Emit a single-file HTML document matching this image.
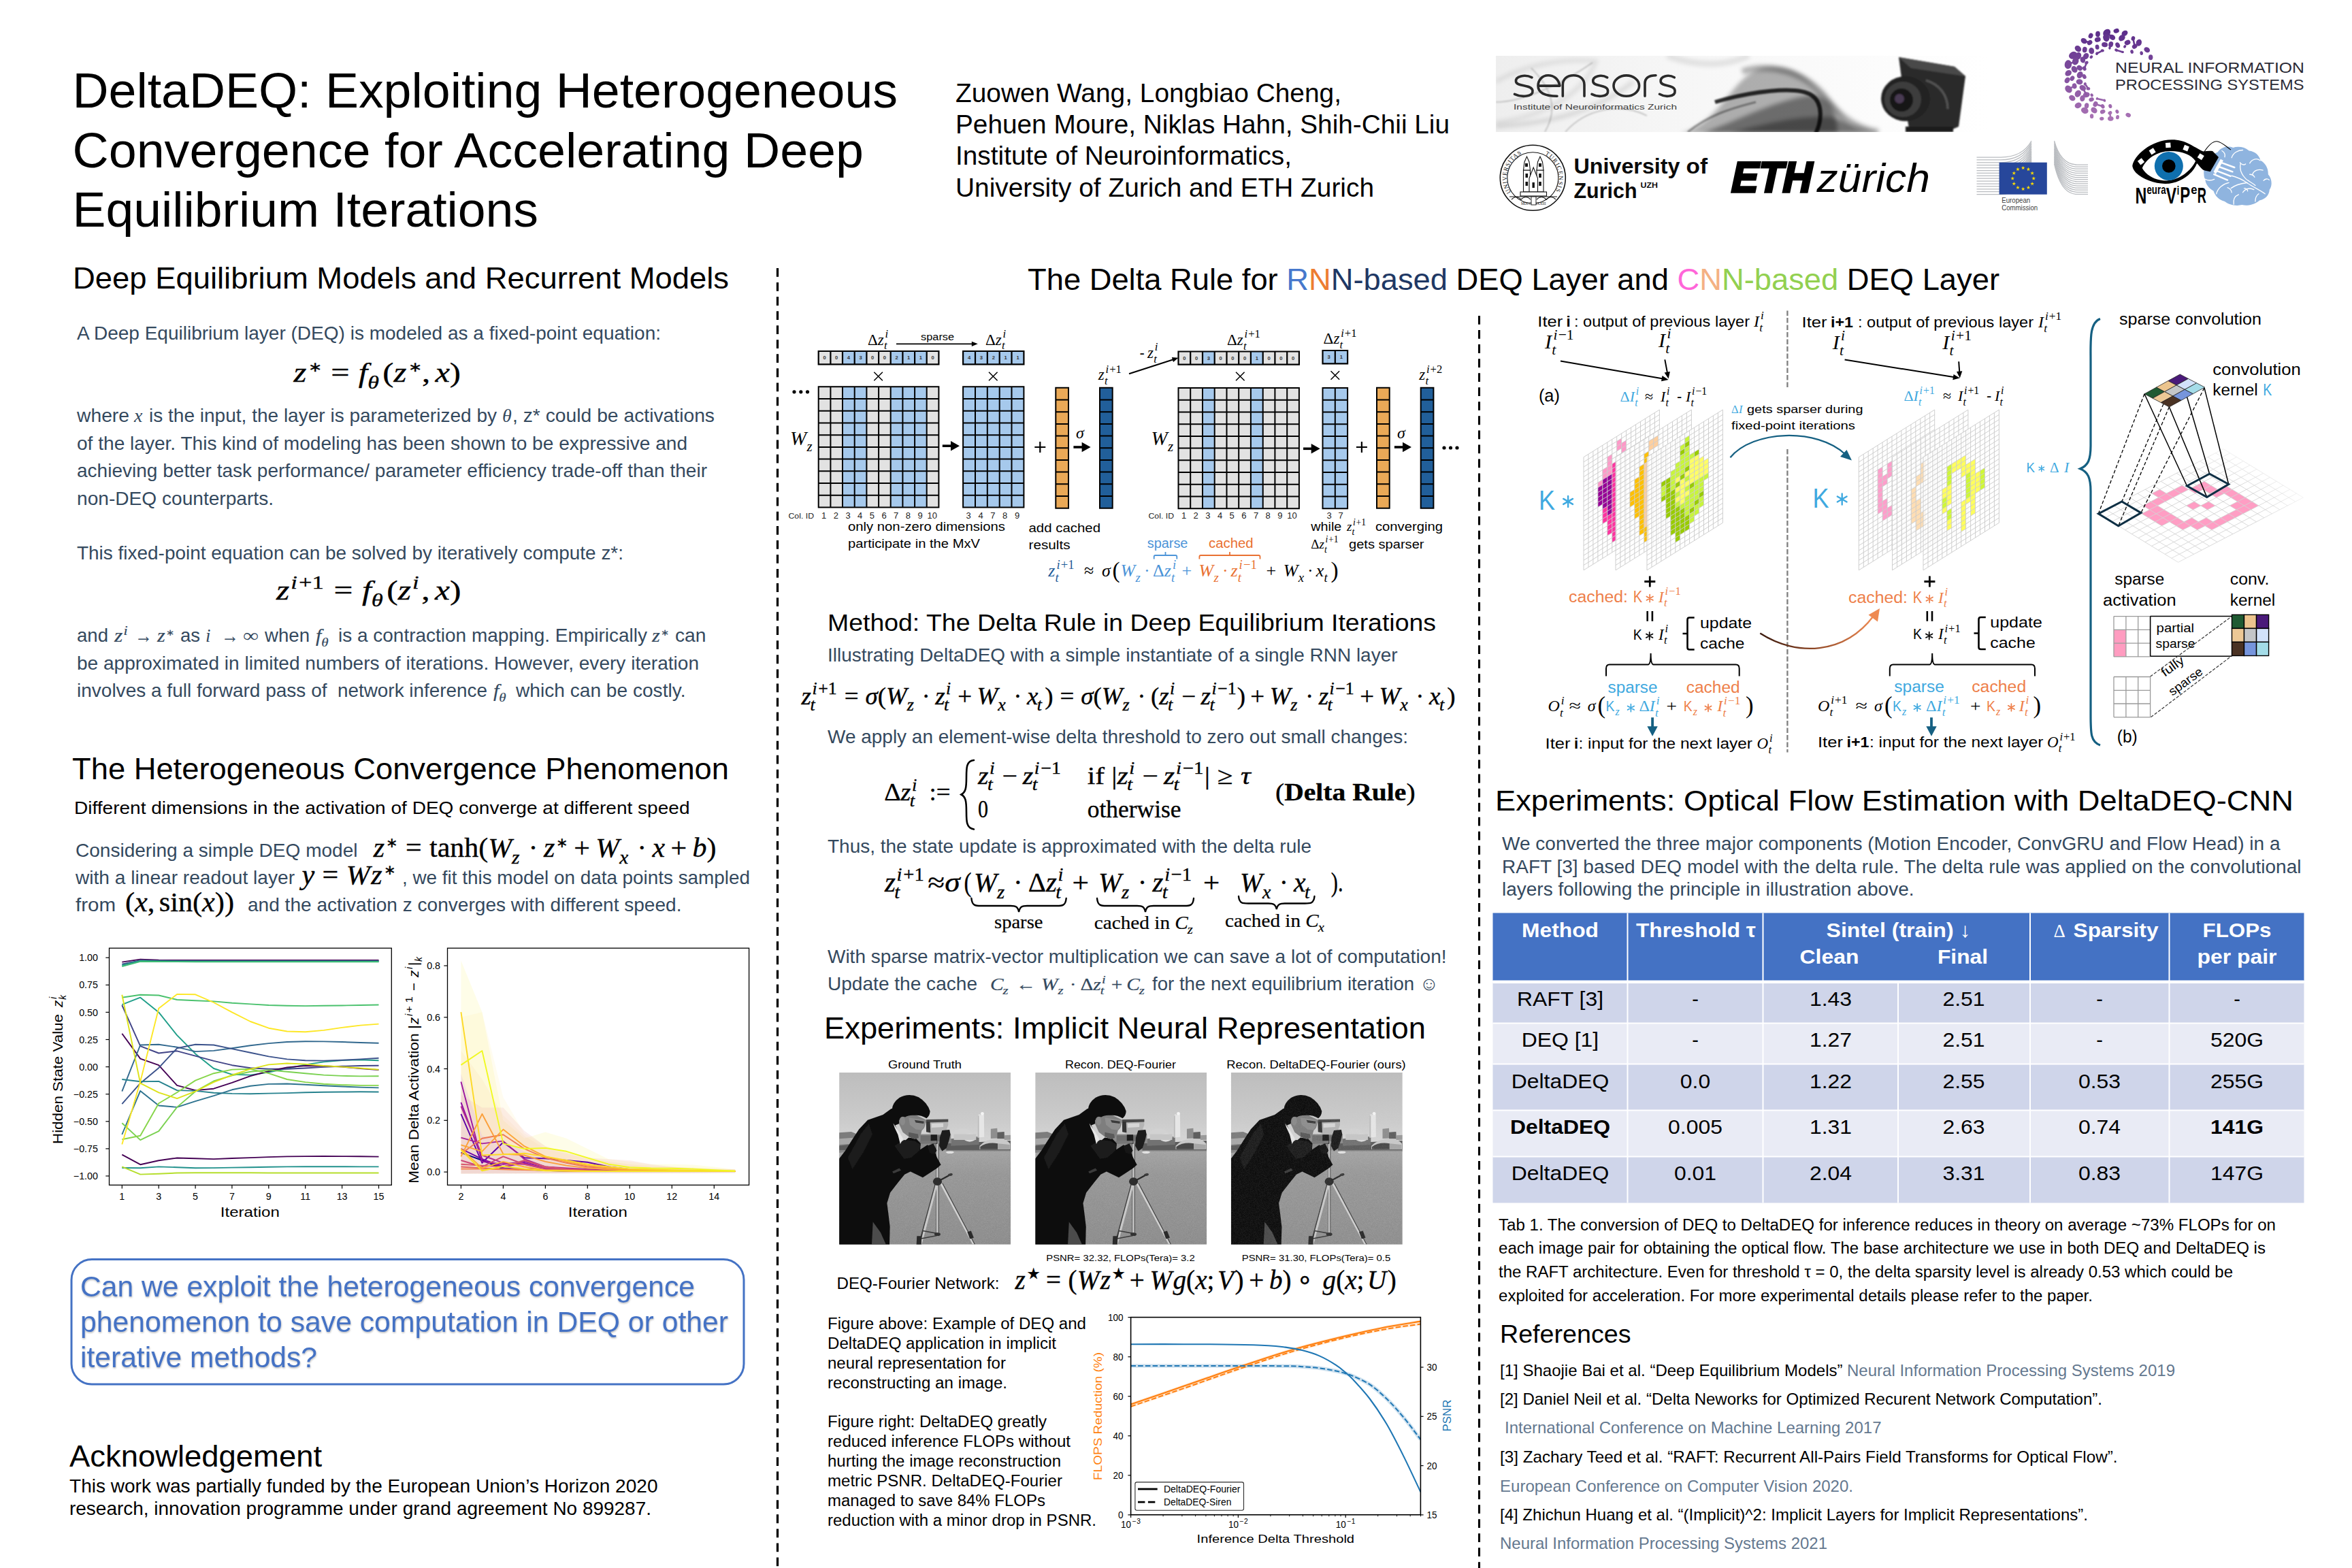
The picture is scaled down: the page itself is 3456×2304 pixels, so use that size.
<!DOCTYPE html>
<html><head><meta charset="utf-8"><title>DeltaDEQ poster</title>
<style>
html,body{margin:0;padding:0;background:#fff;}
body{width:3456px;height:2304px;overflow:hidden;font-family:"Liberation Sans",sans-serif;}
svg{display:block;font-family:"Liberation Sans",sans-serif;}
</style></head><body>
<svg width="3456" height="2304" viewBox="0 0 3456 2304">
<!-- p_text -->
<text x="106.5" y="157.5" font-size="72.0" textLength="1212.5" lengthAdjust="spacingAndGlyphs">DeltaDEQ: Exploiting Heterogeneous</text>
<text x="106.5" y="245.5" font-size="72.0" textLength="1162.5" lengthAdjust="spacingAndGlyphs">Convergence for Accelerating Deep</text>
<text x="106.5" y="332.5" font-size="72.0" textLength="684.5" lengthAdjust="spacingAndGlyphs">Equilibrium Iterations</text>
<text x="1404.0" y="150.0" font-size="39.0" textLength="567.0" lengthAdjust="spacingAndGlyphs">Zuowen Wang, Longbiao Cheng,</text>
<text x="1404.0" y="196.2" font-size="39.0" textLength="726.0" lengthAdjust="spacingAndGlyphs">Pehuen Moure, Niklas Hahn, Shih-Chii Liu</text>
<text x="1404.0" y="242.4" font-size="39.0" textLength="494.0" lengthAdjust="spacingAndGlyphs">Institute of Neuroinformatics,</text>
<text x="1404.0" y="288.6" font-size="39.0" textLength="615.0" lengthAdjust="spacingAndGlyphs">University of Zurich and ETH Zurich</text>
<line x1="1142.5" y1="394.0" x2="1142.5" y2="2304.0" stroke="#000" stroke-width="3.3" stroke-dasharray="12.8,8.25"/>
<line x1="2173.5" y1="464.0" x2="2173.5" y2="2304.0" stroke="#000" stroke-width="3.1" stroke-dasharray="12.8,8.25"/>
<text x="107.0" y="424.0" font-size="44.0" textLength="964.0" lengthAdjust="spacingAndGlyphs">Deep Equilibrium Models and Recurrent Models</text>
<text x="113.0" y="499.0" font-size="28.0" fill="#34495e" textLength="858.0" lengthAdjust="spacingAndGlyphs">A Deep Equilibrium layer (DEQ) is modeled as a fixed-point equation:</text>
<text x="113.0" y="620.0" font-size="28.0" fill="#34495e" textLength="77.0" lengthAdjust="spacingAndGlyphs">where</text>
<text x="197.0" y="620.0" font-size="28.0" font-family="Liberation Serif" font-style="italic" fill="#34495e">x</text>
<text x="219.0" y="620.0" font-size="28.0" fill="#34495e" textLength="511.0" lengthAdjust="spacingAndGlyphs">is the input, the layer is parameterized by</text>
<text x="738.0" y="620.0" font-size="28.0" font-family="Liberation Serif" font-style="italic" fill="#34495e">θ</text>
<text x="753.0" y="620.0" font-size="28.0" fill="#34495e" textLength="297.0" lengthAdjust="spacingAndGlyphs">, z* could be activations</text>
<text x="113.0" y="661.0" font-size="28.0" fill="#34495e" textLength="897.0" lengthAdjust="spacingAndGlyphs">of the layer. This kind of modeling has been shown to be expressive and</text>
<text x="113.0" y="701.0" font-size="28.0" fill="#34495e" textLength="926.0" lengthAdjust="spacingAndGlyphs">achieving better task performance/ parameter efficiency trade-off than their</text>
<text x="113.0" y="741.5" font-size="28.0" fill="#34495e" textLength="289.0" lengthAdjust="spacingAndGlyphs">non-DEQ counterparts.</text>
<text x="113.0" y="821.5" font-size="28.0" fill="#34495e" textLength="803.0" lengthAdjust="spacingAndGlyphs">This fixed-point equation can be solved by iteratively compute z*:</text>
<text x="113.0" y="983.5" font-size="28.0" fill="#34495e" textLength="914.0" lengthAdjust="spacingAndGlyphs">be approximated in limited numbers of iterations. However, every iteration</text>
<text x="106.0" y="1144.5" font-size="44.0" textLength="965.0" lengthAdjust="spacingAndGlyphs">The Heterogeneous Convergence Phenomenon</text>
<text x="109.0" y="1196.0" font-size="26.5" textLength="904.5" lengthAdjust="spacingAndGlyphs">Different dimensions in the activation of DEQ converge at different speed</text>
<text x="111.0" y="1259.0" font-size="28.0" fill="#34495e" textLength="414.5" lengthAdjust="spacingAndGlyphs">Considering a simple DEQ model</text>
<text x="111.0" y="1299.0" font-size="28.0" fill="#34495e" textLength="322.0" lengthAdjust="spacingAndGlyphs">with a linear readout layer</text>
<text x="591.0" y="1299.0" font-size="28.0" fill="#34495e" textLength="511.0" lengthAdjust="spacingAndGlyphs">, we fit this model on data points sampled</text>
<text x="111.0" y="1339.0" font-size="28.0" fill="#34495e" textLength="59.0" lengthAdjust="spacingAndGlyphs">from</text>
<text x="364.0" y="1339.0" font-size="28.0" fill="#34495e" textLength="637.5" lengthAdjust="spacingAndGlyphs">and the activation z converges with different speed.</text>
<rect x="105" y="1850.5" width="988" height="183.5" rx="30" ry="30" fill="#fff" stroke="#4472c4" stroke-width="3"/>
<g filter="url(#tsh)">
<text x="118.0" y="1905.0" font-size="43.0" fill="#4472c4" textLength="903.0" lengthAdjust="spacingAndGlyphs">Can we exploit the heterogeneous convergence</text>
<text x="118.0" y="1957.0" font-size="43.0" fill="#4472c4" textLength="952.0" lengthAdjust="spacingAndGlyphs">phenomenon to save computation in DEQ or other</text>
<text x="118.0" y="2008.5" font-size="43.0" fill="#4472c4" textLength="348.0" lengthAdjust="spacingAndGlyphs">iterative methods?</text>
</g>
<defs><filter id="tsh" x="-2%" y="-20%" width="104%" height="150%"><feDropShadow dx="0.5" dy="1.5" stdDeviation="1.2" flood-color="#000" flood-opacity="0.28"/></filter></defs>
<text x="102.0" y="2154.5" font-size="44.0" textLength="371.0" lengthAdjust="spacingAndGlyphs">Acknowledgement</text>
<text x="102.0" y="2193.0" font-size="27.5" textLength="864.5" lengthAdjust="spacingAndGlyphs">This work was partially funded by the European Union’s Horizon 2020</text>
<text x="102.0" y="2226.0" font-size="27.5" textLength="855.0" lengthAdjust="spacingAndGlyphs">research, innovation programme under grand agreement No 899287.</text>
<text x="1510.0" y="425.5" font-size="44.0" textLength="1428.0" lengthAdjust="spacingAndGlyphs" xml:space="preserve"><tspan fill="#000">The Delta Rule for </tspan><tspan fill="#4678cc">R</tspan><tspan fill="#ed7d31">N</tspan><tspan fill="#1f3864">N-based</tspan><tspan fill="#000"> DEQ Layer and </tspan><tspan fill="#ff66d9">C</tspan><tspan fill="#f4b183">N</tspan><tspan fill="#92d050">N-based</tspan><tspan fill="#000"> DEQ Layer</tspan></text>
<text x="1216.0" y="927.0" font-size="35.5" textLength="894.0" lengthAdjust="spacingAndGlyphs">Method: The Delta Rule in Deep Equilibrium Iterations</text>
<text x="1216.0" y="971.5" font-size="28.0" fill="#34495e" textLength="837.5" lengthAdjust="spacingAndGlyphs">Illustrating DeltaDEQ with a simple instantiate of a single RNN layer</text>
<text x="1216.0" y="1092.0" font-size="28.0" fill="#34495e" textLength="853.0" lengthAdjust="spacingAndGlyphs">We apply an element-wise delta threshold to zero out small changes:</text>
<text x="1216.0" y="1252.5" font-size="28.0" fill="#34495e" textLength="711.0" lengthAdjust="spacingAndGlyphs">Thus, the state update is approximated with the delta rule</text>
<text x="1216.0" y="1415.0" font-size="28.0" fill="#34495e" textLength="909.5" lengthAdjust="spacingAndGlyphs">With sparse matrix-vector multiplication we can save a lot of computation!</text>
<text x="1216.0" y="1454.5" font-size="28.0" fill="#34495e" textLength="220.0" lengthAdjust="spacingAndGlyphs">Update the cache</text>
<text x="1693.0" y="1454.5" font-size="28.0" fill="#34495e" textLength="421.0" lengthAdjust="spacingAndGlyphs">for the next equilibrium iteration ☺</text>
<text x="1211.0" y="1525.5" font-size="44.0" textLength="884.0" lengthAdjust="spacingAndGlyphs">Experiments: Implicit Neural Representation</text>
<text x="1229.5" y="1893.5" font-size="24.0" textLength="239.0" lengthAdjust="spacingAndGlyphs">DEQ-Fourier Network:</text>
<text x="1216.0" y="1953.0" font-size="23.5" textLength="380.0" lengthAdjust="spacingAndGlyphs">Figure above: Example of DEQ and</text>
<text x="1216.0" y="1982.0" font-size="23.5" textLength="336.0" lengthAdjust="spacingAndGlyphs">DeltaDEQ application in implicit</text>
<text x="1216.0" y="2010.5" font-size="23.5" textLength="262.0" lengthAdjust="spacingAndGlyphs">neural representation for</text>
<text x="1216.0" y="2039.5" font-size="23.5" textLength="264.0" lengthAdjust="spacingAndGlyphs">reconstructing an image.</text>
<text x="1216.0" y="2097.0" font-size="23.5" textLength="322.0" lengthAdjust="spacingAndGlyphs">Figure right: DeltaDEQ greatly</text>
<text x="1216.0" y="2125.5" font-size="23.5" textLength="357.0" lengthAdjust="spacingAndGlyphs">reduced inference FLOPs without</text>
<text x="1216.0" y="2154.5" font-size="23.5" textLength="343.0" lengthAdjust="spacingAndGlyphs">hurting the image reconstruction</text>
<text x="1216.0" y="2184.0" font-size="23.5" textLength="345.0" lengthAdjust="spacingAndGlyphs">metric PSNR. DeltaDEQ-Fourier</text>
<text x="1216.0" y="2213.0" font-size="23.5" textLength="320.0" lengthAdjust="spacingAndGlyphs">managed to save 84% FLOPs</text>
<text x="1216.0" y="2241.5" font-size="23.5" textLength="395.0" lengthAdjust="spacingAndGlyphs">reduction with a minor drop in PSNR.</text>
<text x="2197.0" y="1191.0" font-size="42.0" textLength="1173.0" lengthAdjust="spacingAndGlyphs">Experiments: Optical Flow Estimation with DeltaDEQ-CNN</text>
<text x="2207.0" y="1248.5" font-size="27.0" fill="#34495e" textLength="1143.5" lengthAdjust="spacingAndGlyphs">We converted the three major components (Motion Encoder, ConvGRU and Flow Head) in a</text>
<text x="2207.0" y="1282.5" font-size="27.0" fill="#34495e" textLength="1174.5" lengthAdjust="spacingAndGlyphs">RAFT [3] based DEQ model with the delta rule. The delta rule was applied on the convolutional</text>
<text x="2207.0" y="1315.5" font-size="27.0" fill="#34495e" textLength="605.5" lengthAdjust="spacingAndGlyphs">layers following the principle in illustration above.</text>
<text x="2202.0" y="1807.5" font-size="23.5" textLength="1142.0" lengthAdjust="spacingAndGlyphs">Tab 1. The conversion of DEQ to DeltaDEQ for inference reduces in theory on average ~73% FLOPs for on</text>
<text x="2202.0" y="1841.5" font-size="23.5" textLength="1127.0" lengthAdjust="spacingAndGlyphs">each image pair for obtaining the optical flow. The base architecture we use in both DEQ and DeltaDEQ is</text>
<text x="2202.0" y="1876.5" font-size="23.5" textLength="1079.0" lengthAdjust="spacingAndGlyphs">the RAFT architecture. Even for threshold τ = 0, the delta sparsity level is already 0.53 which could be</text>
<text x="2202.0" y="1912.0" font-size="23.5" textLength="873.0" lengthAdjust="spacingAndGlyphs">exploited for acceleration. For more experimental details please refer to the paper.</text>
<text x="2204.0" y="1973.0" font-size="37.0" textLength="192.5" lengthAdjust="spacingAndGlyphs">References</text>
<text x="2204.0" y="2021.5" font-size="24.0" textLength="503.5" lengthAdjust="spacingAndGlyphs">[1] Shaojie Bai et al. “Deep Equilibrium Models”</text>
<text x="2714.0" y="2021.5" font-size="24.0" fill="#64788f" textLength="482.0" lengthAdjust="spacingAndGlyphs">Neural Information Processing Systems 2019</text>
<text x="2204.0" y="2064.0" font-size="24.0" textLength="885.0" lengthAdjust="spacingAndGlyphs">[2] Daniel Neil et al. “Delta Neworks for Optimized Recurent Network Computation”.</text>
<text x="2211.0" y="2106.0" font-size="24.0" fill="#64788f" textLength="553.5" lengthAdjust="spacingAndGlyphs">International Conference on Machine Learning 2017</text>
<text x="2204.0" y="2149.0" font-size="24.0" textLength="907.5" lengthAdjust="spacingAndGlyphs">[3] Zachary Teed et al. “RAFT: Recurrent All-Pairs Field Transforms for Optical Flow”.</text>
<text x="2204.0" y="2191.5" font-size="24.0" fill="#64788f" textLength="519.0" lengthAdjust="spacingAndGlyphs">European Conference on Computer Vision 2020.</text>
<text x="2204.0" y="2233.5" font-size="24.0" textLength="864.0" lengthAdjust="spacingAndGlyphs">[4] Zhichun Huang et al. “(Implicit)^2: Implicit Layers for Implicit Representations”.</text>
<text x="2204.0" y="2276.0" font-size="24.0" fill="#64788f" textLength="481.0" lengthAdjust="spacingAndGlyphs">Neural Information Processing Systems 2021</text>
<!-- p_logos -->
<defs><linearGradient id="bn" x1="0" y1="0" x2="1" y2="0"><stop offset="0" stop-color="#eeeeee"/><stop offset="0.35" stop-color="#f6f6f6"/><stop offset="1" stop-color="#ffffff"/></linearGradient><clipPath id="bnc"><rect x="2198" y="82" width="722" height="112"/></clipPath><filter id="smk" x="-5%" y="-20%" width="110%" height="140%"><feGaussianBlur stdDeviation="3.2"/></filter><filter id="smk2" x="-5%" y="-20%" width="110%" height="140%"><feGaussianBlur stdDeviation="1.3"/></filter></defs>
<rect x="2198.0" y="82.0" width="722.0" height="112.0" fill="url(#bn)" />
<g clip-path="url(#bnc)">
<g filter="url(#smk)" stroke="none" fill="#000">
<path d="M2470 196 C2530 180 2545 110 2590 100 C2640 92 2660 120 2690 150 C2710 175 2720 190 2745 196Z" fill-opacity="0.30"/>
<path d="M2500 196 C2560 175 2600 150 2660 140 C2690 140 2700 170 2700 196Z" fill-opacity="0.38"/>
<path d="M2540 196 C2600 180 2640 170 2690 172 L2760 196Z" fill-opacity="0.35"/>
</g>
<g filter="url(#smk)" fill="none" stroke="#000">
<path d="M2198 120 C2240 95 2300 85 2345 90 C2330 130 2280 170 2198 180" stroke-width="5" stroke-opacity="0.10"/>
<path d="M2450 82 C2500 100 2540 95 2570 82" stroke-width="8" stroke-opacity="0.10"/>
<path d="M2198 186 C2290 180 2350 160 2400 120" stroke-width="6" stroke-opacity="0.12"/>
<path d="M2560 105 C2600 92 2650 105 2680 140 C2700 165 2720 188 2760 194" stroke-width="9" stroke-opacity="0.30"/>
</g>
<g filter="url(#smk2)" fill="none" stroke="#000">
<path d="M2520 150 C2570 135 2640 125 2662 140 C2680 152 2676 180 2668 196" stroke-width="6" stroke-opacity="0.8"/>
<path d="M2250 100 C2280 130 2290 160 2270 194 M2198 150 C2240 150 2300 120 2340 92 M2300 194 C2330 160 2380 150 2420 170" stroke-width="1.6" stroke-opacity="0.22"/>
<path d="M2480 194 C2510 170 2540 160 2580 150" stroke-width="3" stroke-opacity="0.35"/>
</g>
<g filter="url(#smk2)">
<polygon points="2790,84 2872,98 2888,112 2878,186 2860,194 2806,194 2800,160" fill="#2b2b2b"/>
<polygon points="2790,84 2872,98 2888,112 2808,100" fill="#4a4a4a"/>
<ellipse cx="2800" cy="145" rx="36" ry="33" fill="#232323"/>
<ellipse cx="2796" cy="146" rx="27" ry="26" fill="#3c3c3c"/>
<ellipse cx="2794" cy="147" rx="17" ry="17" fill="#141414"/>
<ellipse cx="2791" cy="145" rx="7" ry="7" fill="#4a3b52"/>
<path d="M2830 118 C2850 124 2862 140 2862 160" stroke="#555" stroke-width="3" fill="none"/>
<rect x="2800" y="186" width="70" height="8" fill="#1c1c1c"/>
</g>
</g>
<path d="M2251.0 113.8 C2240.8 108.8 2226.5 111.8 2227.5 119.8 C2228.6 127.8 2251.0 123.8 2252.0 133.3 C2253.0 142.3 2235.7 143.3 2225.5 138.3" fill="none" stroke="#2a2a2a" stroke-width="3.6" stroke-linecap="round" stroke-linejoin="round"/>
<path d="M2260.0 126.1 H2292.0 C2290.0 114.8 2282.0 110.8 2275.0 110.8 C2265.0 110.8 2260.0 118.8 2260.0 126.1 C2260.0 135.3 2267.0 141.3 2288.0 141.3" fill="none" stroke="#2a2a2a" stroke-width="3.6" stroke-linecap="round" stroke-linejoin="round"/>
<path d="M2296.3 141.3 V124.8 C2296.3 115.8 2303.1 110.8 2312.1 110.8 C2321.2 110.8 2328.0 115.8 2328.0 124.8 V141.3" fill="none" stroke="#2a2a2a" stroke-width="3.6" stroke-linecap="round" stroke-linejoin="round"/>
<path d="M2361.7 113.8 C2352.6 108.8 2339.9 111.8 2340.8 119.8 C2341.7 127.8 2361.7 123.8 2362.6 133.3 C2363.5 142.3 2348.1 143.3 2339.0 138.3" fill="none" stroke="#2a2a2a" stroke-width="3.6" stroke-linecap="round" stroke-linejoin="round"/>
<ellipse cx="2389.8" cy="126.1" rx="18.8" ry="15.2" fill="none" stroke="#2a2a2a" stroke-width="3.6"/>
<path d="M2417.0 141.3 V122.8 C2417.0 114.8 2423.0 110.8 2433.0 110.8" fill="none" stroke="#2a2a2a" stroke-width="3.6" stroke-linecap="round" stroke-linejoin="round"/>
<path d="M2460.3 113.8 C2451.6 108.8 2439.4 111.8 2440.2 119.8 C2441.1 127.8 2460.3 123.8 2461.1 133.3 C2462.0 142.3 2447.2 143.3 2438.5 138.3" fill="none" stroke="#2a2a2a" stroke-width="3.6" stroke-linecap="round" stroke-linejoin="round"/>
<text x="2224.0" y="161.2" font-size="10.8" fill="#3c3c3c" textLength="240.0" lengthAdjust="spacingAndGlyphs">Institute  of  Neuroinformatics  Zurich</text>
<circle cx="2252.3" cy="261.3" r="48.0" fill="#fff" stroke="#111" stroke-width="1.6"/>
<circle cx="2252.3" cy="261.3" r="37.5" fill="none" stroke="#111" stroke-width="1.1"/>
<defs><path id="sealp" d="M2220.8 283.4 A38.5 38.5 0 1 1 2283.8 283.4"/></defs>
<text font-size="9" font-family="Liberation Serif" fill="#111"><textPath href="#sealp" startOffset="1" textLength="66" lengthAdjust="spacing">UNIVERSITAS</textPath></text>
<text font-size="9" font-family="Liberation Serif" fill="#111"><textPath href="#sealp" startOffset="102" textLength="62" lengthAdjust="spacing">TURICENSIS</textPath></text>
<g fill="#fff" stroke="#111" stroke-width="1.1">
<rect x="2238.5" y="250" width="10" height="32"/><rect x="2258" y="250" width="10" height="32"/>
<path d="M2238.5 250 L2240 238 L2243.5 230 L2247 238 L2248.5 250Z"/><path d="M2258 250 L2259.5 238 L2263 230 L2266.5 238 L2268 250Z"/>
<path d="M2247 282 V262 L2253.2 246 L2259.5 262 V282Z"/>
<rect x="2234" y="282" width="38.5" height="6"/>
</g>
<g fill="#111"><rect x="2241.5" y="255" width="3.6" height="6"/><rect x="2261.2" y="255" width="3.6" height="6"/><rect x="2241.5" y="267" width="3.6" height="6"/><rect x="2261.2" y="267" width="3.6" height="6"/><rect x="2251.5" y="268" width="3.4" height="8"/><rect x="2241" y="240" width="4" height="5"/><rect x="2261" y="240" width="4" height="5"/></g>
<path d="M2218 289 H2288 M2221 293 Q2228 286 2235 293 Q2242 286 2249 293 M2258 293 Q2265 286 2272 293 Q2279 286 2286 293" fill="none" stroke="#111" stroke-width="1.1"/>
<text x="2253.2" y="301.0" font-size="5.2" font-family="Liberation Serif" fill="#111" text-anchor="middle">MDCCC  XXXIII</text>
<rect x="2250" y="289" width="7" height="12" fill="#fff" stroke="#111" stroke-width="0.9"/>
<text x="2312.5" y="255.0" font-size="31.5" font-weight="bold" fill="#0a0a0a" textLength="156.0" lengthAdjust="spacingAndGlyphs">University</text>
<text x="2477.5" y="255.0" font-size="31.5" font-weight="bold" fill="#0a0a0a" textLength="31.5" lengthAdjust="spacingAndGlyphs">of</text>
<text x="2312.5" y="291.2" font-size="31.5" font-weight="bold" fill="#0a0a0a" textLength="93.0" lengthAdjust="spacingAndGlyphs">Zurich</text>
<text x="2410.5" y="276.4" font-size="11.2" font-weight="bold" fill="#0a0a0a" textLength="25.5" lengthAdjust="spacingAndGlyphs">UZH</text>
<g transform="translate(2540,282) skewX(-12)"><text x="1.0" y="0.0" font-size="62.8" font-weight="bold" textLength="118.0" lengthAdjust="spacingAndGlyphs" stroke="#000" stroke-width="3.6" stroke-linejoin="miter">ETH</text></g>
<text x="2669.5" y="282.0" font-size="59.5" font-style="italic" textLength="166.5" lengthAdjust="spacingAndGlyphs">zürich</text>
<g stroke="#b9bcc0" stroke-width="1.25" fill="none">
<path d="M2904.5 231.0 H2940 Q2972 231.0 2985 207.0"/>
<path d="M2904.5 234.9 H2940 Q2972 234.9 2985 209.4"/>
<path d="M2904.5 238.8 H2940 Q2972 238.8 2985 211.8"/>
<path d="M2904.5 242.7 H2940 Q2972 242.7 2985 214.2"/>
<path d="M2904.5 246.6 H2940 Q2972 246.6 2985 216.6"/>
<path d="M2904.5 250.5 H2940 Q2972 250.5 2985 219.0"/>
<path d="M2904.5 254.4 H2940 Q2972 254.4 2985 221.4"/>
<path d="M2904.5 258.3 H2940 Q2972 258.3 2985 223.8"/>
<path d="M2904.5 262.2 H2940 Q2972 262.2 2985 226.2"/>
<path d="M2904.5 266.1 H2940 Q2972 266.1 2985 228.6"/>
<path d="M2904.5 270.0 H2940 Q2972 270.0 2985 231.0"/>
<path d="M2904.5 273.9 H2940 Q2972 273.9 2985 233.4"/>
<path d="M2904.5 277.8 H2940 Q2972 277.8 2985 235.8"/>
<path d="M2904.5 281.7 H2940 Q2972 281.7 2985 238.2"/>
<path d="M2904.5 285.6 H2940 Q2972 285.6 2985 240.6"/>
<path d="M3018.5 207.0 Q3028 242.0 3052 242.0 H3068"/>
<path d="M3018.5 209.4 Q3028 245.1 3052 245.1 H3068"/>
<path d="M3018.5 211.8 Q3028 248.2 3052 248.2 H3068"/>
<path d="M3018.5 214.2 Q3028 251.3 3052 251.3 H3068"/>
<path d="M3018.5 216.6 Q3028 254.4 3052 254.4 H3068"/>
<path d="M3018.5 219.0 Q3028 257.5 3052 257.5 H3068"/>
<path d="M3018.5 221.4 Q3028 260.6 3052 260.6 H3068"/>
<path d="M3018.5 223.8 Q3028 263.7 3052 263.7 H3068"/>
<path d="M3018.5 226.2 Q3028 266.8 3052 266.8 H3068"/>
<path d="M3018.5 228.6 Q3028 269.9 3052 269.9 H3068"/>
<path d="M3018.5 231.0 Q3028 273.0 3052 273.0 H3068"/>
<path d="M3018.5 233.4 Q3028 276.1 3052 276.1 H3068"/>
<path d="M3018.5 235.8 Q3028 279.2 3052 279.2 H3068"/>
<path d="M3018.5 238.2 Q3028 282.3 3052 282.3 H3068"/>
<path d="M3018.5 240.6 Q3028 285.4 3052 285.4 H3068"/>
</g>
<rect x="2937.6" y="238.7" width="70.2" height="47.0" fill="#27479b" />
<polygon points="2972.7,243.7 2973.4,245.7 2975.6,245.8 2973.8,247.1 2974.5,249.1 2972.7,247.9 2970.9,249.1 2971.6,247.1 2969.8,245.8 2972.0,245.7" fill="#ffdd00"/>
<polygon points="2980.4,245.8 2981.2,247.8 2983.3,247.8 2981.6,249.1 2982.2,251.2 2980.4,250.0 2978.7,251.2 2979.3,249.1 2977.6,247.8 2979.7,247.8" fill="#ffdd00"/>
<polygon points="2986.1,251.4 2986.8,253.5 2989.0,253.5 2987.3,254.8 2987.9,256.9 2986.1,255.6 2984.4,256.9 2985.0,254.8 2983.3,253.5 2985.4,253.5" fill="#ffdd00"/>
<polygon points="2988.2,259.2 2988.9,261.2 2991.1,261.3 2989.3,262.6 2990.0,264.6 2988.2,263.4 2986.4,264.6 2987.1,262.6 2985.3,261.3 2987.5,261.2" fill="#ffdd00"/>
<polygon points="2986.1,266.9 2986.8,269.0 2989.0,269.0 2987.3,270.3 2987.9,272.4 2986.1,271.1 2984.4,272.4 2985.0,270.3 2983.3,269.0 2985.4,269.0" fill="#ffdd00"/>
<polygon points="2980.4,272.6 2981.2,274.7 2983.3,274.7 2981.6,276.0 2982.2,278.1 2980.4,276.8 2978.7,278.1 2979.3,276.0 2977.6,274.7 2979.7,274.7" fill="#ffdd00"/>
<polygon points="2972.7,274.7 2973.4,276.7 2975.6,276.8 2973.8,278.1 2974.5,280.1 2972.7,278.9 2970.9,280.1 2971.6,278.1 2969.8,276.8 2972.0,276.7" fill="#ffdd00"/>
<polygon points="2964.9,272.6 2965.7,274.7 2967.8,274.7 2966.1,276.0 2966.7,278.1 2964.9,276.8 2963.2,278.1 2963.8,276.0 2962.1,274.7 2964.2,274.7" fill="#ffdd00"/>
<polygon points="2959.3,266.9 2960.0,269.0 2962.1,269.0 2960.4,270.3 2961.0,272.4 2959.3,271.1 2957.5,272.4 2958.1,270.3 2956.4,269.0 2958.6,269.0" fill="#ffdd00"/>
<polygon points="2957.2,259.2 2957.9,261.2 2960.1,261.3 2958.3,262.6 2959.0,264.6 2957.2,263.4 2955.4,264.6 2956.1,262.6 2954.3,261.3 2956.5,261.2" fill="#ffdd00"/>
<polygon points="2959.3,251.4 2960.0,253.5 2962.1,253.5 2960.4,254.8 2961.0,256.9 2959.3,255.6 2957.5,256.9 2958.1,254.8 2956.4,253.5 2958.6,253.5" fill="#ffdd00"/>
<polygon points="2964.9,245.8 2965.7,247.8 2967.8,247.8 2966.1,249.1 2966.7,251.2 2964.9,250.0 2963.2,251.2 2963.8,249.1 2962.1,247.8 2964.2,247.8" fill="#ffdd00"/>
<text x="2941.2" y="298.0" font-size="10.2" fill="#404040" textLength="42.0" lengthAdjust="spacingAndGlyphs">European</text>
<text x="2941.2" y="309.3" font-size="10.2" fill="#404040" textLength="53.0" lengthAdjust="spacingAndGlyphs">Commission</text>
<ellipse cx="3160.2" cy="84.3" rx="4.0" ry="3.2" fill="#734297" transform="rotate(90 3160.2 84.3)"/>
<ellipse cx="3154.7" cy="73.2" rx="4.6" ry="3.7" fill="#6c3c93" transform="rotate(33 3154.7 73.2)"/>
<ellipse cx="3142.8" cy="62.7" rx="5.1" ry="4.1" fill="#65368f" transform="rotate(107 3142.8 62.7)"/>
<ellipse cx="3134.4" cy="56.5" rx="3.4" ry="2.8" fill="#62338d" transform="rotate(104 3134.4 56.5)"/>
<ellipse cx="3122.0" cy="48.9" rx="4.8" ry="3.8" fill="#5d2f8b" transform="rotate(144 3122.0 48.9)"/>
<ellipse cx="3109.7" cy="45.3" rx="4.2" ry="3.3" fill="#5b2d8a" transform="rotate(164 3109.7 45.3)"/>
<ellipse cx="3095.7" cy="48.1" rx="6.0" ry="4.8" fill="#5d2e8b" transform="rotate(137 3095.7 48.1)"/>
<ellipse cx="3082.5" cy="50.0" rx="4.3" ry="3.4" fill="#5e308b" transform="rotate(94 3082.5 50.0)"/>
<ellipse cx="3072.1" cy="52.6" rx="4.0" ry="3.2" fill="#5f318c" transform="rotate(119 3072.1 52.6)"/>
<ellipse cx="3062.1" cy="60.1" rx="4.8" ry="3.8" fill="#64358f" transform="rotate(36 3062.1 60.1)"/>
<ellipse cx="3053.4" cy="71.6" rx="5.1" ry="4.1" fill="#6b3b92" transform="rotate(40 3053.4 71.6)"/>
<ellipse cx="3046.2" cy="81.3" rx="6.4" ry="5.2" fill="#714096" transform="rotate(152 3046.2 81.3)"/>
<ellipse cx="3038.9" cy="94.8" rx="6.5" ry="5.2" fill="#79489a" transform="rotate(97 3038.9 94.8)"/>
<ellipse cx="3039.2" cy="107.4" rx="5.1" ry="4.1" fill="#814f9e" transform="rotate(144 3039.2 107.4)"/>
<ellipse cx="3037.6" cy="117.9" rx="4.5" ry="3.6" fill="#8754a2" transform="rotate(122 3037.6 117.9)"/>
<ellipse cx="3039.5" cy="131.0" rx="5.9" ry="4.7" fill="#8f5ba6" transform="rotate(50 3039.5 131.0)"/>
<ellipse cx="3044.8" cy="144.0" rx="4.9" ry="3.9" fill="#9762aa" transform="rotate(34 3044.8 144.0)"/>
<ellipse cx="3053.6" cy="154.9" rx="5.1" ry="4.1" fill="#9d68ae" transform="rotate(155 3053.6 154.9)"/>
<ellipse cx="3063.3" cy="162.4" rx="5.5" ry="4.4" fill="#a26cb0" transform="rotate(23 3063.3 162.4)"/>
<ellipse cx="3073.6" cy="170.7" rx="3.4" ry="2.7" fill="#a771b3" transform="rotate(89 3073.6 170.7)"/>
<ellipse cx="3088.3" cy="174.4" rx="3.2" ry="2.6" fill="#a872b4" transform="rotate(169 3088.3 174.4)"/>
<ellipse cx="3101.3" cy="174.3" rx="4.3" ry="3.4" fill="#a872b4" transform="rotate(0 3101.3 174.3)"/>
<ellipse cx="3111.5" cy="172.2" rx="3.1" ry="2.5" fill="#a872b4" transform="rotate(97 3111.5 172.2)"/>
<ellipse cx="3127.2" cy="169.1" rx="3.9" ry="3.1" fill="#a670b3" transform="rotate(27 3127.2 169.1)"/>
<ellipse cx="3146.7" cy="78.1" rx="2.9" ry="2.3" fill="#6f3f95" transform="rotate(83 3146.7 78.1)"/>
<ellipse cx="3136.7" cy="68.2" rx="4.1" ry="3.3" fill="#693991" transform="rotate(144 3136.7 68.2)"/>
<ellipse cx="3126.1" cy="62.5" rx="4.5" ry="3.6" fill="#65368f" transform="rotate(157 3126.1 62.5)"/>
<ellipse cx="3117.9" cy="55.7" rx="5.2" ry="4.2" fill="#61338d" transform="rotate(138 3117.9 55.7)"/>
<ellipse cx="3103.7" cy="54.8" rx="4.8" ry="3.8" fill="#61328d" transform="rotate(36 3103.7 54.8)"/>
<ellipse cx="3094.9" cy="55.3" rx="5.9" ry="4.7" fill="#61328d" transform="rotate(83 3094.9 55.3)"/>
<ellipse cx="3082.3" cy="58.2" rx="4.5" ry="3.6" fill="#63348e" transform="rotate(161 3082.3 58.2)"/>
<ellipse cx="3070.6" cy="62.6" rx="4.1" ry="3.3" fill="#65368f" transform="rotate(144 3070.6 62.6)"/>
<ellipse cx="3063.3" cy="73.0" rx="4.3" ry="3.4" fill="#6c3c93" transform="rotate(96 3063.3 73.0)"/>
<ellipse cx="3053.7" cy="82.1" rx="5.5" ry="4.4" fill="#714196" transform="rotate(109 3053.7 82.1)"/>
<ellipse cx="3049.7" cy="89.9" rx="5.7" ry="4.6" fill="#764598" transform="rotate(110 3049.7 89.9)"/>
<ellipse cx="3048.1" cy="101.9" rx="5.2" ry="4.1" fill="#7d4c9c" transform="rotate(57 3048.1 101.9)"/>
<ellipse cx="3044.9" cy="115.1" rx="3.9" ry="3.1" fill="#8553a1" transform="rotate(126 3044.9 115.1)"/>
<ellipse cx="3048.2" cy="126.4" rx="4.1" ry="3.3" fill="#8c59a5" transform="rotate(74 3048.2 126.4)"/>
<ellipse cx="3053.3" cy="137.6" rx="5.4" ry="4.3" fill="#935fa8" transform="rotate(122 3053.3 137.6)"/>
<ellipse cx="3059.9" cy="144.5" rx="4.6" ry="3.7" fill="#9763aa" transform="rotate(97 3059.9 144.5)"/>
<ellipse cx="3066.1" cy="155.2" rx="4.0" ry="3.2" fill="#9d68ae" transform="rotate(98 3066.1 155.2)"/>
<ellipse cx="3077.0" cy="162.0" rx="5.0" ry="4.0" fill="#a26cb0" transform="rotate(40 3077.0 162.0)"/>
<ellipse cx="3089.7" cy="164.1" rx="3.9" ry="3.1" fill="#a36db1" transform="rotate(152 3089.7 164.1)"/>
<ellipse cx="3100.4" cy="165.9" rx="3.1" ry="2.5" fill="#a46eb2" transform="rotate(152 3100.4 165.9)"/>
<ellipse cx="3110.9" cy="163.9" rx="3.0" ry="2.4" fill="#a36db1" transform="rotate(66 3110.9 163.9)"/>
<ellipse cx="3132.6" cy="76.0" rx="2.9" ry="2.3" fill="#6e3e94" transform="rotate(77 3132.6 76.0)"/>
<ellipse cx="3122.2" cy="68.3" rx="2.4" ry="1.9" fill="#693991" transform="rotate(127 3122.2 68.3)"/>
<ellipse cx="3111.7" cy="66.3" rx="4.1" ry="3.2" fill="#683891" transform="rotate(64 3111.7 66.3)"/>
<ellipse cx="3101.7" cy="65.1" rx="4.2" ry="3.4" fill="#673890" transform="rotate(106 3101.7 65.1)"/>
<ellipse cx="3092.6" cy="65.7" rx="4.5" ry="3.6" fill="#673890" transform="rotate(5 3092.6 65.7)"/>
<ellipse cx="3081.6" cy="69.1" rx="3.7" ry="2.9" fill="#693a92" transform="rotate(81 3081.6 69.1)"/>
<ellipse cx="3073.2" cy="74.7" rx="4.8" ry="3.9" fill="#6d3d93" transform="rotate(78 3073.2 74.7)"/>
<ellipse cx="3065.1" cy="82.5" rx="4.9" ry="3.9" fill="#714196" transform="rotate(125 3065.1 82.5)"/>
<ellipse cx="3060.4" cy="87.9" rx="4.7" ry="3.7" fill="#754498" transform="rotate(73 3060.4 87.9)"/>
<ellipse cx="3055.7" cy="99.9" rx="4.5" ry="3.6" fill="#7c4a9c" transform="rotate(36 3055.7 99.9)"/>
<ellipse cx="3056.2" cy="110.0" rx="5.2" ry="4.2" fill="#82509f" transform="rotate(122 3056.2 110.0)"/>
<ellipse cx="3055.5" cy="120.3" rx="4.9" ry="4.0" fill="#8856a3" transform="rotate(6 3055.5 120.3)"/>
<ellipse cx="3060.3" cy="129.2" rx="5.0" ry="4.0" fill="#8e5aa5" transform="rotate(31 3060.3 129.2)"/>
<ellipse cx="3065.7" cy="139.2" rx="5.0" ry="4.0" fill="#9460a9" transform="rotate(168 3065.7 139.2)"/>
<ellipse cx="3073.1" cy="146.2" rx="3.8" ry="3.0" fill="#9864ab" transform="rotate(159 3073.1 146.2)"/>
<ellipse cx="3079.0" cy="153.0" rx="4.2" ry="3.4" fill="#9c67ad" transform="rotate(113 3079.0 153.0)"/>
<ellipse cx="3089.7" cy="156.3" rx="3.4" ry="2.7" fill="#9e69ae" transform="rotate(62 3089.7 156.3)"/>
<ellipse cx="3100.8" cy="156.0" rx="3.1" ry="2.5" fill="#9e69ae" transform="rotate(75 3100.8 156.0)"/>
<ellipse cx="3118.9" cy="76.4" rx="2.1" ry="1.6" fill="#6e3e94" transform="rotate(10 3118.9 76.4)"/>
<ellipse cx="3109.6" cy="73.6" rx="2.6" ry="2.1" fill="#6c3c93" transform="rotate(34 3109.6 73.6)"/>
<ellipse cx="3100.0" cy="70.4" rx="2.3" ry="1.8" fill="#6a3b92" transform="rotate(100 3100.0 70.4)"/>
<ellipse cx="3089.3" cy="74.4" rx="2.6" ry="2.1" fill="#6d3d93" transform="rotate(3 3089.3 74.4)"/>
<ellipse cx="3081.2" cy="78.6" rx="2.5" ry="2.0" fill="#6f3f95" transform="rotate(122 3081.2 78.6)"/>
<ellipse cx="3072.9" cy="83.7" rx="2.6" ry="2.1" fill="#724296" transform="rotate(136 3072.9 83.7)"/>
<ellipse cx="3066.0" cy="92.2" rx="2.9" ry="2.3" fill="#774699" transform="rotate(143 3066.0 92.2)"/>
<ellipse cx="3062.8" cy="100.6" rx="3.4" ry="2.7" fill="#7c4b9c" transform="rotate(70 3062.8 100.6)"/>
<ellipse cx="3062.6" cy="112.5" rx="3.6" ry="2.9" fill="#8451a0" transform="rotate(62 3062.6 112.5)"/>
<ellipse cx="3063.7" cy="123.3" rx="2.4" ry="1.9" fill="#8a57a3" transform="rotate(121 3063.7 123.3)"/>
<ellipse cx="3068.4" cy="130.2" rx="2.9" ry="2.3" fill="#8e5ba6" transform="rotate(9 3068.4 130.2)"/>
<ellipse cx="3073.7" cy="139.8" rx="2.6" ry="2.1" fill="#9460a9" transform="rotate(62 3073.7 139.8)"/>
<ellipse cx="3081.4" cy="144.9" rx="2.0" ry="1.6" fill="#9763ab" transform="rotate(125 3081.4 144.9)"/>
<ellipse cx="3092.4" cy="147.6" rx="2.2" ry="1.8" fill="#9964ac" transform="rotate(68 3092.4 147.6)"/>
<line x1="3134.4" y1="56.5" x2="3136.7" y2="68.2" stroke="#62338d" stroke-width="2.6" stroke-linecap="round"/>
<line x1="3095.7" y1="48.1" x2="3103.7" y2="54.8" stroke="#5d2e8b" stroke-width="2.6" stroke-linecap="round"/>
<line x1="3062.1" y1="60.1" x2="3070.6" y2="62.6" stroke="#64358f" stroke-width="2.6" stroke-linecap="round"/>
<line x1="3038.9" y1="94.8" x2="3049.7" y2="89.9" stroke="#79489a" stroke-width="2.6" stroke-linecap="round"/>
<line x1="3039.5" y1="131.0" x2="3048.2" y2="126.4" stroke="#8f5ba6" stroke-width="2.6" stroke-linecap="round"/>
<line x1="3063.3" y1="162.4" x2="3066.1" y2="155.2" stroke="#a26cb0" stroke-width="2.6" stroke-linecap="round"/>
<line x1="3101.3" y1="174.3" x2="3100.4" y2="165.9" stroke="#a872b4" stroke-width="2.6" stroke-linecap="round"/>
<line x1="3060.3" y1="129.2" x2="3065.7" y2="139.2" stroke="#8e5aa5" stroke-width="2.6" stroke-linecap="round"/>
<line x1="3079.0" y1="153.0" x2="3089.7" y2="156.3" stroke="#9c67ad" stroke-width="2.6" stroke-linecap="round"/>
<line x1="3118.9" y1="76.4" x2="3109.6" y2="73.6" stroke="#6e3e94" stroke-width="2.6" stroke-linecap="round"/>
<line x1="3089.3" y1="74.4" x2="3081.2" y2="78.6" stroke="#6d3d93" stroke-width="2.6" stroke-linecap="round"/>
<line x1="3066.0" y1="92.2" x2="3062.8" y2="100.6" stroke="#774699" stroke-width="2.6" stroke-linecap="round"/>
<line x1="3063.7" y1="123.3" x2="3068.4" y2="130.2" stroke="#8a57a3" stroke-width="2.6" stroke-linecap="round"/>
<line x1="3081.4" y1="144.9" x2="3092.4" y2="147.6" stroke="#9763ab" stroke-width="2.6" stroke-linecap="round"/>
<text x="3108.0" y="107.0" font-size="21.5" fill="#2b2b36" textLength="278.0" lengthAdjust="spacingAndGlyphs">NEURAL INFORMATION</text>
<text x="3108.0" y="131.5" font-size="21.5" fill="#2b2b36" textLength="277.5" lengthAdjust="spacingAndGlyphs">PROCESSING SYSTEMS</text>
<g transform="translate(3120,195) scale(0.10204)">
<path d="M1160 590 C1150 520 1200 470 1260 450 C1250 380 1290 300 1360 280 C1400 210 1500 180 1580 215 C1660 190 1760 210 1810 260 C1900 270 1960 330 1975 400 C2050 440 2090 520 2085 600 C2140 660 2150 760 2105 820 C2100 900 2040 960 1960 975 C1900 1030 1800 1060 1710 1040 C1620 1060 1520 1040 1460 990 C1380 970 1320 910 1300 840 C1230 800 1180 740 1180 670 C1165 650 1160 620 1160 590Z" fill="#8fb4df"/>
<g fill="none" stroke="#fff" stroke-width="13" stroke-linecap="round">
<path d="M1560 360 C1580 290 1650 250 1720 250"/><path d="M1420 260 C1460 280 1470 320 1460 350"/>
<path d="M1820 440 C1850 380 1920 360 1970 400"/><path d="M1680 430 C1700 460 1740 470 1760 450"/>
<path d="M1690 440 C1670 520 1700 600 1760 660 C1800 700 1860 720 1900 760"/>
<path d="M1860 600 C1880 540 1950 520 2010 540"/><path d="M1820 600 C1860 600 1880 620 1890 640"/>
<path d="M2020 690 C2040 660 2080 660 2100 680"/>
<path d="M1560 620 C1640 640 1720 680 1780 720 C1700 730 1600 760 1550 800"/>
<path d="M1780 720 C1860 780 1960 820 2040 880"/>
<path d="M1340 880 C1360 800 1430 740 1520 720"/><path d="M1500 790 C1530 800 1560 830 1560 860"/>
<path d="M1720 860 C1760 800 1830 790 1880 820"/><path d="M1740 800 C1770 800 1790 820 1790 840"/>
<path d="M1590 1030 C1580 960 1610 910 1660 890"/><path d="M1900 990 C1900 930 1920 900 1950 880"/>
<path d="M1180 670 C1220 690 1270 690 1310 670"/>
</g>
<g stroke="#fff" stroke-width="24" stroke-linecap="round">
<path d="M1395 425 L1600 500"/><path d="M1365 485 L1572 562"/><path d="M1335 545 L1545 625"/><path d="M1305 600 L1500 682"/>
</g>
<path d="M1300 560 L1400 380 L1440 400 L1330 600Z" fill="#fff"/>
<path fill-rule="evenodd" fill="#000" d="M130 480 C150 330 400 100 700 100 C900 100 1000 200 1150 270 C1200 262 1250 258 1285 265 L1372 352 L1252 562 L1170 545 C1120 520 1090 470 1060 440 C1000 600 800 740 600 735 C400 730 150 620 130 480 Z M272 510 C330 380 480 265 680 265 C850 265 980 320 1040 410 C980 540 820 680 620 690 C450 690 330 610 272 510 Z"/>
<circle cx="655" cy="480" r="206" fill="#0f6fae"/><circle cx="655" cy="480" r="96" fill="#000"/>
<rect x="219" y="379" width="72" height="72" fill="#fff" transform="rotate(-38 255 415)"/>
<rect x="382" y="232" width="72" height="72" fill="#fff" transform="rotate(-32 418 268)"/>
<rect x="609" y="144" width="72" height="72" fill="#fff" transform="rotate(-4 645 180)"/>
<rect x="867" y="186" width="72" height="72" fill="#fff" transform="rotate(22 903 222)"/>
<rect x="1079" y="309" width="72" height="72" fill="#fff" transform="rotate(32 1115 345)"/>
<path d="M1165 275 C1220 190 1280 118 1350 125 C1420 135 1480 200 1548 246" fill="none" stroke="#000" stroke-width="11"/>
</g>
<text x="3137.4" y="299.1" font-size="34.0" font-weight="bold" textLength="16.8" lengthAdjust="spacingAndGlyphs">N</text>
<text x="3154.5" y="284.8" font-size="17.8" font-weight="bold" textLength="28.0" lengthAdjust="spacingAndGlyphs">eura</text>
<text x="3182.8" y="299.1" font-size="33.0" font-weight="bold" textLength="15.3" lengthAdjust="spacingAndGlyphs">V</text>
<text x="3198.8" y="285.8" font-size="17.5" font-weight="bold" textLength="3.4" lengthAdjust="spacingAndGlyphs">i</text>
<text x="3203.3" y="298.2" font-size="33.5" font-weight="bold" textLength="15.0" lengthAdjust="spacingAndGlyphs">P</text>
<text x="3219.2" y="284.8" font-size="17.8" font-weight="bold" textLength="9.3" lengthAdjust="spacingAndGlyphs">e</text>
<text x="3228.8" y="298.2" font-size="31.0" font-weight="bold" textLength="13.2" lengthAdjust="spacingAndGlyphs">R</text>
<!-- p_chart1 -->
<rect x="160.5" y="1393.2" width="414.8" height="348.1" fill="#fff" />
<polyline points="179.3,1413.6 206.2,1409.6 233.2,1410.7 260.1,1411.0 287.1,1411.0 314.0,1411.0 340.9,1411.0 367.9,1411.0 394.8,1411.0 421.8,1411.0 448.7,1411.0 475.6,1411.0 502.6,1411.0 529.5,1411.0 556.5,1411.0" fill="none" stroke="#440154" stroke-width="1.9" stroke-linejoin="round"/>
<polyline points="179.3,1416.8 206.2,1411.2 233.2,1411.7 260.1,1411.9 287.1,1412.0 314.0,1412.0 340.9,1412.0 367.9,1412.0 394.8,1412.0 421.8,1412.0 448.7,1412.0 475.6,1412.0 502.6,1412.0 529.5,1412.0 556.5,1412.0" fill="none" stroke="#3b528b" stroke-width="1.9" stroke-linejoin="round"/>
<polyline points="179.3,1418.4 206.2,1411.7 233.2,1412.3 260.1,1412.5 287.1,1412.7 314.0,1412.7 340.9,1412.7 367.9,1412.7 394.8,1412.7 421.8,1412.7 448.7,1412.7 475.6,1412.7 502.6,1412.7 529.5,1412.7 556.5,1412.7" fill="none" stroke="#21918c" stroke-width="1.9" stroke-linejoin="round"/>
<polyline points="179.3,1420.0 206.2,1412.8 233.2,1413.0 260.1,1413.1 287.1,1413.3 314.0,1413.3 340.9,1413.3 367.9,1413.3 394.8,1413.3 421.8,1413.3 448.7,1413.3 475.6,1413.3 502.6,1413.3 529.5,1413.3 556.5,1413.3" fill="none" stroke="#3dbc74" stroke-width="1.9" stroke-linejoin="round"/>
<polyline points="179.3,1465.7 206.2,1461.7 233.2,1462.5 260.1,1469.0 287.1,1470.2 314.0,1471.4 340.9,1473.8 367.9,1475.4 394.8,1477.0 421.8,1477.8 448.7,1478.1 475.6,1477.8 502.6,1477.5 529.5,1477.0 556.5,1476.5" fill="none" stroke="#4ac16d" stroke-width="1.9" stroke-linejoin="round"/>
<polyline points="179.3,1476.2 206.2,1465.7 233.2,1487.4 260.1,1521.1 287.1,1548.4 314.0,1570.0 340.9,1578.8 367.9,1579.6 394.8,1575.6 421.8,1570.0 448.7,1564.4 475.6,1560.4 502.6,1558.0 529.5,1557.2 556.5,1558.3" fill="none" stroke="#1f9e89" stroke-width="1.9" stroke-linejoin="round"/>
<polyline points="179.3,1477.0 206.2,1537.1 233.2,1547.5 260.1,1544.3 287.1,1551.6 314.0,1558.8 340.9,1565.2 367.9,1569.2 394.8,1570.8 421.8,1570.8 448.7,1569.5 475.6,1567.9 502.6,1566.8 529.5,1566.0 556.5,1565.7" fill="none" stroke="#414487" stroke-width="1.9" stroke-linejoin="round"/>
<polyline points="179.3,1518.7 206.2,1555.6 233.2,1565.2 260.1,1594.9 287.1,1602.1 314.0,1599.7 340.9,1590.9 367.9,1581.2 394.8,1574.0 421.8,1568.4 448.7,1566.0 475.6,1566.3 502.6,1567.6 529.5,1570.0 556.5,1572.1" fill="none" stroke="#440154" stroke-width="1.9" stroke-linejoin="round"/>
<polyline points="179.3,1603.7 206.2,1535.5 233.2,1534.7 260.1,1538.7 287.1,1545.1 314.0,1543.9 340.9,1540.3 367.9,1536.3 394.8,1533.1 421.8,1531.0 448.7,1530.2 475.6,1530.4 502.6,1531.0 529.5,1532.0 556.5,1532.8" fill="none" stroke="#31688e" stroke-width="1.9" stroke-linejoin="round"/>
<polyline points="179.3,1622.1 206.2,1591.7 233.2,1569.2 260.1,1540.3 287.1,1534.7 314.0,1535.5 340.9,1541.1 367.9,1546.7 394.8,1552.4 421.8,1556.4 448.7,1558.3 475.6,1558.6 502.6,1557.7 529.5,1556.4 556.5,1554.8" fill="none" stroke="#3b528b" stroke-width="1.9" stroke-linejoin="round"/>
<polyline points="179.3,1586.0 206.2,1589.3 233.2,1588.9 260.1,1602.1 287.1,1602.9 314.0,1605.8 340.9,1606.9 367.9,1607.2 394.8,1606.6 421.8,1606.1 448.7,1605.3 475.6,1604.8 502.6,1604.5 529.5,1604.3 556.5,1604.5" fill="none" stroke="#26828e" stroke-width="1.9" stroke-linejoin="round"/>
<polyline points="179.3,1667.0 206.2,1602.9 233.2,1624.5 260.1,1626.9 287.1,1618.1 314.0,1610.1 340.9,1601.3 367.9,1595.7 394.8,1592.9 421.8,1592.5 448.7,1593.7 475.6,1595.2 502.6,1596.5 529.5,1597.6 556.5,1598.4" fill="none" stroke="#2c728e" stroke-width="1.9" stroke-linejoin="round"/>
<polyline points="179.3,1650.2 206.2,1675.1 233.2,1662.2 260.1,1626.9 287.1,1603.7 314.0,1588.5 340.9,1580.4 367.9,1574.8 394.8,1572.4 421.8,1574.8 448.7,1577.2 475.6,1579.6 502.6,1580.9 529.5,1581.4 556.5,1581.2" fill="none" stroke="#7ad151" stroke-width="1.9" stroke-linejoin="round"/>
<polyline points="179.3,1674.3 206.2,1668.7 233.2,1621.3 260.1,1605.3 287.1,1587.6 314.0,1577.2 340.9,1571.6 367.9,1570.8 394.8,1577.2 421.8,1586.0 448.7,1590.1 475.6,1592.8 502.6,1594.1 529.5,1594.9 556.5,1594.9" fill="none" stroke="#86d549" stroke-width="1.9" stroke-linejoin="round"/>
<polyline points="179.3,1696.7 206.2,1711.2 233.2,1705.2 260.1,1701.5 287.1,1702.3 314.0,1703.1 340.9,1702.0 367.9,1701.1 394.8,1700.1 421.8,1699.4 448.7,1699.1 475.6,1699.0 502.6,1699.1 529.5,1699.3 556.5,1699.6" fill="none" stroke="#440154" stroke-width="1.9" stroke-linejoin="round"/>
<polyline points="179.3,1716.0 206.2,1716.3 233.2,1714.4 260.1,1715.2 287.1,1716.3 314.0,1716.1 340.9,1715.6 367.9,1715.2 394.8,1714.7 421.8,1714.4 448.7,1714.2 475.6,1714.2 502.6,1714.2 529.5,1714.4 556.5,1714.4" fill="none" stroke="#21918c" stroke-width="1.9" stroke-linejoin="round"/>
<polyline points="179.3,1714.4 206.2,1725.6 233.2,1724.8 260.1,1723.5 287.1,1723.2 314.0,1723.2 340.9,1723.2 367.9,1723.3 394.8,1723.5 421.8,1723.5 448.7,1723.5 475.6,1723.5 502.6,1723.5 529.5,1723.5 556.5,1723.5" fill="none" stroke="#b5de2b" stroke-width="1.9" stroke-linejoin="round"/>
<polyline points="179.3,1461.7 206.2,1591.7 233.2,1605.3 260.1,1614.1 287.1,1603.7 314.0,1590.1 340.9,1579.6 367.9,1570.8 394.8,1564.4 421.8,1562.5 448.7,1563.6 475.6,1566.0 502.6,1567.6 529.5,1569.5 556.5,1571.6" fill="none" stroke="#dde318" stroke-width="1.9" stroke-linejoin="round"/>
<polyline points="179.3,1681.5 206.2,1589.3 233.2,1481.8 260.1,1460.9 287.1,1461.3 314.0,1473.0 340.9,1487.4 367.9,1501.0 394.8,1510.7 421.8,1515.5 448.7,1516.3 475.6,1513.9 502.6,1509.9 529.5,1506.6 556.5,1504.6" fill="none" stroke="#fde725" stroke-width="1.9" stroke-linejoin="round"/>
<rect x="160.5" y="1393.2" width="414.8" height="348.1" fill="none" stroke="#000" stroke-width="1.3" />
<line x1="179.3" y1="1741.3" x2="179.3" y2="1746.5" stroke="#000" stroke-width="1.2" />
<text x="179.3" y="1763.0" font-size="14.3" text-anchor="middle">1</text>
<line x1="233.2" y1="1741.3" x2="233.2" y2="1746.5" stroke="#000" stroke-width="1.2" />
<text x="233.2" y="1763.0" font-size="14.3" text-anchor="middle">3</text>
<line x1="287.1" y1="1741.3" x2="287.1" y2="1746.5" stroke="#000" stroke-width="1.2" />
<text x="287.1" y="1763.0" font-size="14.3" text-anchor="middle">5</text>
<line x1="340.9" y1="1741.3" x2="340.9" y2="1746.5" stroke="#000" stroke-width="1.2" />
<text x="340.9" y="1763.0" font-size="14.3" text-anchor="middle">7</text>
<line x1="394.8" y1="1741.3" x2="394.8" y2="1746.5" stroke="#000" stroke-width="1.2" />
<text x="394.8" y="1763.0" font-size="14.3" text-anchor="middle">9</text>
<line x1="448.7" y1="1741.3" x2="448.7" y2="1746.5" stroke="#000" stroke-width="1.2" />
<text x="448.7" y="1763.0" font-size="14.3" text-anchor="middle">11</text>
<line x1="502.6" y1="1741.3" x2="502.6" y2="1746.5" stroke="#000" stroke-width="1.2" />
<text x="502.6" y="1763.0" font-size="14.3" text-anchor="middle">13</text>
<line x1="556.5" y1="1741.3" x2="556.5" y2="1746.5" stroke="#000" stroke-width="1.2" />
<text x="556.5" y="1763.0" font-size="14.3" text-anchor="middle">15</text>
<line x1="155.3" y1="1407.2" x2="160.5" y2="1407.2" stroke="#000" stroke-width="1.2" />
<text x="144.0" y="1412.3" font-size="14.3" text-anchor="end">1.00</text>
<line x1="155.3" y1="1447.3" x2="160.5" y2="1447.3" stroke="#000" stroke-width="1.2" />
<text x="144.0" y="1452.4" font-size="14.3" text-anchor="end">0.75</text>
<line x1="155.3" y1="1487.4" x2="160.5" y2="1487.4" stroke="#000" stroke-width="1.2" />
<text x="144.0" y="1492.5" font-size="14.3" text-anchor="end">0.50</text>
<line x1="155.3" y1="1527.5" x2="160.5" y2="1527.5" stroke="#000" stroke-width="1.2" />
<text x="144.0" y="1532.6" font-size="14.3" text-anchor="end">0.25</text>
<line x1="155.3" y1="1567.6" x2="160.5" y2="1567.6" stroke="#000" stroke-width="1.2" />
<text x="144.0" y="1572.7" font-size="14.3" text-anchor="end">0.00</text>
<line x1="155.3" y1="1607.7" x2="160.5" y2="1607.7" stroke="#000" stroke-width="1.2" />
<text x="144.0" y="1612.8" font-size="14.3" text-anchor="end">−0.25</text>
<line x1="155.3" y1="1647.8" x2="160.5" y2="1647.8" stroke="#000" stroke-width="1.2" />
<text x="144.0" y="1652.9" font-size="14.3" text-anchor="end">−0.50</text>
<line x1="155.3" y1="1687.9" x2="160.5" y2="1687.9" stroke="#000" stroke-width="1.2" />
<text x="144.0" y="1693.0" font-size="14.3" text-anchor="end">−0.75</text>
<line x1="155.3" y1="1728.0" x2="160.5" y2="1728.0" stroke="#000" stroke-width="1.2" />
<text x="144.0" y="1733.1" font-size="14.3" text-anchor="end">−1.00</text>
<text x="367.3" y="1788.4" font-size="20.5" text-anchor="middle" textLength="87.0" lengthAdjust="spacingAndGlyphs">Iteration</text>
<g transform="translate(92.3,1681) rotate(-90)"><text x="0.0" y="0.0" font-size="20.5" textLength="191.0" lengthAdjust="spacingAndGlyphs">Hidden State Value</text><text x="201.0" y="0.0" font-size="20.5" font-style="italic">z</text><text x="213.0" y="-9.0" font-size="14.0" font-style="italic">i</text><text x="212.0" y="5.0" font-size="14.0" font-style="italic">k</text></g>
<rect x="657.5" y="1393.2" width="443.1" height="348.1" fill="#fff" />
<polygon points="677.4,1411.4 708.4,1487.2 739.4,1646.3 770.4,1672.8 801.4,1663.4 832.3,1672.8 863.3,1688.0 894.3,1703.2 925.3,1706.9 956.3,1710.7 987.3,1710.7 1018.3,1711.5 1049.3,1714.5 1080.3,1718.3 1080.3,1723.2 677.4,1724.4" fill="#fdf9a8" fill-opacity="0.26"/>
<polygon points="677.4,1494.8 708.4,1487.2 739.4,1612.2 770.4,1665.3 801.4,1684.2 832.3,1691.8 863.3,1699.4 894.3,1706.9 925.3,1710.7 956.3,1712.6 987.3,1714.5 1018.3,1714.5 1049.3,1716.4 1080.3,1718.3 1080.3,1723.2 677.4,1724.4" fill="#fde98a" fill-opacity="0.13"/>
<polygon points="677.4,1544.0 708.4,1585.7 739.4,1638.7 770.4,1669.1 801.4,1688.0 832.3,1695.6 863.3,1703.2 894.3,1706.9 925.3,1710.7 956.3,1714.5 987.3,1714.5 1018.3,1716.4 1049.3,1717.6 1080.3,1718.3 1080.3,1723.2 677.4,1724.4" fill="#fbd7a0" fill-opacity="0.16"/>
<polygon points="677.4,1608.4 708.4,1627.4 739.4,1627.4 770.4,1661.5 801.4,1684.2 832.3,1693.7 863.3,1701.3 894.3,1703.2 925.3,1705.0 956.3,1710.7 987.3,1714.5 1018.3,1716.4 1049.3,1717.6 1080.3,1718.3 1080.3,1723.2 677.4,1724.4" fill="#f2b8b0" fill-opacity="0.22"/>
<polygon points="677.4,1578.1 708.4,1669.1 739.4,1676.6 770.4,1691.8 801.4,1699.4 832.3,1703.2 863.3,1706.9 894.3,1710.7 925.3,1714.5 956.3,1716.4 987.3,1718.3 1018.3,1718.3 1049.3,1719.1 1080.3,1719.8 1080.3,1723.2 677.4,1724.4" fill="#d9b3e6" fill-opacity="0.26"/>
<polyline points="677.4,1693.7 708.4,1705.0 739.4,1717.6 770.4,1718.3 801.4,1719.8 832.3,1720.7 863.3,1721.0 894.3,1721.0 925.3,1721.0 956.3,1721.0 987.3,1721.0 1018.3,1721.0 1049.3,1721.0 1080.3,1721.0" fill="none" stroke="#0d0887" stroke-width="1.9" stroke-linejoin="round"/>
<polyline points="677.4,1636.8 708.4,1708.8 739.4,1678.5 770.4,1701.3 801.4,1702.4 832.3,1705.0 863.3,1707.7 894.3,1714.5 925.3,1718.3 956.3,1719.8 987.3,1720.7 1018.3,1721.0 1049.3,1721.0 1080.3,1721.0" fill="none" stroke="#5c01a6" stroke-width="1.9" stroke-linejoin="round"/>
<polyline points="677.4,1688.0 708.4,1703.2 739.4,1716.4 770.4,1718.3 801.4,1719.1 832.3,1720.3 863.3,1721.0 894.3,1721.0 925.3,1721.0 956.3,1721.0 987.3,1721.0 1018.3,1721.0 1049.3,1721.0 1080.3,1721.0" fill="none" stroke="#6a00a8" stroke-width="1.9" stroke-linejoin="round"/>
<polyline points="677.4,1619.8 708.4,1703.2 739.4,1714.5 770.4,1708.8 801.4,1716.4 832.3,1717.6 863.3,1719.1 894.3,1720.3 925.3,1721.0 956.3,1721.0 987.3,1721.0 1018.3,1721.0 1049.3,1721.0 1080.3,1721.0" fill="none" stroke="#8b0aa5" stroke-width="1.9" stroke-linejoin="round"/>
<polyline points="677.4,1589.5 708.4,1706.9 739.4,1710.7 770.4,1706.9 801.4,1714.5 832.3,1717.6 863.3,1719.1 894.3,1720.3 925.3,1721.0 956.3,1721.0 987.3,1721.0 1018.3,1721.0 1049.3,1721.0 1080.3,1721.0" fill="none" stroke="#9c179e" stroke-width="1.9" stroke-linejoin="round"/>
<polyline points="677.4,1671.7 708.4,1680.4 739.4,1676.6 770.4,1703.2 801.4,1714.5 832.3,1716.4 863.3,1718.3 894.3,1719.8 925.3,1720.7 956.3,1721.0 987.3,1721.0 1018.3,1721.0 1049.3,1721.0 1080.3,1721.0" fill="none" stroke="#a72197" stroke-width="1.9" stroke-linejoin="round"/>
<polyline points="677.4,1625.5 708.4,1697.5 739.4,1708.8 770.4,1710.7 801.4,1717.6 832.3,1718.3 863.3,1719.8 894.3,1720.7 925.3,1721.0 956.3,1721.0 987.3,1721.0 1018.3,1721.0 1049.3,1721.0 1080.3,1721.0" fill="none" stroke="#b12a90" stroke-width="1.9" stroke-linejoin="round"/>
<polyline points="677.4,1705.0 708.4,1714.5 739.4,1699.4 770.4,1710.7 801.4,1716.4 832.3,1718.3 863.3,1719.8 894.3,1720.7 925.3,1721.0 956.3,1721.0 987.3,1721.0 1018.3,1721.0 1049.3,1721.0 1080.3,1721.0" fill="none" stroke="#cc4778" stroke-width="1.9" stroke-linejoin="round"/>
<polyline points="677.4,1710.7 708.4,1712.6 739.4,1714.5 770.4,1705.0 801.4,1714.5 832.3,1717.6 863.3,1719.4 894.3,1720.5 925.3,1721.0 956.3,1721.0 987.3,1721.0 1018.3,1721.0 1049.3,1721.0 1080.3,1721.0" fill="none" stroke="#d8576b" stroke-width="1.9" stroke-linejoin="round"/>
<polyline points="677.4,1714.5 708.4,1716.4 739.4,1717.6 770.4,1718.3 801.4,1719.1 832.3,1720.3 863.3,1721.0 894.3,1721.0 925.3,1721.0 956.3,1721.0 987.3,1721.0 1018.3,1721.0 1049.3,1721.0 1080.3,1721.0" fill="none" stroke="#e16462" stroke-width="1.9" stroke-linejoin="round"/>
<polyline points="677.4,1695.6 708.4,1672.8 739.4,1667.2 770.4,1688.0 801.4,1701.3 832.3,1708.8 863.3,1714.5 894.3,1716.4 925.3,1718.3 956.3,1719.8 987.3,1720.7 1018.3,1721.0 1049.3,1721.0 1080.3,1721.0" fill="none" stroke="#ed7953" stroke-width="1.9" stroke-linejoin="round"/>
<polyline points="677.4,1717.6 708.4,1717.6 739.4,1718.3 770.4,1719.1 801.4,1719.8 832.3,1720.7 863.3,1721.0 894.3,1721.0 925.3,1721.0 956.3,1721.0 987.3,1721.0 1018.3,1721.0 1049.3,1721.0 1080.3,1721.0" fill="none" stroke="#f2844b" stroke-width="1.9" stroke-linejoin="round"/>
<polyline points="677.4,1682.3 708.4,1691.8 739.4,1659.6 770.4,1684.2 801.4,1699.4 832.3,1706.9 863.3,1712.6 894.3,1716.4 925.3,1718.3 956.3,1719.8 987.3,1720.7 1018.3,1721.0 1049.3,1721.0 1080.3,1721.0" fill="none" stroke="#fca636" stroke-width="1.9" stroke-linejoin="round"/>
<polyline points="677.4,1699.4 708.4,1636.8 739.4,1695.6 770.4,1697.5 801.4,1706.9 832.3,1712.6 863.3,1716.4 894.3,1718.3 925.3,1719.8 956.3,1720.7 987.3,1721.0 1018.3,1721.0 1049.3,1721.0 1080.3,1721.0" fill="none" stroke="#fb9f3a" stroke-width="1.9" stroke-linejoin="round"/>
<polyline points="677.4,1688.0 708.4,1716.4 739.4,1706.9 770.4,1714.5 801.4,1719.1 832.3,1719.8 863.3,1720.7 894.3,1721.0 925.3,1721.0 956.3,1721.0 987.3,1721.0 1018.3,1721.0 1049.3,1721.0 1080.3,1721.0" fill="none" stroke="#fdb42f" stroke-width="1.9" stroke-linejoin="round"/>
<polyline points="677.4,1487.2 708.4,1697.5 739.4,1696.3 770.4,1694.8 801.4,1699.4 832.3,1705.0 863.3,1710.7 894.3,1714.5 925.3,1717.6 956.3,1718.3 987.3,1719.1 1018.3,1719.8 1049.3,1720.2 1080.3,1720.6" fill="none" stroke="#fdd926" stroke-width="1.9" stroke-linejoin="round"/>
<polyline points="677.4,1689.9 708.4,1720.2 739.4,1713.8 770.4,1717.6 801.4,1720.2 832.3,1720.6 863.3,1721.0 894.3,1721.0 925.3,1721.0 956.3,1721.0 987.3,1721.0 1018.3,1721.0 1049.3,1721.0 1080.3,1721.0" fill="none" stroke="#f7e225" stroke-width="1.9" stroke-linejoin="round"/>
<polyline points="677.4,1564.9 708.4,1544.0 739.4,1680.4 770.4,1688.0 801.4,1686.9 832.3,1691.8 863.3,1701.3 894.3,1710.7 925.3,1715.3 956.3,1716.4 987.3,1716.8 1018.3,1717.6 1049.3,1719.1 1080.3,1720.6" fill="none" stroke="#f0f921" stroke-width="1.9" stroke-linejoin="round"/>
<rect x="657.5" y="1393.2" width="443.1" height="348.1" fill="none" stroke="#000" stroke-width="1.3" />
<line x1="677.4" y1="1741.3" x2="677.4" y2="1746.5" stroke="#000" stroke-width="1.2" />
<text x="677.4" y="1763.0" font-size="14.3" text-anchor="middle">2</text>
<line x1="739.4" y1="1741.3" x2="739.4" y2="1746.5" stroke="#000" stroke-width="1.2" />
<text x="739.4" y="1763.0" font-size="14.3" text-anchor="middle">4</text>
<line x1="801.4" y1="1741.3" x2="801.4" y2="1746.5" stroke="#000" stroke-width="1.2" />
<text x="801.4" y="1763.0" font-size="14.3" text-anchor="middle">6</text>
<line x1="863.3" y1="1741.3" x2="863.3" y2="1746.5" stroke="#000" stroke-width="1.2" />
<text x="863.3" y="1763.0" font-size="14.3" text-anchor="middle">8</text>
<line x1="925.3" y1="1741.3" x2="925.3" y2="1746.5" stroke="#000" stroke-width="1.2" />
<text x="925.3" y="1763.0" font-size="14.3" text-anchor="middle">10</text>
<line x1="987.3" y1="1741.3" x2="987.3" y2="1746.5" stroke="#000" stroke-width="1.2" />
<text x="987.3" y="1763.0" font-size="14.3" text-anchor="middle">12</text>
<line x1="1049.3" y1="1741.3" x2="1049.3" y2="1746.5" stroke="#000" stroke-width="1.2" />
<text x="1049.3" y="1763.0" font-size="14.3" text-anchor="middle">14</text>
<line x1="652.3" y1="1722.1" x2="657.5" y2="1722.1" stroke="#000" stroke-width="1.2" />
<text x="647.0" y="1727.2" font-size="14.3" text-anchor="end">0.0</text>
<line x1="652.3" y1="1646.3" x2="657.5" y2="1646.3" stroke="#000" stroke-width="1.2" />
<text x="647.0" y="1651.4" font-size="14.3" text-anchor="end">0.2</text>
<line x1="652.3" y1="1570.5" x2="657.5" y2="1570.5" stroke="#000" stroke-width="1.2" />
<text x="647.0" y="1575.6" font-size="14.3" text-anchor="end">0.4</text>
<line x1="652.3" y1="1494.8" x2="657.5" y2="1494.8" stroke="#000" stroke-width="1.2" />
<text x="647.0" y="1499.9" font-size="14.3" text-anchor="end">0.6</text>
<line x1="652.3" y1="1419.0" x2="657.5" y2="1419.0" stroke="#000" stroke-width="1.2" />
<text x="647.0" y="1424.1" font-size="14.3" text-anchor="end">0.8</text>
<text x="878.3" y="1788.4" font-size="20.5" text-anchor="middle" textLength="87.0" lengthAdjust="spacingAndGlyphs">Iteration</text>
<g transform="translate(615,1739) rotate(-90)"><text x="0.0" y="0.0" font-size="20.5" textLength="233.0" lengthAdjust="spacingAndGlyphs">Mean Delta Activation |</text><text x="234.0" y="0.0" font-size="20.5" font-style="italic">z</text><text x="246.0" y="-9.0" font-size="14.0" font-style="italic">i</text><text x="251.0" y="-9.0" font-size="14.0" textLength="24.0" lengthAdjust="spacingAndGlyphs">+ 1</text><text x="283.0" y="0.0" font-size="20.5" >−</text><text x="303.0" y="0.0" font-size="20.5" font-style="italic">z</text><text x="315.0" y="-9.0" font-size="14.0" font-style="italic">i</text><text x="320.0" y="0.0" font-size="20.5" >|</text><text x="326.0" y="5.0" font-size="14.0" font-style="italic">k</text></g>
<!-- p_rnn -->
<rect x="1202.7" y="516.0" width="17.7" height="19.3" fill="#e2e2e2" />
<rect x="1220.4" y="516.0" width="17.7" height="19.3" fill="#e2e2e2" />
<rect x="1238.0" y="516.0" width="17.7" height="19.3" fill="#a6c9ec" />
<rect x="1255.7" y="516.0" width="17.7" height="19.3" fill="#a6c9ec" />
<rect x="1273.4" y="516.0" width="17.7" height="19.3" fill="#e2e2e2" />
<rect x="1291.1" y="516.0" width="17.7" height="19.3" fill="#e2e2e2" />
<rect x="1308.7" y="516.0" width="17.7" height="19.3" fill="#a6c9ec" />
<rect x="1326.4" y="516.0" width="17.7" height="19.3" fill="#a6c9ec" />
<rect x="1344.1" y="516.0" width="17.7" height="19.3" fill="#a6c9ec" />
<rect x="1361.7" y="516.0" width="17.7" height="19.3" fill="#e2e2e2" />
<path d="M1202.7 516.0V535.3M1220.4 516.0V535.3M1238.0 516.0V535.3M1255.7 516.0V535.3M1273.4 516.0V535.3M1291.1 516.0V535.3M1308.7 516.0V535.3M1326.4 516.0V535.3M1344.1 516.0V535.3M1361.7 516.0V535.3M1379.4 516.0V535.3M1202.7 516.0H1379.4M1202.7 535.3H1379.4" fill="none" stroke="#000" stroke-width="2.2" stroke-linecap="square"/><text x="1211.5" y="528.4" font-size="7.6" font-weight="bold" fill="#333" text-anchor="middle">0</text><text x="1229.2" y="528.4" font-size="7.6" font-weight="bold" fill="#333" text-anchor="middle">0</text><text x="1246.9" y="528.4" font-size="7.6" font-weight="bold" fill="#333" text-anchor="middle">4</text><text x="1264.5" y="528.4" font-size="7.6" font-weight="bold" fill="#333" text-anchor="middle">3</text><text x="1282.2" y="528.4" font-size="7.6" font-weight="bold" fill="#333" text-anchor="middle">0</text><text x="1299.9" y="528.4" font-size="7.6" font-weight="bold" fill="#333" text-anchor="middle">0</text><text x="1317.6" y="528.4" font-size="7.6" font-weight="bold" fill="#333" text-anchor="middle">2</text><text x="1335.2" y="528.4" font-size="7.6" font-weight="bold" fill="#333" text-anchor="middle">1</text><text x="1352.9" y="528.4" font-size="7.6" font-weight="bold" fill="#333" text-anchor="middle">1</text><text x="1370.6" y="528.4" font-size="7.6" font-weight="bold" fill="#333" text-anchor="middle">0</text>
<rect x="1202.7" y="568.3" width="17.7" height="177.2" fill="#e2e2e2" />
<rect x="1220.4" y="568.3" width="17.7" height="177.2" fill="#e2e2e2" />
<rect x="1238.0" y="568.3" width="17.7" height="177.2" fill="#a6c9ec" />
<rect x="1255.7" y="568.3" width="17.7" height="177.2" fill="#a6c9ec" />
<rect x="1273.4" y="568.3" width="17.7" height="177.2" fill="#e2e2e2" />
<rect x="1291.1" y="568.3" width="17.7" height="177.2" fill="#e2e2e2" />
<rect x="1308.7" y="568.3" width="17.7" height="177.2" fill="#a6c9ec" />
<rect x="1326.4" y="568.3" width="17.7" height="177.2" fill="#a6c9ec" />
<rect x="1344.1" y="568.3" width="17.7" height="177.2" fill="#a6c9ec" />
<rect x="1361.7" y="568.3" width="17.7" height="177.2" fill="#e2e2e2" />
<path d="M1202.7 568.3V745.5M1220.4 568.3V745.5M1238.0 568.3V745.5M1255.7 568.3V745.5M1273.4 568.3V745.5M1291.1 568.3V745.5M1308.7 568.3V745.5M1326.4 568.3V745.5M1344.1 568.3V745.5M1361.7 568.3V745.5M1379.4 568.3V745.5M1202.7 568.3H1379.4M1202.7 586.0H1379.4M1202.7 603.7H1379.4M1202.7 621.5H1379.4M1202.7 639.2H1379.4M1202.7 656.9H1379.4M1202.7 674.6H1379.4M1202.7 692.3H1379.4M1202.7 710.1H1379.4M1202.7 727.8H1379.4M1202.7 745.5H1379.4" fill="none" stroke="#000" stroke-width="2.0" stroke-linecap="square"/>
<rect x="1415.1" y="516.0" width="17.9" height="19.3" fill="#a6c9ec" />
<rect x="1433.0" y="516.0" width="17.9" height="19.3" fill="#a6c9ec" />
<rect x="1450.8" y="516.0" width="17.9" height="19.3" fill="#a6c9ec" />
<rect x="1468.7" y="516.0" width="17.9" height="19.3" fill="#a6c9ec" />
<rect x="1486.5" y="516.0" width="17.9" height="19.3" fill="#a6c9ec" />
<path d="M1415.1 516.0V535.3M1433.0 516.0V535.3M1450.8 516.0V535.3M1468.7 516.0V535.3M1486.5 516.0V535.3M1504.4 516.0V535.3M1415.1 516.0H1504.4M1415.1 535.3H1504.4" fill="none" stroke="#000" stroke-width="2.2" stroke-linecap="square"/><text x="1424.0" y="528.4" font-size="7.6" font-weight="bold" fill="#333" text-anchor="middle">4</text><text x="1441.9" y="528.4" font-size="7.6" font-weight="bold" fill="#333" text-anchor="middle">3</text><text x="1459.8" y="528.4" font-size="7.6" font-weight="bold" fill="#333" text-anchor="middle">2</text><text x="1477.6" y="528.4" font-size="7.6" font-weight="bold" fill="#333" text-anchor="middle">1</text><text x="1495.5" y="528.4" font-size="7.6" font-weight="bold" fill="#333" text-anchor="middle">1</text>
<rect x="1415.1" y="568.3" width="17.9" height="177.2" fill="#a6c9ec" />
<rect x="1433.0" y="568.3" width="17.9" height="177.2" fill="#a6c9ec" />
<rect x="1450.8" y="568.3" width="17.9" height="177.2" fill="#a6c9ec" />
<rect x="1468.7" y="568.3" width="17.9" height="177.2" fill="#a6c9ec" />
<rect x="1486.5" y="568.3" width="17.9" height="177.2" fill="#a6c9ec" />
<path d="M1415.1 568.3V745.5M1433.0 568.3V745.5M1450.8 568.3V745.5M1468.7 568.3V745.5M1486.5 568.3V745.5M1504.4 568.3V745.5M1415.1 568.3H1504.4M1415.1 586.0H1504.4M1415.1 603.7H1504.4M1415.1 621.5H1504.4M1415.1 639.2H1504.4M1415.1 656.9H1504.4M1415.1 674.6H1504.4M1415.1 692.3H1504.4M1415.1 710.1H1504.4M1415.1 727.8H1504.4M1415.1 745.5H1504.4" fill="none" stroke="#000" stroke-width="2.0" stroke-linecap="square"/>
<rect x="1551.3" y="569.8" width="18.7" height="176.9" fill="#eaa957" />
<path d="M1551.3 569.8V746.7M1570.0 569.8V746.7M1551.3 569.8H1570.0M1551.3 587.5H1570.0M1551.3 605.2H1570.0M1551.3 622.9H1570.0M1551.3 640.6H1570.0M1551.3 658.2H1570.0M1551.3 675.9H1570.0M1551.3 693.6H1570.0M1551.3 711.3H1570.0M1551.3 729.0H1570.0M1551.3 746.7H1570.0" fill="none" stroke="#000" stroke-width="2.0" stroke-linecap="square"/>
<rect x="1616.0" y="569.8" width="18.7" height="176.9" fill="#215f9a" />
<path d="M1616.0 569.8V746.7M1634.7 569.8V746.7M1616.0 569.8H1634.7M1616.0 587.5H1634.7M1616.0 605.2H1634.7M1616.0 622.9H1634.7M1616.0 640.6H1634.7M1616.0 658.2H1634.7M1616.0 675.9H1634.7M1616.0 693.6H1634.7M1616.0 711.3H1634.7M1616.0 729.0H1634.7M1616.0 746.7H1634.7" fill="none" stroke="#000" stroke-width="2.0" stroke-linecap="square"/>
<rect x="1731.5" y="516.5" width="17.7" height="19.2" fill="#e2e2e2" />
<rect x="1749.2" y="516.5" width="17.7" height="19.2" fill="#e2e2e2" />
<rect x="1767.0" y="516.5" width="17.7" height="19.2" fill="#a6c9ec" />
<rect x="1784.7" y="516.5" width="17.7" height="19.2" fill="#e2e2e2" />
<rect x="1802.5" y="516.5" width="17.7" height="19.2" fill="#e2e2e2" />
<rect x="1820.2" y="516.5" width="17.7" height="19.2" fill="#e2e2e2" />
<rect x="1837.9" y="516.5" width="17.7" height="19.2" fill="#a6c9ec" />
<rect x="1855.7" y="516.5" width="17.7" height="19.2" fill="#e2e2e2" />
<rect x="1873.4" y="516.5" width="17.7" height="19.2" fill="#e2e2e2" />
<rect x="1891.2" y="516.5" width="17.7" height="19.2" fill="#e2e2e2" />
<path d="M1731.5 516.5V535.7M1749.2 516.5V535.7M1767.0 516.5V535.7M1784.7 516.5V535.7M1802.5 516.5V535.7M1820.2 516.5V535.7M1837.9 516.5V535.7M1855.7 516.5V535.7M1873.4 516.5V535.7M1891.2 516.5V535.7M1908.9 516.5V535.7M1731.5 516.5H1908.9M1731.5 535.7H1908.9" fill="none" stroke="#000" stroke-width="2.2" stroke-linecap="square"/><text x="1740.4" y="528.9" font-size="7.6" font-weight="bold" fill="#333" text-anchor="middle">0</text><text x="1758.1" y="528.9" font-size="7.6" font-weight="bold" fill="#333" text-anchor="middle">0</text><text x="1775.8" y="528.9" font-size="7.6" font-weight="bold" fill="#333" text-anchor="middle">3</text><text x="1793.6" y="528.9" font-size="7.6" font-weight="bold" fill="#333" text-anchor="middle">0</text><text x="1811.3" y="528.9" font-size="7.6" font-weight="bold" fill="#333" text-anchor="middle">0</text><text x="1829.1" y="528.9" font-size="7.6" font-weight="bold" fill="#333" text-anchor="middle">0</text><text x="1846.8" y="528.9" font-size="7.6" font-weight="bold" fill="#333" text-anchor="middle">1</text><text x="1864.6" y="528.9" font-size="7.6" font-weight="bold" fill="#333" text-anchor="middle">0</text><text x="1882.3" y="528.9" font-size="7.6" font-weight="bold" fill="#333" text-anchor="middle">0</text><text x="1900.0" y="528.9" font-size="7.6" font-weight="bold" fill="#333" text-anchor="middle">0</text>
<rect x="1731.5" y="570.0" width="17.7" height="177.2" fill="#e2e2e2" />
<rect x="1749.2" y="570.0" width="17.7" height="177.2" fill="#e2e2e2" />
<rect x="1767.0" y="570.0" width="17.7" height="177.2" fill="#a6c9ec" />
<rect x="1784.7" y="570.0" width="17.7" height="177.2" fill="#e2e2e2" />
<rect x="1802.5" y="570.0" width="17.7" height="177.2" fill="#e2e2e2" />
<rect x="1820.2" y="570.0" width="17.7" height="177.2" fill="#e2e2e2" />
<rect x="1837.9" y="570.0" width="17.7" height="177.2" fill="#a6c9ec" />
<rect x="1855.7" y="570.0" width="17.7" height="177.2" fill="#e2e2e2" />
<rect x="1873.4" y="570.0" width="17.7" height="177.2" fill="#e2e2e2" />
<rect x="1891.2" y="570.0" width="17.7" height="177.2" fill="#e2e2e2" />
<path d="M1731.5 570.0V747.2M1749.2 570.0V747.2M1767.0 570.0V747.2M1784.7 570.0V747.2M1802.5 570.0V747.2M1820.2 570.0V747.2M1837.9 570.0V747.2M1855.7 570.0V747.2M1873.4 570.0V747.2M1891.2 570.0V747.2M1908.9 570.0V747.2M1731.5 570.0H1908.9M1731.5 587.7H1908.9M1731.5 605.4H1908.9M1731.5 623.2H1908.9M1731.5 640.9H1908.9M1731.5 658.6H1908.9M1731.5 676.3H1908.9M1731.5 694.0H1908.9M1731.5 711.8H1908.9M1731.5 729.5H1908.9M1731.5 747.2H1908.9" fill="none" stroke="#000" stroke-width="2.0" stroke-linecap="square"/>
<rect x="1943.5" y="515.0" width="18.3" height="19.3" fill="#a6c9ec" />
<rect x="1961.8" y="515.0" width="18.3" height="19.3" fill="#a6c9ec" />
<path d="M1943.5 515.0V534.3M1961.8 515.0V534.3M1980.1 515.0V534.3M1943.5 515.0H1980.1M1943.5 534.3H1980.1" fill="none" stroke="#000" stroke-width="2.2" stroke-linecap="square"/><text x="1952.7" y="527.4" font-size="7.6" font-weight="bold" fill="#333" text-anchor="middle">3</text><text x="1970.9" y="527.4" font-size="7.6" font-weight="bold" fill="#333" text-anchor="middle">1</text>
<rect x="1943.5" y="570.0" width="18.3" height="177.2" fill="#a6c9ec" />
<rect x="1961.8" y="570.0" width="18.3" height="177.2" fill="#a6c9ec" />
<path d="M1943.5 570.0V747.2M1961.8 570.0V747.2M1980.1 570.0V747.2M1943.5 570.0H1980.1M1943.5 587.7H1980.1M1943.5 605.4H1980.1M1943.5 623.2H1980.1M1943.5 640.9H1980.1M1943.5 658.6H1980.1M1943.5 676.3H1980.1M1943.5 694.0H1980.1M1943.5 711.8H1980.1M1943.5 729.5H1980.1M1943.5 747.2H1980.1" fill="none" stroke="#000" stroke-width="2.0" stroke-linecap="square"/>
<rect x="2023.0" y="569.8" width="18.7" height="176.9" fill="#eaa957" />
<path d="M2023.0 569.8V746.7M2041.7 569.8V746.7M2023.0 569.8H2041.7M2023.0 587.5H2041.7M2023.0 605.2H2041.7M2023.0 622.9H2041.7M2023.0 640.6H2041.7M2023.0 658.2H2041.7M2023.0 675.9H2041.7M2023.0 693.6H2041.7M2023.0 711.3H2041.7M2023.0 729.0H2041.7M2023.0 746.7H2041.7" fill="none" stroke="#000" stroke-width="2.0" stroke-linecap="square"/>
<rect x="2087.7" y="569.8" width="18.7" height="176.9" fill="#215f9a" />
<path d="M2087.7 569.8V746.7M2106.4 569.8V746.7M2087.7 569.8H2106.4M2087.7 587.5H2106.4M2087.7 605.2H2106.4M2087.7 622.9H2106.4M2087.7 640.6H2106.4M2087.7 658.2H2106.4M2087.7 675.9H2106.4M2087.7 693.6H2106.4M2087.7 711.3H2106.4M2087.7 729.0H2106.4M2087.7 746.7H2106.4" fill="none" stroke="#000" stroke-width="2.0" stroke-linecap="square"/>
<text x="1275.0" y="506.5" font-size="23.0" font-family="Liberation Serif">Δ</text>
<text x="1289.8" y="506.5" font-size="23.0" font-family="Liberation Serif" font-style="italic">z</text>
<text x="1299.0" y="513.4" font-size="16.6" font-family="Liberation Serif" font-style="italic">t</text>
<text x="1300.6" y="496.1" font-size="16.6" font-family="Liberation Serif" font-style="italic">i</text>
<text x="1448.0" y="506.5" font-size="23.0" font-family="Liberation Serif">Δ</text>
<text x="1462.8" y="506.5" font-size="23.0" font-family="Liberation Serif" font-style="italic">z</text>
<text x="1472.0" y="513.4" font-size="16.6" font-family="Liberation Serif" font-style="italic">t</text>
<text x="1473.6" y="496.1" font-size="16.6" font-family="Liberation Serif" font-style="italic">i</text>
<text x="1803.0" y="506.8" font-size="23.0" font-family="Liberation Serif">Δ</text>
<text x="1817.8" y="506.8" font-size="23.0" font-family="Liberation Serif" font-style="italic">z</text>
<text x="1827.0" y="513.7" font-size="16.6" font-family="Liberation Serif" font-style="italic">t</text>
<text x="1828.6" y="496.4" font-size="16.6" font-family="Liberation Serif" font-style="italic">i</text><text x="1834.2" y="496.4" font-size="16.6" font-family="Liberation Serif">+1</text>
<text x="1944.6" y="505.3" font-size="23.0" font-family="Liberation Serif">Δ</text>
<text x="1959.4" y="505.3" font-size="23.0" font-family="Liberation Serif" font-style="italic">z</text>
<text x="1968.6" y="512.2" font-size="16.6" font-family="Liberation Serif" font-style="italic">t</text>
<text x="1970.2" y="494.9" font-size="16.6" font-family="Liberation Serif" font-style="italic">i</text><text x="1975.8" y="494.9" font-size="16.6" font-family="Liberation Serif">+1</text>
<text x="1613.8" y="558.0" font-size="23.0" font-family="Liberation Serif" font-style="italic">z</text>
<text x="1623.0" y="564.9" font-size="16.6" font-family="Liberation Serif" font-style="italic">t</text>
<text x="1624.6" y="547.6" font-size="16.6" font-family="Liberation Serif" font-style="italic">i</text><text x="1630.2" y="547.6" font-size="16.6" font-family="Liberation Serif">+1</text>
<text x="2085.2" y="558.0" font-size="23.0" font-family="Liberation Serif" font-style="italic">z</text>
<text x="2094.4" y="564.9" font-size="16.6" font-family="Liberation Serif" font-style="italic">t</text>
<text x="2096.0" y="547.6" font-size="16.6" font-family="Liberation Serif" font-style="italic">i</text><text x="2101.6" y="547.6" font-size="16.6" font-family="Liberation Serif">+2</text>
<text x="1674.5" y="525.8" font-size="22.0" >-</text>
<text x="1686.0" y="525.8" font-size="23.0" font-family="Liberation Serif" font-style="italic">z</text>
<text x="1695.2" y="532.7" font-size="16.6" font-family="Liberation Serif" font-style="italic">t</text>
<text x="1696.8" y="515.4" font-size="16.6" font-family="Liberation Serif" font-style="italic">i</text>
<text x="1161.0" y="654.0" font-size="29.0" font-family="Liberation Serif" font-style="italic">W</text>
<text x="1185.4" y="662.7" font-size="20.9" font-family="Liberation Serif" font-style="italic">z</text>
<text x="1691.5" y="654.0" font-size="29.0" font-family="Liberation Serif" font-style="italic">W</text>
<text x="1715.9" y="662.7" font-size="20.9" font-family="Liberation Serif" font-style="italic">z</text>
<text x="1581.0" y="644.0" font-size="24.0" font-family="Liberation Serif" font-style="italic">σ</text>
<text x="2053.0" y="644.0" font-size="24.0" font-family="Liberation Serif" font-style="italic">σ</text>
<text x="1377.6" y="500.0" font-size="15.5" text-anchor="middle" textLength="49.0" lengthAdjust="spacingAndGlyphs">sparse</text>
<line x1="1317.0" y1="505.3" x2="1429.8" y2="505.3" stroke="#000" stroke-width="1.8" /><polygon points="1436.8,505.3 1427.8,508.9 1427.8,501.7" fill="#000"/>
<line x1="1659.0" y1="549.2" x2="1724.8" y2="528.0" stroke="#000" stroke-width="2" /><polygon points="1731.5,525.8 1724.0,532.0 1721.8,525.1" fill="#000"/>
<path d="M1284.3 546.7L1296.9 559.3M1284.3 559.3L1296.9 546.7" fill="none" stroke="#000" stroke-width="1.5" />
<path d="M1453.0 546.7L1465.6 559.3M1453.0 559.3L1465.6 546.7" fill="none" stroke="#000" stroke-width="1.5" />
<path d="M1816.0 546.7L1828.6 559.3M1816.0 559.3L1828.6 546.7" fill="none" stroke="#000" stroke-width="1.5" />
<path d="M1955.5 545.2L1968.1 557.8M1955.5 557.8L1968.1 545.2" fill="none" stroke="#000" stroke-width="1.5" />
<circle cx="1167.0" cy="575.8" r="2.6" fill="#000"/><circle cx="1176.8" cy="575.8" r="2.6" fill="#000"/><circle cx="1186.5" cy="575.8" r="2.6" fill="#000"/>
<circle cx="2122.0" cy="658.0" r="2.6" fill="#000"/><circle cx="2131.5" cy="658.0" r="2.6" fill="#000"/><circle cx="2141.0" cy="658.0" r="2.6" fill="#000"/>
<line x1="1384.8" y1="655.2" x2="1399.0" y2="655.2" stroke="#000" stroke-width="3.6" /><polygon points="1410.0,655.2 1397.0,648.0 1397.0,662.4" fill="#000"/>
<line x1="1577.4" y1="657.0" x2="1591.6" y2="657.0" stroke="#000" stroke-width="3.6" /><polygon points="1602.6,657.0 1589.6,649.8 1589.6,664.2" fill="#000"/>
<line x1="1915.0" y1="659.3" x2="1928.7" y2="659.3" stroke="#000" stroke-width="3.6" /><polygon points="1939.7,659.3 1926.7,652.1 1926.7,666.5" fill="#000"/>
<line x1="2048.9" y1="657.0" x2="2063.0" y2="657.0" stroke="#000" stroke-width="3.6" /><polygon points="2074.0,657.0 2061.0,649.8 2061.0,664.2" fill="#000"/>
<path d="M1520.3 657.0H1536.3M1528.3 649.0V665.0" fill="none" stroke="#000" stroke-width="2.2" />
<path d="M1992.9 657.0H2008.9M2000.9 649.0V665.0" fill="none" stroke="#000" stroke-width="2.2" />
<text x="1158.5" y="762.0" font-size="11.5" fill="#222" textLength="37.5" lengthAdjust="spacingAndGlyphs">Col. ID</text>
<text x="1687.5" y="762.4" font-size="11.5" fill="#222" textLength="37.5" lengthAdjust="spacingAndGlyphs">Col. ID</text>
<text x="1210.7" y="761.5" font-size="13.0" fill="#222" text-anchor="middle">1</text>
<text x="1739.5" y="762.4" font-size="13.0" fill="#222" text-anchor="middle">1</text>
<text x="1228.3" y="761.5" font-size="13.0" fill="#222" text-anchor="middle">2</text>
<text x="1757.1" y="762.4" font-size="13.0" fill="#222" text-anchor="middle">2</text>
<text x="1246.0" y="761.5" font-size="13.0" fill="#222" text-anchor="middle">3</text>
<text x="1774.8" y="762.4" font-size="13.0" fill="#222" text-anchor="middle">3</text>
<text x="1263.7" y="761.5" font-size="13.0" fill="#222" text-anchor="middle">4</text>
<text x="1792.5" y="762.4" font-size="13.0" fill="#222" text-anchor="middle">4</text>
<text x="1281.3" y="761.5" font-size="13.0" fill="#222" text-anchor="middle">5</text>
<text x="1810.1" y="762.4" font-size="13.0" fill="#222" text-anchor="middle">5</text>
<text x="1299.0" y="761.5" font-size="13.0" fill="#222" text-anchor="middle">6</text>
<text x="1827.8" y="762.4" font-size="13.0" fill="#222" text-anchor="middle">6</text>
<text x="1316.7" y="761.5" font-size="13.0" fill="#222" text-anchor="middle">7</text>
<text x="1845.5" y="762.4" font-size="13.0" fill="#222" text-anchor="middle">7</text>
<text x="1334.3" y="761.5" font-size="13.0" fill="#222" text-anchor="middle">8</text>
<text x="1863.1" y="762.4" font-size="13.0" fill="#222" text-anchor="middle">8</text>
<text x="1352.0" y="761.5" font-size="13.0" fill="#222" text-anchor="middle">9</text>
<text x="1880.8" y="762.4" font-size="13.0" fill="#222" text-anchor="middle">9</text>
<text x="1369.7" y="761.5" font-size="13.0" fill="#222" text-anchor="middle">10</text>
<text x="1898.5" y="762.4" font-size="13.0" fill="#222" text-anchor="middle">10</text>
<text x="1423.1" y="761.5" font-size="13.0" fill="#222" text-anchor="middle">3</text>
<text x="1441.0" y="761.5" font-size="13.0" fill="#222" text-anchor="middle">4</text>
<text x="1458.9" y="761.5" font-size="13.0" fill="#222" text-anchor="middle">7</text>
<text x="1476.7" y="761.5" font-size="13.0" fill="#222" text-anchor="middle">8</text>
<text x="1494.6" y="761.5" font-size="13.0" fill="#222" text-anchor="middle">9</text>
<text x="1953.0" y="762.4" font-size="13.0" fill="#222" text-anchor="middle">3</text>
<text x="1970.0" y="762.4" font-size="13.0" fill="#222" text-anchor="middle">7</text>
<text x="1246.0" y="780.2" font-size="17.5" textLength="231.0" lengthAdjust="spacingAndGlyphs">only non-zero dimensions</text>
<text x="1246.0" y="804.8" font-size="17.5" textLength="194.0" lengthAdjust="spacingAndGlyphs">participate in the MxV</text>
<text x="1511.5" y="782.4" font-size="17.5" textLength="105.5" lengthAdjust="spacingAndGlyphs">add cached</text>
<text x="1511.5" y="807.0" font-size="17.5" textLength="61.0" lengthAdjust="spacingAndGlyphs">results</text>
<text x="1926.3" y="780.2" font-size="17.5" textLength="45.0" lengthAdjust="spacingAndGlyphs">while</text>
<text x="1979.0" y="780.2" font-size="19.0" font-family="Liberation Serif" font-style="italic">z</text>
<text x="1986.6" y="785.9" font-size="13.7" font-family="Liberation Serif" font-style="italic">t</text>
<text x="1987.9" y="771.7" font-size="13.7" font-family="Liberation Serif" font-style="italic">i</text><text x="1992.5" y="771.7" font-size="13.7" font-family="Liberation Serif">+1</text>
<text x="2021.0" y="780.2" font-size="17.5" textLength="99.0" lengthAdjust="spacingAndGlyphs">converging</text>
<text x="1926.3" y="805.9" font-size="19.0" font-family="Liberation Serif">Δ</text>
<text x="1938.5" y="805.9" font-size="19.0" font-family="Liberation Serif" font-style="italic">z</text>
<text x="1946.1" y="811.6" font-size="13.7" font-family="Liberation Serif" font-style="italic">t</text>
<text x="1947.4" y="797.4" font-size="13.7" font-family="Liberation Serif" font-style="italic">i</text><text x="1952.1" y="797.4" font-size="13.7" font-family="Liberation Serif">+1</text>
<text x="1982.0" y="805.9" font-size="17.5" textLength="110.5" lengthAdjust="spacingAndGlyphs">gets sparser</text>
<text x="1685.7" y="805.4" font-size="19.5" fill="#4c94d8" textLength="59.7" lengthAdjust="spacingAndGlyphs">sparse</text>
<text x="1776.0" y="805.4" font-size="19.5" fill="#e97132" textLength="65.6" lengthAdjust="spacingAndGlyphs">cached</text>
<path d="M1695.7 821.5V818Q1695.7 816 1697.7 816H1727.3Q1729.3 816 1729.3 818V821.5M1712.5 816V811" fill="none" stroke="#4c94d8" stroke-width="1.8" />
<path d="M1762.4 821.5V818Q1762.4 816 1764.4 816H1849.5Q1851.5 816 1851.5 818V821.5M1807.0 816V811" fill="none" stroke="#e97132" stroke-width="1.8" />
<text x="1540.2" y="847.4" font-size="26.0" font-family="Liberation Serif" font-style="italic" fill="#1f5c99">z</text>
<text x="1550.6" y="855.2" font-size="18.7" font-family="Liberation Serif" font-style="italic" fill="#1f5c99">t</text>
<text x="1552.4" y="835.7" font-size="18.7" font-family="Liberation Serif" font-style="italic" fill="#1f5c99">i</text><text x="1558.7" y="835.7" font-size="18.7" font-family="Liberation Serif" fill="#1f5c99">+1</text>
<text x="1593.0" y="847.4" font-size="26.0" font-family="Liberation Serif">≈</text>
<text x="1619.0" y="847.4" font-size="26.0" font-family="Liberation Serif" font-style="italic">σ</text>
<text x="1634.5" y="849.4" font-size="33.3" font-family="Liberation Serif">(</text>
<text x="1646.6" y="847.4" font-size="26.0" font-family="Liberation Serif" font-style="italic" fill="#4c94d8">W</text>
<text x="1668.5" y="855.2" font-size="18.7" font-family="Liberation Serif" font-style="italic" fill="#4c94d8">z</text>
<text x="1681.0" y="847.4" font-size="26.0" font-family="Liberation Serif" fill="#4c94d8">·</text>
<text x="1694.0" y="847.4" font-size="26.0" font-family="Liberation Serif" fill="#4c94d8">Δ</text>
<text x="1710.7" y="847.4" font-size="26.0" font-family="Liberation Serif" font-style="italic" fill="#4c94d8">z</text>
<text x="1721.1" y="855.2" font-size="18.7" font-family="Liberation Serif" font-style="italic" fill="#4c94d8">t</text>
<text x="1722.9" y="835.7" font-size="18.7" font-family="Liberation Serif" font-style="italic" fill="#4c94d8">i</text>
<text x="1736.5" y="847.4" font-size="26.0" font-family="Liberation Serif" fill="#4c94d8">+</text>
<text x="1761.5" y="847.4" font-size="26.0" font-family="Liberation Serif" font-style="italic" fill="#e97132">W</text>
<text x="1783.4" y="855.2" font-size="18.7" font-family="Liberation Serif" font-style="italic" fill="#e97132">z</text>
<text x="1796.0" y="847.4" font-size="26.0" font-family="Liberation Serif" fill="#e97132">·</text>
<text x="1808.4" y="847.4" font-size="26.0" font-family="Liberation Serif" font-style="italic" fill="#e97132">z</text>
<text x="1818.8" y="855.2" font-size="18.7" font-family="Liberation Serif" font-style="italic" fill="#e97132">t</text>
<text x="1820.6" y="835.7" font-size="18.7" font-family="Liberation Serif" font-style="italic" fill="#e97132">i</text><text x="1826.9" y="835.7" font-size="18.7" font-family="Liberation Serif" fill="#e97132">−1</text>
<text x="1860.5" y="847.4" font-size="26.0" font-family="Liberation Serif">+</text>
<text x="1885.8" y="847.4" font-size="26.0" font-family="Liberation Serif" font-style="italic">W</text>
<text x="1907.7" y="855.2" font-size="18.7" font-family="Liberation Serif" font-style="italic">x</text>
<text x="1921.0" y="847.4" font-size="26.0" font-family="Liberation Serif">·</text>
<text x="1933.8" y="847.4" font-size="26.0" font-family="Liberation Serif" font-style="italic">x</text>
<text x="1945.6" y="855.2" font-size="18.7" font-family="Liberation Serif" font-style="italic">t</text>
<text x="1955.5" y="849.4" font-size="33.3" font-family="Liberation Serif">)</text>
<!-- p_math -->
<g transform="translate(431.6,560.7) scale(1.2116,1)" stroke="#000" stroke-width="0.35"><text x="0.0" y="0.0" font-size="40.0" font-family="Liberation Serif" font-style="italic">z</text>
<text x="17.6" y="-14.4" font-size="20.0" font-family="Liberation Serif">∗</text>
<text x="45.1" y="0.0" font-size="40.0" font-family="Liberation Serif">=</text>
<text x="78.5" y="0.0" font-size="40.0" font-family="Liberation Serif" font-style="italic">f</text>
<text x="89.6" y="10.0" font-size="28.0" font-family="Liberation Serif" font-style="italic">θ</text>
<text x="107.8" y="0.0" font-size="40.0" font-family="Liberation Serif">(</text>
<text x="121.2" y="0.0" font-size="40.0" font-family="Liberation Serif" font-style="italic">z</text>
<text x="138.7" y="-14.4" font-size="20.0" font-family="Liberation Serif">∗</text>
<text x="155.5" y="0.0" font-size="40.0" font-family="Liberation Serif">,</text>
<text x="171.5" y="0.0" font-size="40.0" font-family="Liberation Serif" font-style="italic">x</text>
<text x="189.2" y="0.0" font-size="40.0" font-family="Liberation Serif">)</text></g>
<g transform="translate(406.0,880.7) scale(1.2373,1)" stroke="#000" stroke-width="0.35"><text x="0.0" y="0.0" font-size="40.0" font-family="Liberation Serif" font-style="italic">z</text>
<text x="17.2" y="-16.0" font-size="28.0" font-family="Liberation Serif" font-style="italic">i</text><text x="26.6" y="-16.0" font-size="28.0" font-family="Liberation Serif">+1</text>
<text x="68.4" y="0.0" font-size="40.0" font-family="Liberation Serif">=</text>
<text x="101.8" y="0.0" font-size="40.0" font-family="Liberation Serif" font-style="italic">f</text>
<text x="112.9" y="10.0" font-size="28.0" font-family="Liberation Serif" font-style="italic">θ</text>
<text x="131.1" y="0.0" font-size="40.0" font-family="Liberation Serif">(</text>
<text x="144.4" y="0.0" font-size="40.0" font-family="Liberation Serif" font-style="italic">z</text>
<text x="161.6" y="-16.0" font-size="28.0" font-family="Liberation Serif" font-style="italic">i</text>
<text x="172.3" y="0.0" font-size="40.0" font-family="Liberation Serif">,</text>
<text x="188.3" y="0.0" font-size="40.0" font-family="Liberation Serif" font-style="italic">x</text>
<text x="206.0" y="0.0" font-size="40.0" font-family="Liberation Serif">)</text></g>
<text x="113.0" y="943.3" font-size="28.0" fill="#34495e" textLength="46.0" lengthAdjust="spacingAndGlyphs">and</text>
<g transform="translate(168.0,943.3) scale(1.1714,1)" stroke="#34495e" stroke-width="0.20"><text x="0.0" y="0.0" font-size="27.0" font-family="Liberation Serif" font-style="italic" fill="#34495e">z</text>
<text x="11.6" y="-10.8" font-size="18.9" font-family="Liberation Serif" font-style="italic" fill="#34495e">i</text></g>
<text x="198.0" y="944.3" font-size="30.0" fill="#34495e" textLength="26.0" lengthAdjust="spacingAndGlyphs">→</text>
<g transform="translate(231.0,943.3) scale(1.1223,1)" stroke="#34495e" stroke-width="0.20"><text x="0.0" y="0.0" font-size="27.0" font-family="Liberation Serif" font-style="italic" fill="#34495e">z</text>
<text x="11.9" y="-9.7" font-size="13.5" font-family="Liberation Serif" fill="#34495e">∗</text></g>
<text x="265.0" y="943.3" font-size="28.0" fill="#34495e" textLength="29.0" lengthAdjust="spacingAndGlyphs">as</text>
<text x="302.0" y="943.3" font-size="27.0" font-family="Liberation Serif" font-style="italic" fill="#34495e">i</text>
<text x="325.0" y="944.3" font-size="30.0" fill="#34495e" textLength="26.0" lengthAdjust="spacingAndGlyphs">→</text>
<text x="357.0" y="943.3" font-size="27.0" font-family="Liberation Serif" fill="#34495e" textLength="23.0" lengthAdjust="spacingAndGlyphs">∞</text>
<text x="389.0" y="943.3" font-size="28.0" fill="#34495e" textLength="66.0" lengthAdjust="spacingAndGlyphs">when</text>
<g transform="translate(464.0,943.3) scale(1.1106,1)" stroke="#34495e" stroke-width="0.20"><text x="0.0" y="0.0" font-size="27.0" font-family="Liberation Serif" font-style="italic" fill="#34495e">f</text>
<text x="7.5" y="6.8" font-size="18.9" font-family="Liberation Serif" font-style="italic" fill="#34495e">θ</text></g>
<text x="497.0" y="943.3" font-size="28.0" fill="#34495e" textLength="454.0" lengthAdjust="spacingAndGlyphs">is a contraction mapping. Empirically</text>
<g transform="translate(958.0,943.3) scale(1.1223,1)" stroke="#34495e" stroke-width="0.20"><text x="0.0" y="0.0" font-size="27.0" font-family="Liberation Serif" font-style="italic" fill="#34495e">z</text>
<text x="11.9" y="-9.7" font-size="13.5" font-family="Liberation Serif" fill="#34495e">∗</text></g>
<text x="992.0" y="943.3" font-size="28.0" fill="#34495e" textLength="45.5" lengthAdjust="spacingAndGlyphs">can</text>
<text x="113.0" y="1024.3" font-size="28.0" fill="#34495e" textLength="367.5" lengthAdjust="spacingAndGlyphs">involves a full forward pass of</text>
<text x="496.0" y="1024.3" font-size="28.0" fill="#34495e" textLength="220.0" lengthAdjust="spacingAndGlyphs">network inference</text>
<g transform="translate(725.0,1024.3) scale(1.1106,1)" stroke="#34495e" stroke-width="0.20"><text x="0.0" y="0.0" font-size="27.0" font-family="Liberation Serif" font-style="italic" fill="#34495e">f</text>
<text x="7.5" y="6.8" font-size="18.9" font-family="Liberation Serif" font-style="italic" fill="#34495e">θ</text></g>
<text x="758.0" y="1024.3" font-size="28.0" fill="#34495e" textLength="249.5" lengthAdjust="spacingAndGlyphs">which can be costly.</text>
<g transform="translate(548.8,1259.0) scale(1.0477,1)" stroke="#000" stroke-width="0.35"><text x="0.0" y="0.0" font-size="40.0" font-family="Liberation Serif" font-style="italic">z</text>
<text x="17.6" y="-14.4" font-size="20.0" font-family="Liberation Serif">∗</text>
<text x="45.1" y="0.0" font-size="40.0" font-family="Liberation Serif">=</text>
<text x="78.5" y="0.0" font-size="40.0" font-family="Liberation Serif">tanh(</text>
<text x="160.7" y="0.0" font-size="40.0" font-family="Liberation Serif" font-style="italic">W</text>
<text x="194.0" y="10.0" font-size="28.0" font-family="Liberation Serif" font-style="italic">z</text>
<text x="217.4" y="0.0" font-size="40.0" font-family="Liberation Serif">·</text>
<text x="238.7" y="0.0" font-size="40.0" font-family="Liberation Serif" font-style="italic">z</text>
<text x="256.3" y="-14.4" font-size="20.0" font-family="Liberation Serif">∗</text>
<text x="281.0" y="0.0" font-size="40.0" font-family="Liberation Serif">+</text>
<text x="311.6" y="0.0" font-size="40.0" font-family="Liberation Serif" font-style="italic">W</text>
<text x="344.9" y="10.0" font-size="28.0" font-family="Liberation Serif" font-style="italic">x</text>
<text x="369.8" y="0.0" font-size="40.0" font-family="Liberation Serif">·</text>
<text x="391.1" y="0.0" font-size="40.0" font-family="Liberation Serif" font-style="italic">x</text>
<text x="416.9" y="0.0" font-size="40.0" font-family="Liberation Serif">+</text>
<text x="447.4" y="0.0" font-size="40.0" font-family="Liberation Serif" font-style="italic">b</text>
<text x="467.4" y="0.0" font-size="40.0" font-family="Liberation Serif">)</text></g>
<g transform="translate(443.5,1299.0) scale(1.0522,1)" stroke="#000" stroke-width="0.35"><text x="0.0" y="0.0" font-size="40.0" font-family="Liberation Serif" font-style="italic">y</text>
<text x="28.6" y="0.0" font-size="40.0" font-family="Liberation Serif">=</text>
<text x="61.9" y="0.0" font-size="40.0" font-family="Liberation Serif" font-style="italic">W</text>
<text x="96.8" y="0.0" font-size="40.0" font-family="Liberation Serif" font-style="italic">z</text>
<text x="114.4" y="-14.4" font-size="20.0" font-family="Liberation Serif">∗</text></g>
<g transform="translate(184.0,1339.0) scale(1.0563,1)" stroke="#000" stroke-width="0.35"><text x="0.0" y="0.0" font-size="40.0" font-family="Liberation Serif">(</text>
<text x="13.3" y="0.0" font-size="40.0" font-family="Liberation Serif" font-style="italic">x</text>
<text x="31.1" y="0.0" font-size="40.0" font-family="Liberation Serif">,</text>
<text x="47.1" y="0.0" font-size="40.0" font-family="Liberation Serif">sin(</text>
<text x="107.1" y="0.0" font-size="40.0" font-family="Liberation Serif" font-style="italic">x</text>
<text x="124.8" y="0.0" font-size="40.0" font-family="Liberation Serif">))</text></g>
<g transform="translate(1177.6,1034.7) scale(1.0262,1)" stroke="#000" stroke-width="0.35"><text x="0.0" y="0.0" font-size="36.0" font-family="Liberation Serif" font-style="italic">z</text>
<text x="12.6" y="9.0" font-size="25.2" font-family="Liberation Serif" font-style="italic">t</text>
<text x="15.4" y="-14.4" font-size="25.2" font-family="Liberation Serif" font-style="italic">i</text><text x="24.0" y="-14.4" font-size="25.2" font-family="Liberation Serif">+1</text>
<text x="61.6" y="0.0" font-size="36.0" font-family="Liberation Serif">=</text>
<text x="91.6" y="0.0" font-size="36.0" font-family="Liberation Serif" font-style="italic">σ</text>
<text x="109.4" y="0.0" font-size="36.0" font-family="Liberation Serif">(</text>
<text x="121.3" y="0.0" font-size="36.0" font-family="Liberation Serif" font-style="italic">W</text>
<text x="151.3" y="9.0" font-size="25.2" font-family="Liberation Serif" font-style="italic">z</text>
<text x="172.4" y="0.0" font-size="36.0" font-family="Liberation Serif">·</text>
<text x="191.6" y="0.0" font-size="36.0" font-family="Liberation Serif" font-style="italic">z</text>
<text x="204.1" y="9.0" font-size="25.2" font-family="Liberation Serif" font-style="italic">t</text>
<text x="207.0" y="-14.4" font-size="25.2" font-family="Liberation Serif" font-style="italic">i</text>
<text x="223.8" y="0.0" font-size="36.0" font-family="Liberation Serif">+</text>
<text x="251.3" y="0.0" font-size="36.0" font-family="Liberation Serif" font-style="italic">W</text>
<text x="281.3" y="9.0" font-size="25.2" font-family="Liberation Serif" font-style="italic">x</text>
<text x="303.7" y="0.0" font-size="36.0" font-family="Liberation Serif">·</text>
<text x="322.9" y="0.0" font-size="36.0" font-family="Liberation Serif" font-style="italic">x</text>
<text x="337.4" y="9.0" font-size="25.2" font-family="Liberation Serif" font-style="italic">t</text>
<text x="348.5" y="0.0" font-size="36.0" font-family="Liberation Serif">)</text>
<text x="370.2" y="0.0" font-size="36.0" font-family="Liberation Serif">=</text>
<text x="400.2" y="0.0" font-size="36.0" font-family="Liberation Serif" font-style="italic">σ</text>
<text x="418.0" y="0.0" font-size="36.0" font-family="Liberation Serif">(</text>
<text x="430.0" y="0.0" font-size="36.0" font-family="Liberation Serif" font-style="italic">W</text>
<text x="459.9" y="9.0" font-size="25.2" font-family="Liberation Serif" font-style="italic">z</text>
<text x="481.0" y="0.0" font-size="36.0" font-family="Liberation Serif">·</text>
<text x="500.2" y="0.0" font-size="36.0" font-family="Liberation Serif">(</text>
<text x="512.2" y="0.0" font-size="36.0" font-family="Liberation Serif" font-style="italic">z</text>
<text x="524.7" y="9.0" font-size="25.2" font-family="Liberation Serif" font-style="italic">t</text>
<text x="527.6" y="-14.4" font-size="25.2" font-family="Liberation Serif" font-style="italic">i</text>
<text x="544.4" y="0.0" font-size="36.0" font-family="Liberation Serif">−</text>
<text x="571.9" y="0.0" font-size="36.0" font-family="Liberation Serif" font-style="italic">z</text>
<text x="584.5" y="9.0" font-size="25.2" font-family="Liberation Serif" font-style="italic">t</text>
<text x="587.4" y="-14.4" font-size="25.2" font-family="Liberation Serif" font-style="italic">i</text><text x="595.9" y="-14.4" font-size="25.2" font-family="Liberation Serif">−1</text>
<text x="623.8" y="0.0" font-size="36.0" font-family="Liberation Serif">)</text>
<text x="642.9" y="0.0" font-size="36.0" font-family="Liberation Serif">+</text>
<text x="670.5" y="0.0" font-size="36.0" font-family="Liberation Serif" font-style="italic">W</text>
<text x="700.4" y="9.0" font-size="25.2" font-family="Liberation Serif" font-style="italic">z</text>
<text x="721.5" y="0.0" font-size="36.0" font-family="Liberation Serif">·</text>
<text x="740.7" y="0.0" font-size="36.0" font-family="Liberation Serif" font-style="italic">z</text>
<text x="753.2" y="9.0" font-size="25.2" font-family="Liberation Serif" font-style="italic">t</text>
<text x="756.1" y="-14.4" font-size="25.2" font-family="Liberation Serif" font-style="italic">i</text><text x="764.6" y="-14.4" font-size="25.2" font-family="Liberation Serif">−1</text>
<text x="799.7" y="0.0" font-size="36.0" font-family="Liberation Serif">+</text>
<text x="827.2" y="0.0" font-size="36.0" font-family="Liberation Serif" font-style="italic">W</text>
<text x="857.2" y="9.0" font-size="25.2" font-family="Liberation Serif" font-style="italic">x</text>
<text x="879.6" y="0.0" font-size="36.0" font-family="Liberation Serif">·</text>
<text x="898.8" y="0.0" font-size="36.0" font-family="Liberation Serif" font-style="italic">x</text>
<text x="913.4" y="9.0" font-size="25.2" font-family="Liberation Serif" font-style="italic">t</text>
<text x="924.4" y="0.0" font-size="36.0" font-family="Liberation Serif">)</text></g>
<g transform="translate(1299.2,1176.2) scale(1.0541,1)" stroke="#000" stroke-width="0.35"><text x="0.0" y="0.0" font-size="36.0" font-family="Liberation Serif">Δ</text>
<text x="23.1" y="0.0" font-size="36.0" font-family="Liberation Serif" font-style="italic">z</text>
<text x="35.7" y="9.0" font-size="25.2" font-family="Liberation Serif" font-style="italic">t</text>
<text x="38.6" y="-14.4" font-size="25.2" font-family="Liberation Serif" font-style="italic">i</text></g>
<g transform="translate(1365.5,1176.2) scale(1.0229,1)" stroke="#000" stroke-width="0.35"><text x="0.0" y="0.0" font-size="36.0" font-family="Liberation Serif">:=</text></g>
<path d="M1431 1117 C1420 1118 1420 1128 1420 1142 C1420 1158 1419 1164 1412.5 1167.5 C1419 1171 1420 1177 1420 1193 C1420 1207 1420 1217 1431 1218.5" fill="none" stroke="#000" stroke-width="2.6" stroke-linecap="round"/>
<g transform="translate(1437.0,1151.8) scale(1.1022,1)" stroke="#000" stroke-width="0.35"><text x="0.0" y="0.0" font-size="36.0" font-family="Liberation Serif" font-style="italic">z</text>
<text x="12.6" y="9.0" font-size="25.2" font-family="Liberation Serif" font-style="italic">t</text>
<text x="15.4" y="-14.4" font-size="25.2" font-family="Liberation Serif" font-style="italic">i</text>
<text x="32.2" y="0.0" font-size="36.0" font-family="Liberation Serif">−</text>
<text x="59.7" y="0.0" font-size="36.0" font-family="Liberation Serif" font-style="italic">z</text>
<text x="72.3" y="9.0" font-size="25.2" font-family="Liberation Serif" font-style="italic">t</text>
<text x="75.2" y="-14.4" font-size="25.2" font-family="Liberation Serif" font-style="italic">i</text><text x="83.7" y="-14.4" font-size="25.2" font-family="Liberation Serif">−1</text></g>
<g transform="translate(1597.7,1151.8) scale(1.1483,1)" stroke="#000" stroke-width="0.35"><text x="0.0" y="0.0" font-size="36.0" font-family="Liberation Serif">if |</text>
<text x="38.2" y="0.0" font-size="36.0" font-family="Liberation Serif" font-style="italic">z</text>
<text x="50.8" y="9.0" font-size="25.2" font-family="Liberation Serif" font-style="italic">t</text>
<text x="53.6" y="-14.4" font-size="25.2" font-family="Liberation Serif" font-style="italic">i</text>
<text x="70.4" y="0.0" font-size="36.0" font-family="Liberation Serif">−</text>
<text x="97.9" y="0.0" font-size="36.0" font-family="Liberation Serif" font-style="italic">z</text>
<text x="110.5" y="9.0" font-size="25.2" font-family="Liberation Serif" font-style="italic">t</text>
<text x="113.4" y="-14.4" font-size="25.2" font-family="Liberation Serif" font-style="italic">i</text><text x="121.9" y="-14.4" font-size="25.2" font-family="Liberation Serif">−1</text>
<text x="149.8" y="0.0" font-size="36.0" font-family="Liberation Serif">|</text>
<text x="166.7" y="0.0" font-size="36.0" font-family="Liberation Serif">≥</text>
<text x="196.2" y="0.0" font-size="36.0" font-family="Liberation Serif" font-style="italic">τ</text></g>
<g transform="translate(1437.0,1201.4) scale(0.8333,1)" stroke="#000" stroke-width="0.35"><text x="0.0" y="0.0" font-size="36.0" font-family="Liberation Serif">0</text></g>
<g transform="translate(1597.7,1201.4) scale(0.9853,1)" stroke="#000" stroke-width="0.35"><text x="0.0" y="0.0" font-size="36.0" font-family="Liberation Serif">otherwise</text></g>
<g transform="translate(1874.0,1176.2) scale(1.0998,1)" stroke="#000" stroke-width="0.35"><text x="0.0" y="0.0" font-size="36.0" font-family="Liberation Serif">(</text>
<text x="12.0" y="0.0" font-size="36.0" font-family="Liberation Serif" font-weight="bold">Delta Rule</text>
<text x="175.0" y="0.0" font-size="36.0" font-family="Liberation Serif">)</text></g>
<g transform="translate(1300.0,1310.1) scale(1.0240,1)" stroke="#000" stroke-width="0.35"><text x="0.0" y="0.0" font-size="40.0" font-family="Liberation Serif" font-style="italic">z</text>
<text x="14.0" y="10.0" font-size="28.0" font-family="Liberation Serif" font-style="italic">t</text>
<text x="17.2" y="-16.0" font-size="28.0" font-family="Liberation Serif" font-style="italic">i</text><text x="26.6" y="-16.0" font-size="28.0" font-family="Liberation Serif">+1</text></g>
<g transform="translate(1363.3,1310.1) scale(1.1348,1)" stroke="#000" stroke-width="0.35"><text x="0.0" y="0.0" font-size="40.0" font-family="Liberation Serif">≈</text>
<text x="22.0" y="0.0" font-size="40.0" font-family="Liberation Serif" font-style="italic">σ</text></g>
<g transform="translate(1416.4,1310.1) scale(0.8257,1)" stroke="#000" stroke-width="0.35"><text x="0.0" y="0.0" font-size="40.0" font-family="Liberation Serif">(</text></g>
<g transform="translate(1431.0,1310.1) scale(1.0215,1)" stroke="#000" stroke-width="0.35"><text x="0.0" y="0.0" font-size="40.0" font-family="Liberation Serif" font-style="italic">W</text>
<text x="33.3" y="10.0" font-size="28.0" font-family="Liberation Serif" font-style="italic">z</text>
<text x="56.7" y="0.0" font-size="40.0" font-family="Liberation Serif">·</text>
<text x="78.0" y="0.0" font-size="40.0" font-family="Liberation Serif">Δ</text>
<text x="103.7" y="0.0" font-size="40.0" font-family="Liberation Serif" font-style="italic">z</text>
<text x="117.7" y="10.0" font-size="28.0" font-family="Liberation Serif" font-style="italic">t</text>
<text x="120.9" y="-16.0" font-size="28.0" font-family="Liberation Serif" font-style="italic">i</text></g>
<g transform="translate(1575.5,1310.1) scale(1.0860,1)" stroke="#000" stroke-width="0.35"><text x="0.0" y="0.0" font-size="40.0" font-family="Liberation Serif">+</text></g>
<g transform="translate(1614.0,1310.1) scale(1.0204,1)" stroke="#000" stroke-width="0.35"><text x="0.0" y="0.0" font-size="40.0" font-family="Liberation Serif" font-style="italic">W</text>
<text x="33.3" y="10.0" font-size="28.0" font-family="Liberation Serif" font-style="italic">z</text>
<text x="56.7" y="0.0" font-size="40.0" font-family="Liberation Serif">·</text>
<text x="78.0" y="0.0" font-size="40.0" font-family="Liberation Serif" font-style="italic">z</text>
<text x="92.0" y="10.0" font-size="28.0" font-family="Liberation Serif" font-style="italic">t</text>
<text x="95.2" y="-16.0" font-size="28.0" font-family="Liberation Serif" font-style="italic">i</text><text x="104.6" y="-16.0" font-size="28.0" font-family="Liberation Serif">−1</text></g>
<g transform="translate(1768.0,1310.1) scale(1.0727,1)" stroke="#000" stroke-width="0.35"><text x="0.0" y="0.0" font-size="40.0" font-family="Liberation Serif">+</text></g>
<g transform="translate(1822.0,1310.1) scale(0.9939,1)" stroke="#000" stroke-width="0.35"><text x="0.0" y="0.0" font-size="40.0" font-family="Liberation Serif" font-style="italic">W</text>
<text x="33.3" y="10.0" font-size="28.0" font-family="Liberation Serif" font-style="italic">x</text>
<text x="58.2" y="0.0" font-size="40.0" font-family="Liberation Serif">·</text>
<text x="79.6" y="0.0" font-size="40.0" font-family="Liberation Serif" font-style="italic">x</text>
<text x="95.7" y="10.0" font-size="28.0" font-family="Liberation Serif" font-style="italic">t</text></g>
<g transform="translate(1955.8,1310.1) scale(0.7589,1)" stroke="#000" stroke-width="0.35"><text x="0.0" y="0.0" font-size="40.0" font-family="Liberation Serif">).</text></g>
<path d="M1427.4 1320.0 C1428.4 1331.0 1433.4 1331.0 1441.4 1331.0 L1485.1 1331.0 C1492.1 1331.0 1495.6 1332.0 1497.1 1340.0 C1498.6 1332.0 1502.1 1331.0 1509.1 1331.0 L1552.7 1331.0 C1560.7 1331.0 1565.7 1331.0 1566.7 1320.0" fill="none" stroke="#000" stroke-width="2.4" stroke-linecap="round"/>
<path d="M1612.0 1320.0 C1613.0 1331.0 1618.0 1331.0 1626.0 1331.0 L1671.0 1331.0 C1678.0 1331.0 1681.5 1332.0 1683.0 1340.0 C1684.5 1332.0 1688.0 1331.0 1695.0 1331.0 L1740.0 1331.0 C1748.0 1331.0 1753.0 1331.0 1754.0 1320.0" fill="none" stroke="#000" stroke-width="2.4" stroke-linecap="round"/>
<path d="M1820.0 1317.0 C1821.0 1327.5 1826.0 1327.5 1834.0 1327.5 L1863.8 1327.5 C1870.8 1327.5 1874.2 1328.5 1875.8 1336.0 C1877.2 1328.5 1880.8 1327.5 1887.8 1327.5 L1917.5 1327.5 C1925.5 1327.5 1930.5 1327.5 1931.5 1317.0" fill="none" stroke="#000" stroke-width="2.4" stroke-linecap="round"/>
<g transform="translate(1461.0,1364.0) scale(1.0597,1)" stroke="#000" stroke-width="0.20"><text x="0.0" y="0.0" font-size="27.0" font-family="Liberation Serif">sparse</text></g>
<g transform="translate(1607.8,1365.4) scale(1.0838,1)" stroke="#000" stroke-width="0.20"><text x="0.0" y="0.0" font-size="27.0" font-family="Liberation Serif">cached in </text>
<text x="109.4" y="0.0" font-size="27.0" font-family="Liberation Serif" font-style="italic">C</text>
<text x="126.4" y="6.8" font-size="18.9" font-family="Liberation Serif" font-style="italic">z</text></g>
<g transform="translate(1800.0,1361.9) scale(1.0815,1)" stroke="#000" stroke-width="0.20"><text x="0.0" y="0.0" font-size="27.0" font-family="Liberation Serif">cached in </text>
<text x="109.4" y="0.0" font-size="27.0" font-family="Liberation Serif" font-style="italic">C</text>
<text x="126.4" y="6.8" font-size="18.9" font-family="Liberation Serif" font-style="italic">x</text></g>
<g transform="translate(1455.0,1454.5) scale(1.1771,1)" stroke="#34495e" stroke-width="0.20"><text x="0.0" y="0.0" font-size="25.0" font-family="Liberation Serif" font-style="italic" fill="#34495e">C</text>
<text x="15.7" y="6.2" font-size="17.5" font-family="Liberation Serif" font-style="italic" fill="#34495e">z</text>
<text x="32.0" y="0.0" font-size="25.0" font-family="Liberation Serif" fill="#34495e">←</text>
<text x="63.8" y="0.0" font-size="25.0" font-family="Liberation Serif" font-style="italic" fill="#34495e">W</text>
<text x="84.6" y="6.2" font-size="17.5" font-family="Liberation Serif" font-style="italic" fill="#34495e">z</text>
<text x="99.2" y="0.0" font-size="25.0" font-family="Liberation Serif" fill="#34495e">·</text>
<text x="112.5" y="0.0" font-size="25.0" font-family="Liberation Serif" fill="#34495e">Δ</text>
<text x="128.6" y="0.0" font-size="25.0" font-family="Liberation Serif" font-style="italic" fill="#34495e">z</text>
<text x="137.4" y="6.2" font-size="17.5" font-family="Liberation Serif" font-style="italic" fill="#34495e">t</text>
<text x="139.4" y="-10.0" font-size="17.5" font-family="Liberation Serif" font-style="italic" fill="#34495e">i</text>
<text x="151.0" y="0.0" font-size="25.0" font-family="Liberation Serif" fill="#34495e">+</text>
<text x="170.1" y="0.0" font-size="25.0" font-family="Liberation Serif" font-style="italic" fill="#34495e">C</text>
<text x="185.8" y="6.2" font-size="17.5" font-family="Liberation Serif" font-style="italic" fill="#34495e">z</text></g>
<g transform="translate(1491.5,1893.6) scale(0.9765,1)" stroke="#000" stroke-width="0.35"><text x="0.0" y="0.0" font-size="40.0" font-family="Liberation Serif" font-style="italic">z</text>
<text x="17.6" y="-14.4" font-size="22.0" font-family="Liberation Serif">★</text>
<text x="46.7" y="0.0" font-size="40.0" font-family="Liberation Serif">=</text>
<text x="80.0" y="0.0" font-size="40.0" font-family="Liberation Serif">(</text>
<text x="93.4" y="0.0" font-size="40.0" font-family="Liberation Serif" font-style="italic">W</text>
<text x="128.3" y="0.0" font-size="40.0" font-family="Liberation Serif" font-style="italic">z</text>
<text x="145.8" y="-14.4" font-size="22.0" font-family="Liberation Serif">★</text>
<text x="172.2" y="0.0" font-size="40.0" font-family="Liberation Serif">+</text>
<text x="202.7" y="0.0" font-size="40.0" font-family="Liberation Serif" font-style="italic">W</text>
<text x="237.6" y="0.0" font-size="40.0" font-family="Liberation Serif" font-style="italic">g</text>
<text x="257.6" y="0.0" font-size="40.0" font-family="Liberation Serif">(</text>
<text x="271.0" y="0.0" font-size="40.0" font-family="Liberation Serif" font-style="italic">x</text>
<text x="288.7" y="0.0" font-size="40.0" font-family="Liberation Serif">;</text>
<text x="304.6" y="0.0" font-size="40.0" font-family="Liberation Serif" font-style="italic">V</text>
<text x="330.7" y="0.0" font-size="40.0" font-family="Liberation Serif">)</text>
<text x="352.0" y="0.0" font-size="40.0" font-family="Liberation Serif">+</text>
<text x="382.5" y="0.0" font-size="40.0" font-family="Liberation Serif" font-style="italic">b</text>
<text x="402.5" y="0.0" font-size="40.0" font-family="Liberation Serif">)</text>
<text x="423.9" y="0.0" font-size="40.0" font-family="Liberation Serif">∘</text>
<text x="463.0" y="0.0" font-size="40.0" font-family="Liberation Serif" font-style="italic">g</text>
<text x="483.0" y="0.0" font-size="40.0" font-family="Liberation Serif">(</text>
<text x="496.3" y="0.0" font-size="40.0" font-family="Liberation Serif" font-style="italic">x</text>
<text x="514.1" y="0.0" font-size="40.0" font-family="Liberation Serif">;</text>
<text x="530.0" y="0.0" font-size="40.0" font-family="Liberation Serif" font-style="italic">U</text>
<text x="560.5" y="0.0" font-size="40.0" font-family="Liberation Serif">)</text></g>
<!-- p_cam -->
<defs>
<linearGradient id="sky" x1="0" y1="0" x2="0" y2="1"><stop offset="0" stop-color="#bdbdbd"/><stop offset="0.6" stop-color="#cbcbcb"/><stop offset="1" stop-color="#dadada"/></linearGradient>
<linearGradient id="grs" x1="0" y1="0" x2="0" y2="1"><stop offset="0" stop-color="#a2a2a2"/><stop offset="0.25" stop-color="#959595"/><stop offset="1" stop-color="#8a8a8a"/></linearGradient>
<linearGradient id="pole" x1="0" y1="0" x2="1" y2="0"><stop offset="0" stop-color="#3a3a3a"/><stop offset="0.3" stop-color="#d4d4d4"/><stop offset="0.7" stop-color="#b0b0b0"/><stop offset="1" stop-color="#2c2c2c"/></linearGradient>
<filter id="gn" x="0" y="0" width="100%" height="100%"><feTurbulence type="fractalNoise" baseFrequency="0.35" numOctaves="2" seed="3" result="n"/><feColorMatrix type="matrix" values="0 0 0 0 0.5  0 0 0 0 0.5  0 0 0 0 0.5  0.9 0 0 0 -0.25"/></filter>
<filter id="gn2" x="0" y="0" width="100%" height="100%"><feTurbulence type="fractalNoise" baseFrequency="0.9" numOctaves="1" seed="7"/><feColorMatrix type="matrix" values="0 0 0 0 0.55  0 0 0 0 0.55  0 0 0 0 0.55  1.2 0 0 0 -0.42"/></filter>
<filter id="cb" x="-2%" y="-2%" width="104%" height="104%"><feGaussianBlur stdDeviation="2.2"/></filter>
<clipPath id="camclip"><rect x="47" y="35" width="1463" height="1467"/></clipPath>
<g id="cam" clip-path="url(#camclip)">
<rect x="47" y="35" width="1463" height="670" fill="url(#sky)"/>
<rect x="47" y="700" width="1463" height="802" fill="url(#grs)"/>
<g filter="url(#cb)">
<polygon points="47,548 150,540 200,560 200,700 47,720" fill="#7c7c7c" />
<polygon points="47,600 190,590 190,640 47,650" fill="#a8a8a8" />
<polygon points="47,660 130,650 130,700 47,710" fill="#5a5a5a" />
<polygon points="700,560 1000,560 1000,700 700,700" fill="#8a8a8a" />
<polygon points="740,570 960,570 960,620 740,620" fill="#6e6e6e" />
<polygon points="960,640 1510,615 1510,705 960,705" fill="#5c5c5c" />
<polygon points="1000,600 1240,580 1240,650 1000,660" fill="#727272" />
<ellipse cx="1100" cy="560" rx="75" ry="48" fill="#d2d2d2"/>
<ellipse cx="1160" cy="590" rx="55" ry="35" fill="#dcdcdc"/>
<polygon points="1025,560 1215,560 1215,610 1025,610" fill="#c6c6c6" />
<polygon points="1228,400 1282,392 1284,585 1228,590" fill="#e6e6e6" />
<polygon points="1228,400 1240,398 1240,590 1228,590" fill="#bcbcbc" />
<circle cx="1268" cy="385" r="14" fill="#f4f4f4"/>
<circle cx="1243" cy="398" r="9" fill="#e0e0e0"/>
<polygon points="1340,515 1395,510 1398,595 1340,598" fill="#8e8e8e" />
<polygon points="1395,545 1455,540 1458,600 1395,600" fill="#5e5e5e" />
<polygon points="1455,570 1510,568 1510,610 1455,610" fill="#9a9a9a" />
<path d="M1245 660 Q1300 600 1400 600 Q1470 600 1505 640 L1505 690 L1245 690Z" fill="#c9c9c9"/>
<path d="M1250 668 Q1310 625 1400 640 L1400 690 L1250 690Z" fill="#4a4a4a"/>
<path d="M1400 640 L1500 650 L1500 690 L1400 690Z" fill="#a6a6a6"/>
<ellipse cx="992" cy="714" rx="34" ry="12" fill="#e8e8e8"/>
<rect x="47" y="696" width="1463" height="12" fill="#9c9c9c" fill-opacity="0.6"/>
</g>
<rect x="47" y="705" width="1463" height="797" filter="url(#gn)" opacity="0.55"/>
<g filter="url(#cb)">
<rect x="873" y="640" width="24" height="790" fill="url(#pole)"/>
<path d="M862 985 L888 985 L752 1500 L722 1500Z" fill="#c8c8c8"/><path d="M862 985 L870 985 L732 1500 L722 1500Z" fill="#3c3c3c"/>
<path d="M908 985 L932 978 L1208 1500 L1184 1500Z" fill="#d0d0d0"/><path d="M924 980 L932 978 L1208 1500 L1199 1500Z" fill="#444"/>
<path d="M760 1385 L885 1408 L885 1425 L745 1452Z" fill="none" stroke="#3a3a3a" stroke-width="9"/>
<polygon points="710,1430 750,1430 748,1502 706,1502" fill="#2a2a2a" />
<polygon points="1140,1395 1172,1385 1195,1445 1162,1455" fill="#2a2a2a" />
<ellipse cx="885" cy="965" rx="38" ry="34" fill="#2e2e2e"/>
<path d="M905 955 L985 912" stroke="#2a2a2a" stroke-width="13" stroke-linecap="round"/><ellipse cx="995" cy="906" rx="20" ry="11" fill="#3a3a3a" transform="rotate(-10 995 906)"/>
<ellipse cx="885" cy="1415" rx="26" ry="14" fill="#333"/>
<polygon points="788,438 975,434 977,482 962,522 947,562 832,562 790,542" fill="#b4b4b4" />
<polygon points="788,436 977,432 977,456 788,462" fill="#4c4c4c" />
<polygon points="788,452 822,452 826,548 790,542" fill="#343434" />
<polygon points="835,470 935,468 935,500 835,505" fill="#d6d6d6" />
<polygon points="828,565 882,565 884,645 828,640" fill="#1e1e1e" />
<polygon points="700,622 880,616 880,640 700,644" fill="#767676" />
<path d="M930 520 L930 700" stroke="#c0c0c0" stroke-width="5"/>
<polygon points="925,528 988,522 996,560 985,610 962,680 925,705 900,660 905,590" fill="#1c1c1c" />
<polygon points="47,1502 47,770 100,700 150,620 215,520 290,440 420,395 492,342 530,345 560,420 560,470 525,485 565,570 580,640 640,590 705,600 742,640 738,692 800,652 860,700 882,760 915,822 880,852 760,930 655,880 605,905 560,960 520,1010 482,1060 455,1150 468,1250 480,1350 476,1502" fill="#0f0f0f" />
<polygon points="325,1502 335,1310 400,1400 446,1502" fill="#4c4c4c" />
<polygon points="520,660 600,610 690,620 740,650 730,700 660,760 600,770" fill="#1f1f1f" />
<polygon points="800,660 850,640 880,700 860,730 820,720" fill="#161616" />
<polygon points="120,760 230,560 300,470 330,560 250,720 160,860" fill="#1a1a1a" />
<polygon points="500,880 560,850 575,870 510,895" fill="#3a3a3a" />
<polygon points="508,468 560,545 592,600 568,645 548,565 520,505" fill="#e6e6e6" />
<polygon points="556,400 620,378 700,396 788,438 778,490 772,506 752,530 744,560 724,592 690,602 640,582 590,545 558,475" fill="#7e7e7e" />
<polygon points="640,420 780,440 770,500 750,525 700,520 650,480" fill="#8e8e8e" />
<polygon points="690,440 770,452 768,470 700,462" fill="#3a3a3a" />
<ellipse cx="588" cy="450" rx="22" ry="36" fill="#8a8a8a"/>
<polygon points="640,545 720,560 724,592 690,602 640,582" fill="#5a5a5a" />
<path d="M498 345 Q505 290 560 250 Q640 205 725 245 Q800 290 822 365 Q820 405 792 425 Q740 395 690 400 Q640 395 610 415 Q570 400 560 440 Q540 470 520 440 Q500 400 498 345Z" fill="#0c0c0c"/>
</g>
</g>
</defs>
<g transform="translate(1233.1,1576) scale(0.17225) translate(-47,-35)"><use href="#cam"/>
</g>
<g transform="translate(1521.2,1576) scale(0.17225) translate(-47,-35)"><use href="#cam"/>
</g>
<g transform="translate(1808.8,1576) scale(0.17225) translate(-47,-35)"><use href="#cam"/>
<rect x="47" y="35" width="1463" height="1467" filter="url(#gn2)" opacity="0.2"/>
</g>
<text x="1359.0" y="1569.5" font-size="16.5" text-anchor="middle" textLength="108.0" lengthAdjust="spacingAndGlyphs">Ground Truth</text>
<text x="1646.5" y="1569.5" font-size="16.5" text-anchor="middle" textLength="163.0" lengthAdjust="spacingAndGlyphs">Recon. DEQ-Fourier</text>
<text x="1934.0" y="1569.5" font-size="16.5" text-anchor="middle" textLength="263.5" lengthAdjust="spacingAndGlyphs">Recon. DeltaDEQ-Fourier (ours)</text>
<text x="1646.5" y="1852.5" font-size="12.5" text-anchor="middle" textLength="218.5" lengthAdjust="spacingAndGlyphs">PSNR= 32.32, FLOPs(Tera)= 3.2</text>
<text x="1934.0" y="1852.5" font-size="12.5" text-anchor="middle" textLength="218.5" lengthAdjust="spacingAndGlyphs">PSNR= 31.30, FLOPs(Tera)= 0.5</text>
<!-- p_chart2 -->
<rect x="1661.6" y="1935.6" width="425.8" height="290.2" fill="#fff" />
<clipPath id="c2clip"><rect x="1661.6" y="1935.6" width="425.8" height="290.2"/></clipPath>
<g clip-path="url(#c2clip)">
<path d="M1661.6 2007.0C1678.7 2007.0 1726.3 2007.0 1764.1 2007.0C1801.9 2007.0 1863.6 2007.0 1888.5 2007.2C1913.3 2007.5 1905.0 2007.7 1913.3 2008.2C1921.6 2008.7 1929.9 2009.2 1938.2 2010.2C1946.5 2011.3 1956.6 2013.1 1963.1 2014.5C1969.6 2015.8 1973.1 2016.9 1977.2 2018.2C1981.4 2019.4 1982.0 2019.2 1987.9 2021.9C1993.9 2024.6 2004.5 2028.8 2012.8 2034.4C2021.1 2040.0 2029.4 2047.4 2037.7 2055.5C2046.0 2063.6 2054.3 2072.9 2062.6 2082.9C2070.8 2092.8 2083.3 2109.8 2087.4 2115.2" fill="none" stroke="#1f77b4" stroke-width="5.5" stroke-opacity="0.22"/>
<path d="M1661.6 2063.5C1674.6 2059.0 1712.9 2045.9 1739.2 2036.8C1765.5 2027.8 1792.8 2017.9 1819.3 2009.0C1845.8 2000.1 1872.1 1991.0 1898.4 1983.4C1924.7 1975.7 1954.0 1968.6 1977.2 1963.0C2000.5 1957.4 2019.3 1953.4 2037.7 1949.8C2056.0 1946.2 2079.1 1943.0 2087.4 1941.6" fill="none" stroke="#ff7f0e" stroke-width="4.0" stroke-opacity="0.18"/>
<path d="M1661.6 2066.7C1674.6 2062.3 1712.9 2049.2 1739.2 2040.1C1765.5 2031.0 1792.8 2021.0 1819.3 2012.0C1845.8 2003.0 1872.1 1993.9 1898.4 1986.1C1924.7 1978.3 1954.0 1970.8 1977.2 1965.2C2000.5 1959.7 2019.3 1956.1 2037.7 1952.8C2056.0 1949.5 2079.1 1946.8 2087.4 1945.6" fill="none" stroke="#ff7f0e" stroke-width="4.0" stroke-opacity="0.15"/>
<path d="M1661.6 2063.5C1674.6 2059.0 1712.9 2045.9 1739.2 2036.8C1765.5 2027.8 1792.8 2017.9 1819.3 2009.0C1845.8 2000.1 1872.1 1991.0 1898.4 1983.4C1924.7 1975.7 1954.0 1968.6 1977.2 1963.0C2000.5 1957.4 2019.3 1953.4 2037.7 1949.8C2056.0 1946.2 2079.1 1943.0 2087.4 1941.6" fill="none" stroke="#ff7f0e" stroke-width="2.1" />
<path d="M1661.6 2066.7C1674.6 2062.3 1712.9 2049.2 1739.2 2040.1C1765.5 2031.0 1792.8 2021.0 1819.3 2012.0C1845.8 2003.0 1872.1 1993.9 1898.4 1986.1C1924.7 1978.3 1954.0 1970.8 1977.2 1965.2C2000.5 1959.7 2019.3 1956.1 2037.7 1952.8C2056.0 1949.5 2079.1 1946.8 2087.4 1945.6" fill="none" stroke="#ff7f0e" stroke-width="2.0" stroke-dasharray="7.5,3.2"/>
<path d="M1661.6 1975.2C1674.6 1975.2 1713.9 1975.1 1739.2 1975.2C1764.6 1975.2 1793.1 1975.3 1813.8 1975.7C1834.6 1976.0 1851.1 1976.5 1863.6 1977.2C1876.0 1977.8 1880.2 1978.5 1888.5 1979.6C1896.7 1980.8 1905.0 1982.0 1913.3 1984.1C1921.6 1986.2 1929.9 1988.5 1938.2 1992.1C1946.5 1995.7 1956.6 2001.6 1963.1 2005.8C1969.6 2009.9 1973.1 2013.4 1977.2 2016.9C1981.4 2020.5 1982.0 2020.5 1987.9 2026.9C1993.9 2033.3 2004.5 2044.5 2012.8 2055.5C2021.1 2066.5 2029.4 2078.7 2037.7 2092.8C2046.0 2106.9 2054.3 2123.5 2062.6 2140.1C2070.8 2156.6 2083.3 2183.6 2087.4 2192.3" fill="none" stroke="#1f77b4" stroke-width="2.1" />
<path d="M1661.6 2007.0C1678.7 2007.0 1726.3 2007.0 1764.1 2007.0C1801.9 2007.0 1863.6 2007.0 1888.5 2007.2C1913.3 2007.5 1905.0 2007.7 1913.3 2008.2C1921.6 2008.7 1929.9 2009.2 1938.2 2010.2C1946.5 2011.3 1956.6 2013.1 1963.1 2014.5C1969.6 2015.8 1973.1 2016.9 1977.2 2018.2C1981.4 2019.4 1982.0 2019.2 1987.9 2021.9C1993.9 2024.6 2004.5 2028.8 2012.8 2034.4C2021.1 2040.0 2029.4 2047.4 2037.7 2055.5C2046.0 2063.6 2054.3 2072.9 2062.6 2082.9C2070.8 2092.8 2083.3 2109.8 2087.4 2115.2" fill="none" stroke="#1f77b4" stroke-width="2.0" stroke-dasharray="7.5,3.2"/>
</g>
<rect x="1661.6" y="1935.6" width="425.8" height="290.2" fill="none" stroke="#000" stroke-width="1.6" />
<line x1="1657.4" y1="2225.9" x2="1661.6" y2="2225.9" stroke="#000" stroke-width="1.2" />
<text x="1650.6" y="2231.0" font-size="14.2" text-anchor="end" textLength="7.5" lengthAdjust="spacingAndGlyphs">0</text>
<line x1="1657.4" y1="2167.8" x2="1661.6" y2="2167.8" stroke="#000" stroke-width="1.2" />
<text x="1650.6" y="2172.9" font-size="14.2" text-anchor="end" textLength="15.0" lengthAdjust="spacingAndGlyphs">20</text>
<line x1="1657.4" y1="2109.8" x2="1661.6" y2="2109.8" stroke="#000" stroke-width="1.2" />
<text x="1650.6" y="2114.9" font-size="14.2" text-anchor="end" textLength="15.0" lengthAdjust="spacingAndGlyphs">40</text>
<line x1="1657.4" y1="2051.7" x2="1661.6" y2="2051.7" stroke="#000" stroke-width="1.2" />
<text x="1650.6" y="2056.8" font-size="14.2" text-anchor="end" textLength="15.0" lengthAdjust="spacingAndGlyphs">60</text>
<line x1="1657.4" y1="1993.7" x2="1661.6" y2="1993.7" stroke="#000" stroke-width="1.2" />
<text x="1650.6" y="1998.8" font-size="14.2" text-anchor="end" textLength="15.0" lengthAdjust="spacingAndGlyphs">80</text>
<line x1="1657.4" y1="1935.6" x2="1661.6" y2="1935.6" stroke="#000" stroke-width="1.2" />
<text x="1650.6" y="1940.7" font-size="14.2" text-anchor="end" textLength="22.5" lengthAdjust="spacingAndGlyphs">100</text>
<line x1="2087.4" y1="2225.9" x2="2091.6" y2="2225.9" stroke="#000" stroke-width="1.2" />
<text x="2096.5" y="2231.0" font-size="14.2" textLength="15.0" lengthAdjust="spacingAndGlyphs">15</text>
<line x1="2087.4" y1="2153.6" x2="2091.6" y2="2153.6" stroke="#000" stroke-width="1.2" />
<text x="2096.5" y="2158.7" font-size="14.2" textLength="15.0" lengthAdjust="spacingAndGlyphs">20</text>
<line x1="2087.4" y1="2081.3" x2="2091.6" y2="2081.3" stroke="#000" stroke-width="1.2" />
<text x="2096.5" y="2086.4" font-size="14.2" textLength="15.0" lengthAdjust="spacingAndGlyphs">25</text>
<line x1="2087.4" y1="2009.0" x2="2091.6" y2="2009.0" stroke="#000" stroke-width="1.2" />
<text x="2096.5" y="2014.1" font-size="14.2" textLength="15.0" lengthAdjust="spacingAndGlyphs">30</text>
<line x1="1661.6" y1="2225.9" x2="1661.6" y2="2230.1" stroke="#000" stroke-width="1.2" />
<text x="1647.1" y="2244.5" font-size="14.2" textLength="15.0" lengthAdjust="spacingAndGlyphs">10</text>
<text x="1663.8" y="2238.5" font-size="10.2" letter-spacing="0.4">−3</text>
<line x1="1819.4" y1="2225.9" x2="1819.4" y2="2230.1" stroke="#000" stroke-width="1.2" />
<text x="1804.9" y="2244.5" font-size="14.2" textLength="15.0" lengthAdjust="spacingAndGlyphs">10</text>
<text x="1821.6" y="2238.5" font-size="10.2" letter-spacing="0.4">−2</text>
<line x1="1977.2" y1="2225.9" x2="1977.2" y2="2230.1" stroke="#000" stroke-width="1.2" />
<text x="1962.7" y="2244.5" font-size="14.2" textLength="15.0" lengthAdjust="spacingAndGlyphs">10</text>
<text x="1979.4" y="2238.5" font-size="10.2" letter-spacing="0.4">−1</text>
<line x1="1709.1" y1="2225.9" x2="1709.1" y2="2228.3" stroke="#000" stroke-width="0.9" />
<line x1="1736.9" y1="2225.9" x2="1736.9" y2="2228.3" stroke="#000" stroke-width="0.9" />
<line x1="1756.6" y1="2225.9" x2="1756.6" y2="2228.3" stroke="#000" stroke-width="0.9" />
<line x1="1771.9" y1="2225.9" x2="1771.9" y2="2228.3" stroke="#000" stroke-width="0.9" />
<line x1="1784.4" y1="2225.9" x2="1784.4" y2="2228.3" stroke="#000" stroke-width="0.9" />
<line x1="1795.0" y1="2225.9" x2="1795.0" y2="2228.3" stroke="#000" stroke-width="0.9" />
<line x1="1804.1" y1="2225.9" x2="1804.1" y2="2228.3" stroke="#000" stroke-width="0.9" />
<line x1="1812.2" y1="2225.9" x2="1812.2" y2="2228.3" stroke="#000" stroke-width="0.9" />
<line x1="1866.9" y1="2225.9" x2="1866.9" y2="2228.3" stroke="#000" stroke-width="0.9" />
<line x1="1894.7" y1="2225.9" x2="1894.7" y2="2228.3" stroke="#000" stroke-width="0.9" />
<line x1="1914.4" y1="2225.9" x2="1914.4" y2="2228.3" stroke="#000" stroke-width="0.9" />
<line x1="1929.7" y1="2225.9" x2="1929.7" y2="2228.3" stroke="#000" stroke-width="0.9" />
<line x1="1942.2" y1="2225.9" x2="1942.2" y2="2228.3" stroke="#000" stroke-width="0.9" />
<line x1="1952.8" y1="2225.9" x2="1952.8" y2="2228.3" stroke="#000" stroke-width="0.9" />
<line x1="1961.9" y1="2225.9" x2="1961.9" y2="2228.3" stroke="#000" stroke-width="0.9" />
<line x1="1970.0" y1="2225.9" x2="1970.0" y2="2228.3" stroke="#000" stroke-width="0.9" />
<line x1="2024.7" y1="2225.9" x2="2024.7" y2="2228.3" stroke="#000" stroke-width="0.9" />
<line x1="2052.5" y1="2225.9" x2="2052.5" y2="2228.3" stroke="#000" stroke-width="0.9" />
<line x1="2072.2" y1="2225.9" x2="2072.2" y2="2228.3" stroke="#000" stroke-width="0.9" />
<line x1="2087.5" y1="2225.9" x2="2087.5" y2="2228.3" stroke="#000" stroke-width="0.9" />
<text x="1758.6" y="2267.4" font-size="17.2" textLength="231.5" lengthAdjust="spacingAndGlyphs">Inference Delta Threshold</text>
<g transform="translate(1618.6,2175) rotate(-90)"><text x="0.0" y="0.0" font-size="17.2" fill="#ff7f0e" textLength="188.0" lengthAdjust="spacingAndGlyphs">FLOPS Reduction (%)</text></g>
<g transform="translate(2131.7,2103.5) rotate(-90)"><text x="0.0" y="0.0" font-size="17.2" fill="#1f77b4" textLength="47.0" lengthAdjust="spacingAndGlyphs">PSNR</text></g>
<rect x="1667.9" y="2177.9" width="159.6" height="41.3" rx="2.5" fill="#fff" stroke="#2b2b2b" stroke-width="1.1"/>
<line x1="1672.0" y1="2188.0" x2="1700.7" y2="2188.0" stroke="#000" stroke-width="2.8" />
<line x1="1672.0" y1="2207.2" x2="1700.7" y2="2207.2" stroke="#000" stroke-width="2.8" stroke-dasharray="10.4,4.5"/>
<text x="1709.9" y="2193.0" font-size="14.2" textLength="112.5" lengthAdjust="spacingAndGlyphs">DeltaDEQ-Fourier</text>
<text x="1709.9" y="2212.0" font-size="14.2" textLength="99.5" lengthAdjust="spacingAndGlyphs">DeltaDEQ-Siren</text>
<!-- p_cnn -->
<polygon points="2327.0,671.7 2438.4,602.1 2438.4,768.2 2327.0,837.8" fill="#fff" fill-opacity="0.72"/>
<polygon points="2375.7,648.5 2382.7,644.1 2382.7,651.3 2375.7,655.7" fill="#ff99c8" fill-opacity="1.0"/>
<polygon points="2375.7,655.7 2382.7,651.3 2382.7,658.6 2375.7,662.9" fill="#ff99c8" fill-opacity="1.0"/>
<polygon points="2382.7,651.3 2389.6,647.0 2389.6,654.2 2382.7,658.6" fill="#ff99c8" fill-opacity="1.0"/>
<polygon points="2382.7,658.6 2389.6,654.2 2389.6,661.4 2382.7,665.8" fill="#ff99c8" fill-opacity="1.0"/>
<polygon points="2368.8,681.7 2375.7,677.4 2375.7,684.6 2368.8,688.9" fill="#ff33a0" fill-opacity="1.0"/>
<polygon points="2368.8,688.9 2375.7,684.6 2375.7,691.8 2368.8,696.1" fill="#ff33a0" fill-opacity="1.0"/>
<polygon points="2368.8,696.1 2375.7,691.8 2375.7,699.0 2368.8,703.4" fill="#ff33a0" fill-opacity="1.0"/>
<polygon points="2368.8,703.4 2375.7,699.0 2375.7,706.2 2368.8,710.6" fill="#ff33a0" fill-opacity="1.0"/>
<polygon points="2368.8,710.6 2375.7,706.2 2375.7,713.5 2368.8,717.8" fill="#ff33a0" fill-opacity="1.0"/>
<polygon points="2368.8,717.8 2375.7,713.5 2375.7,720.7 2368.8,725.0" fill="#ff33a0" fill-opacity="1.0"/>
<polygon points="2368.8,725.0 2375.7,720.7 2375.7,727.9 2368.8,732.2" fill="#ff33a0" fill-opacity="1.0"/>
<polygon points="2368.8,732.2 2375.7,727.9 2375.7,735.1 2368.8,739.5" fill="#ff33a0" fill-opacity="1.0"/>
<polygon points="2368.8,739.5 2375.7,735.1 2375.7,742.3 2368.8,746.7" fill="#ff33a0" fill-opacity="1.0"/>
<polygon points="2368.8,746.7 2375.7,742.3 2375.7,749.6 2368.8,753.9" fill="#ff33a0" fill-opacity="1.0"/>
<polygon points="2368.8,753.9 2375.7,749.5 2375.7,756.8 2368.8,761.1" fill="#ff33a0" fill-opacity="1.0"/>
<polygon points="2368.8,761.1 2375.7,756.8 2375.7,764.0 2368.8,768.3" fill="#ff33a0" fill-opacity="1.0"/>
<polygon points="2368.8,768.3 2375.7,764.0 2375.7,771.2 2368.8,775.6" fill="#ff33a0" fill-opacity="1.0"/>
<polygon points="2368.8,775.6 2375.7,771.2 2375.7,778.4 2368.8,782.8" fill="#ff33a0" fill-opacity="1.0"/>
<polygon points="2368.8,782.8 2375.7,778.4 2375.7,785.6 2368.8,790.0" fill="#ff33a0" fill-opacity="1.0"/>
<polygon points="2368.8,790.0 2375.7,785.6 2375.7,792.9 2368.8,797.2" fill="#ff33a0" fill-opacity="1.0"/>
<polygon points="2361.8,671.6 2368.8,667.3 2368.8,674.5 2361.8,678.8" fill="#ff99c8" fill-opacity="1.0"/>
<polygon points="2361.8,678.8 2368.8,674.5 2368.8,681.7 2361.8,686.1" fill="#ff99c8" fill-opacity="1.0"/>
<polygon points="2361.8,686.1 2368.8,681.7 2368.8,688.9 2361.8,693.3" fill="#ff99c8" fill-opacity="1.0"/>
<polygon points="2361.8,693.3 2368.8,688.9 2368.8,696.1 2361.8,700.5" fill="#ff99c8" fill-opacity="1.0"/>
<polygon points="2361.8,700.5 2368.8,696.1 2368.8,703.4 2361.8,707.7" fill="#960096" fill-opacity="1.0"/>
<polygon points="2361.8,707.7 2368.8,703.4 2368.8,710.6 2361.8,714.9" fill="#960096" fill-opacity="1.0"/>
<polygon points="2361.8,714.9 2368.8,710.6 2368.8,717.8 2361.8,722.2" fill="#960096" fill-opacity="1.0"/>
<polygon points="2361.8,722.2 2368.8,717.8 2368.8,725.0 2361.8,729.4" fill="#960096" fill-opacity="1.0"/>
<polygon points="2361.8,729.4 2368.8,725.0 2368.8,732.2 2361.8,736.6" fill="#960096" fill-opacity="1.0"/>
<polygon points="2361.8,736.6 2368.8,732.2 2368.8,739.5 2361.8,743.8" fill="#960096" fill-opacity="1.0"/>
<polygon points="2361.8,743.8 2368.8,739.5 2368.8,746.7 2361.8,751.0" fill="#960096" fill-opacity="1.0"/>
<polygon points="2361.8,751.0 2368.8,746.7 2368.8,753.9 2361.8,758.3" fill="#960096" fill-opacity="1.0"/>
<polygon points="2361.8,758.2 2368.8,753.9 2368.8,761.1 2361.8,765.5" fill="#ff33a0" fill-opacity="1.0"/>
<polygon points="2361.8,765.5 2368.8,761.1 2368.8,768.3 2361.8,772.7" fill="#ff33a0" fill-opacity="1.0"/>
<polygon points="2361.8,772.7 2368.8,768.3 2368.8,775.6 2361.8,779.9" fill="#ff33a0" fill-opacity="1.0"/>
<polygon points="2361.8,779.9 2368.8,775.6 2368.8,782.8 2361.8,787.1" fill="#ff33a0" fill-opacity="1.0"/>
<polygon points="2354.8,690.4 2361.8,686.1 2361.8,693.3 2354.8,697.6" fill="#ff99c8" fill-opacity="1.0"/>
<polygon points="2354.8,697.6 2361.8,693.3 2361.8,700.5 2354.8,704.8" fill="#ff99c8" fill-opacity="1.0"/>
<polygon points="2354.8,704.8 2361.8,700.5 2361.8,707.7 2354.8,712.1" fill="#960096" fill-opacity="1.0"/>
<polygon points="2354.8,712.1 2361.8,707.7 2361.8,714.9 2354.8,719.3" fill="#960096" fill-opacity="1.0"/>
<polygon points="2354.8,719.3 2361.8,714.9 2361.8,722.2 2354.8,726.5" fill="#960096" fill-opacity="1.0"/>
<polygon points="2354.8,726.5 2361.8,722.2 2361.8,729.4 2354.8,733.7" fill="#960096" fill-opacity="1.0"/>
<polygon points="2354.8,733.7 2361.8,729.4 2361.8,736.6 2354.8,740.9" fill="#960096" fill-opacity="1.0"/>
<polygon points="2354.8,740.9 2361.8,736.6 2361.8,743.8 2354.8,748.2" fill="#960096" fill-opacity="1.0"/>
<polygon points="2354.8,748.2 2361.8,743.8 2361.8,751.0 2354.8,755.4" fill="#ff33a0" fill-opacity="1.0"/>
<polygon points="2354.8,755.4 2361.8,751.0 2361.8,758.3 2354.8,762.6" fill="#ff33a0" fill-opacity="1.0"/>
<polygon points="2354.8,762.6 2361.8,758.2 2361.8,765.5 2354.8,769.8" fill="#ff33a0" fill-opacity="1.0"/>
<polygon points="2347.9,709.2 2354.8,704.8 2354.8,712.1 2347.9,716.4" fill="#ff99c8" fill-opacity="1.0"/>
<polygon points="2347.9,716.4 2354.8,712.1 2354.8,719.3 2347.9,723.6" fill="#960096" fill-opacity="1.0"/>
<polygon points="2347.9,723.6 2354.8,719.3 2354.8,726.5 2347.9,730.9" fill="#960096" fill-opacity="1.0"/>
<polygon points="2347.9,730.9 2354.8,726.5 2354.8,733.7 2347.9,738.1" fill="#960096" fill-opacity="1.0"/>
<polygon points="2347.9,738.1 2354.8,733.7 2354.8,740.9 2347.9,745.3" fill="#960096" fill-opacity="1.0"/>
<path d="M2327.0 671.7V837.8M2334.0 667.4V833.4M2340.9 663.0V829.1M2347.9 658.7V824.7M2354.8 654.3V820.4M2361.8 650.0V816.0M2368.8 645.6V811.7M2375.7 641.2V807.3M2382.7 636.9V803.0M2389.6 632.6V798.6M2396.6 628.2V794.3M2403.6 623.9V789.9M2410.5 619.5V785.6M2417.5 615.2V781.2M2424.4 610.8V776.9M2431.4 606.5V772.5M2438.4 602.1V768.2M2327.0 671.7L2438.4 602.1M2327.0 678.9L2438.4 609.3M2327.0 686.1L2438.4 616.5M2327.0 693.4L2438.4 623.8M2327.0 700.6L2438.4 631.0M2327.0 707.8L2438.4 638.2M2327.0 715.0L2438.4 645.4M2327.0 722.2L2438.4 652.6M2327.0 729.5L2438.4 659.9M2327.0 736.7L2438.4 667.1M2327.0 743.9L2438.4 674.3M2327.0 751.1L2438.4 681.5M2327.0 758.3L2438.4 688.7M2327.0 765.6L2438.4 696.0M2327.0 772.8L2438.4 703.2M2327.0 780.0L2438.4 710.4M2327.0 787.2L2438.4 717.6M2327.0 794.4L2438.4 724.8M2327.0 801.7L2438.4 732.1M2327.0 808.9L2438.4 739.3M2327.0 816.1L2438.4 746.5M2327.0 823.3L2438.4 753.7M2327.0 830.5L2438.4 760.9M2327.0 837.8L2438.4 768.2" fill="none" stroke="#c9c9c9" stroke-width="0.9" />
<polygon points="2374.0,671.7 2485.4,602.1 2485.4,768.2 2374.0,837.8" fill="#fff" fill-opacity="0.72"/>
<polygon points="2422.7,648.5 2429.7,644.1 2429.7,651.3 2422.7,655.7" fill="#ffcf9e" fill-opacity="1.0"/>
<polygon points="2422.7,655.7 2429.7,651.3 2429.7,658.6 2422.7,662.9" fill="#ffcf9e" fill-opacity="1.0"/>
<polygon points="2429.7,644.1 2436.6,639.8 2436.6,647.0 2429.7,651.3" fill="#ffcf9e" fill-opacity="1.0"/>
<polygon points="2429.7,651.3 2436.6,647.0 2436.6,654.2 2429.7,658.6" fill="#ffcf9e" fill-opacity="1.0"/>
<polygon points="2415.8,667.3 2422.7,662.9 2422.7,670.1 2415.8,674.5" fill="#ffc000" fill-opacity="1.0"/>
<polygon points="2415.8,674.5 2422.7,670.1 2422.7,677.4 2415.8,681.7" fill="#ffc000" fill-opacity="1.0"/>
<polygon points="2415.8,681.7 2422.7,677.4 2422.7,684.6 2415.8,688.9" fill="#ffcf9e" fill-opacity="1.0"/>
<polygon points="2415.8,688.9 2422.7,684.6 2422.7,691.8 2415.8,696.1" fill="#ffcf9e" fill-opacity="1.0"/>
<polygon points="2415.8,696.1 2422.7,691.8 2422.7,699.0 2415.8,703.4" fill="#ffcf9e" fill-opacity="1.0"/>
<polygon points="2415.8,703.4 2422.7,699.0 2422.7,706.2 2415.8,710.6" fill="#ffcf9e" fill-opacity="1.0"/>
<polygon points="2415.8,710.6 2422.7,706.2 2422.7,713.5 2415.8,717.8" fill="#ffcf9e" fill-opacity="1.0"/>
<polygon points="2415.8,717.8 2422.7,713.5 2422.7,720.7 2415.8,725.0" fill="#ffcf9e" fill-opacity="1.0"/>
<polygon points="2415.8,725.0 2422.7,720.7 2422.7,727.9 2415.8,732.2" fill="#ffcf9e" fill-opacity="1.0"/>
<polygon points="2415.8,732.2 2422.7,727.9 2422.7,735.1 2415.8,739.5" fill="#ffcf9e" fill-opacity="1.0"/>
<polygon points="2415.8,739.5 2422.7,735.1 2422.7,742.3 2415.8,746.7" fill="#ffcf9e" fill-opacity="1.0"/>
<polygon points="2415.8,746.7 2422.7,742.3 2422.7,749.6 2415.8,753.9" fill="#ffcf9e" fill-opacity="1.0"/>
<polygon points="2415.8,753.9 2422.7,749.5 2422.7,756.8 2415.8,761.1" fill="#ffcf9e" fill-opacity="1.0"/>
<polygon points="2415.8,761.1 2422.7,756.8 2422.7,764.0 2415.8,768.3" fill="#ffcf9e" fill-opacity="1.0"/>
<polygon points="2415.8,768.3 2422.7,764.0 2422.7,771.2 2415.8,775.6" fill="#ffcf9e" fill-opacity="1.0"/>
<polygon points="2415.8,775.6 2422.7,771.2 2422.7,778.4 2415.8,782.8" fill="#ffc000" fill-opacity="1.0"/>
<polygon points="2415.8,782.8 2422.7,778.4 2422.7,785.6 2415.8,790.0" fill="#ffc000" fill-opacity="1.0"/>
<polygon points="2415.8,790.0 2422.7,785.6 2422.7,792.9 2415.8,797.2" fill="#ffc000" fill-opacity="1.0"/>
<polygon points="2408.8,686.1 2415.8,681.7 2415.8,688.9 2408.8,693.3" fill="#ffc000" fill-opacity="1.0"/>
<polygon points="2408.8,693.3 2415.8,688.9 2415.8,696.1 2408.8,700.5" fill="#ffc000" fill-opacity="1.0"/>
<polygon points="2408.8,700.5 2415.8,696.1 2415.8,703.4 2408.8,707.7" fill="#ffc000" fill-opacity="1.0"/>
<polygon points="2408.8,707.7 2415.8,703.4 2415.8,710.6 2408.8,714.9" fill="#ffc000" fill-opacity="1.0"/>
<polygon points="2408.8,714.9 2415.8,710.6 2415.8,717.8 2408.8,722.2" fill="#ffc000" fill-opacity="1.0"/>
<polygon points="2408.8,722.2 2415.8,717.8 2415.8,725.0 2408.8,729.4" fill="#ffc000" fill-opacity="1.0"/>
<polygon points="2408.8,729.4 2415.8,725.0 2415.8,732.2 2408.8,736.6" fill="#ffc000" fill-opacity="1.0"/>
<polygon points="2408.8,736.6 2415.8,732.2 2415.8,739.5 2408.8,743.8" fill="#ffc000" fill-opacity="1.0"/>
<polygon points="2408.8,743.8 2415.8,739.5 2415.8,746.7 2408.8,751.0" fill="#ffc000" fill-opacity="1.0"/>
<polygon points="2408.8,751.0 2415.8,746.7 2415.8,753.9 2408.8,758.3" fill="#ffc000" fill-opacity="1.0"/>
<polygon points="2408.8,758.2 2415.8,753.9 2415.8,761.1 2408.8,765.5" fill="#ffc000" fill-opacity="1.0"/>
<polygon points="2408.8,765.5 2415.8,761.1 2415.8,768.3 2408.8,772.7" fill="#ffc000" fill-opacity="1.0"/>
<polygon points="2408.8,772.7 2415.8,768.3 2415.8,775.6 2408.8,779.9" fill="#ffc000" fill-opacity="1.0"/>
<polygon points="2408.8,779.9 2415.8,775.6 2415.8,782.8 2408.8,787.1" fill="#ffc000" fill-opacity="1.0"/>
<polygon points="2401.8,704.8 2408.8,700.5 2408.8,707.7 2401.8,712.1" fill="#ffc000" fill-opacity="1.0"/>
<polygon points="2401.8,712.1 2408.8,707.7 2408.8,714.9 2401.8,719.3" fill="#ffc000" fill-opacity="1.0"/>
<polygon points="2401.8,719.3 2408.8,714.9 2408.8,722.2 2401.8,726.5" fill="#ffc000" fill-opacity="1.0"/>
<polygon points="2401.8,726.5 2408.8,722.2 2408.8,729.4 2401.8,733.7" fill="#ffc000" fill-opacity="1.0"/>
<polygon points="2401.8,733.7 2408.8,729.4 2408.8,736.6 2401.8,740.9" fill="#ffc000" fill-opacity="1.0"/>
<polygon points="2401.8,740.9 2408.8,736.6 2408.8,743.8 2401.8,748.2" fill="#ffc000" fill-opacity="1.0"/>
<polygon points="2401.8,748.2 2408.8,743.8 2408.8,751.0 2401.8,755.4" fill="#ffc000" fill-opacity="1.0"/>
<polygon points="2401.8,755.4 2408.8,751.0 2408.8,758.3 2401.8,762.6" fill="#ffc000" fill-opacity="1.0"/>
<polygon points="2394.9,723.6 2401.8,719.3 2401.8,726.5 2394.9,730.9" fill="#ffc000" fill-opacity="1.0"/>
<polygon points="2394.9,730.9 2401.8,726.5 2401.8,733.7 2394.9,738.1" fill="#ffc000" fill-opacity="1.0"/>
<polygon points="2394.9,738.1 2401.8,733.7 2401.8,740.9 2394.9,745.3" fill="#ffc000" fill-opacity="1.0"/>
<path d="M2374.0 671.7V837.8M2381.0 667.4V833.4M2387.9 663.0V829.1M2394.9 658.7V824.7M2401.8 654.3V820.4M2408.8 650.0V816.0M2415.8 645.6V811.7M2422.7 641.2V807.3M2429.7 636.9V803.0M2436.6 632.6V798.6M2443.6 628.2V794.3M2450.6 623.9V789.9M2457.5 619.5V785.6M2464.5 615.2V781.2M2471.4 610.8V776.9M2478.4 606.5V772.5M2485.4 602.1V768.2M2374.0 671.7L2485.4 602.1M2374.0 678.9L2485.4 609.3M2374.0 686.1L2485.4 616.5M2374.0 693.4L2485.4 623.8M2374.0 700.6L2485.4 631.0M2374.0 707.8L2485.4 638.2M2374.0 715.0L2485.4 645.4M2374.0 722.2L2485.4 652.6M2374.0 729.5L2485.4 659.9M2374.0 736.7L2485.4 667.1M2374.0 743.9L2485.4 674.3M2374.0 751.1L2485.4 681.5M2374.0 758.3L2485.4 688.7M2374.0 765.6L2485.4 696.0M2374.0 772.8L2485.4 703.2M2374.0 780.0L2485.4 710.4M2374.0 787.2L2485.4 717.6M2374.0 794.4L2485.4 724.8M2374.0 801.7L2485.4 732.1M2374.0 808.9L2485.4 739.3M2374.0 816.1L2485.4 746.5M2374.0 823.3L2485.4 753.7M2374.0 830.5L2485.4 760.9M2374.0 837.8L2485.4 768.2" fill="none" stroke="#c9c9c9" stroke-width="0.9" />
<polygon points="2420.0,671.7 2531.4,602.1 2531.4,768.2 2420.0,837.8" fill="#fff" fill-opacity="0.72"/>
<polygon points="2440.9,709.2 2447.8,704.8 2447.8,712.1 2440.9,716.4" fill="#99cc00" fill-opacity="1.0"/>
<polygon points="2440.9,716.4 2447.8,712.1 2447.8,719.3 2440.9,723.6" fill="#c8f53c" fill-opacity="1.0"/>
<polygon points="2440.9,723.6 2447.8,719.3 2447.8,726.5 2440.9,730.9" fill="#c8f53c" fill-opacity="1.0"/>
<polygon points="2440.9,730.9 2447.8,726.5 2447.8,733.7 2440.9,738.1" fill="#99cc00" fill-opacity="1.0"/>
<polygon points="2447.8,704.8 2454.8,700.5 2454.8,707.7 2447.8,712.1" fill="#99cc00" fill-opacity="1.0"/>
<polygon points="2447.8,712.1 2454.8,707.7 2454.8,714.9 2447.8,719.3" fill="#99cc00" fill-opacity="1.0"/>
<polygon points="2447.8,719.3 2454.8,714.9 2454.8,722.2 2447.8,726.5" fill="#99cc00" fill-opacity="1.0"/>
<polygon points="2447.8,726.5 2454.8,722.2 2454.8,729.4 2447.8,733.7" fill="#99cc00" fill-opacity="1.0"/>
<polygon points="2447.8,733.7 2454.8,729.4 2454.8,736.6 2447.8,740.9" fill="#99cc00" fill-opacity="1.0"/>
<polygon points="2447.8,740.9 2454.8,736.6 2454.8,743.8 2447.8,748.2" fill="#99cc00" fill-opacity="1.0"/>
<polygon points="2447.8,748.2 2454.8,743.8 2454.8,751.0 2447.8,755.4" fill="#99cc00" fill-opacity="1.0"/>
<polygon points="2447.8,755.4 2454.8,751.0 2454.8,758.3 2447.8,762.6" fill="#99cc00" fill-opacity="1.0"/>
<polygon points="2454.8,693.3 2461.8,688.9 2461.8,696.1 2454.8,700.5" fill="#c8f53c" fill-opacity="1.0"/>
<polygon points="2454.8,700.5 2461.8,696.1 2461.8,703.4 2454.8,707.7" fill="#c8f53c" fill-opacity="1.0"/>
<polygon points="2454.8,707.7 2461.8,703.4 2461.8,710.6 2454.8,714.9" fill="#c8f53c" fill-opacity="1.0"/>
<polygon points="2454.8,714.9 2461.8,710.6 2461.8,717.8 2454.8,722.2" fill="#c8f53c" fill-opacity="1.0"/>
<polygon points="2454.8,722.2 2461.8,717.8 2461.8,725.0 2454.8,729.4" fill="#99cc00" fill-opacity="1.0"/>
<polygon points="2454.8,729.4 2461.8,725.0 2461.8,732.2 2454.8,736.6" fill="#99cc00" fill-opacity="1.0"/>
<polygon points="2454.8,736.6 2461.8,732.2 2461.8,739.5 2454.8,743.8" fill="#99cc00" fill-opacity="1.0"/>
<polygon points="2454.8,743.8 2461.8,739.5 2461.8,746.7 2454.8,751.0" fill="#99cc00" fill-opacity="1.0"/>
<polygon points="2454.8,751.0 2461.8,746.7 2461.8,753.9 2454.8,758.3" fill="#99cc00" fill-opacity="1.0"/>
<polygon points="2454.8,758.2 2461.8,753.9 2461.8,761.1 2454.8,765.5" fill="#99cc00" fill-opacity="1.0"/>
<polygon points="2454.8,765.5 2461.8,761.1 2461.8,768.3 2454.8,772.7" fill="#99cc00" fill-opacity="1.0"/>
<polygon points="2454.8,772.7 2461.8,768.3 2461.8,775.6 2454.8,779.9" fill="#99cc00" fill-opacity="1.0"/>
<polygon points="2454.8,779.9 2461.8,775.6 2461.8,782.8 2454.8,787.1" fill="#99cc00" fill-opacity="1.0"/>
<polygon points="2461.8,681.7 2468.7,677.4 2468.7,684.6 2461.8,688.9" fill="#c8f53c" fill-opacity="1.0"/>
<polygon points="2461.8,688.9 2468.7,684.6 2468.7,691.8 2461.8,696.1" fill="#c8f53c" fill-opacity="1.0"/>
<polygon points="2461.8,696.1 2468.7,691.8 2468.7,699.0 2461.8,703.4" fill="#c8f53c" fill-opacity="1.0"/>
<polygon points="2461.8,703.4 2468.7,699.0 2468.7,706.2 2461.8,710.6" fill="#ffff66" fill-opacity="1.0"/>
<polygon points="2461.8,710.6 2468.7,706.2 2468.7,713.5 2461.8,717.8" fill="#99cc00" fill-opacity="1.0"/>
<polygon points="2461.8,717.8 2468.7,713.5 2468.7,720.7 2461.8,725.0" fill="#ffff66" fill-opacity="1.0"/>
<polygon points="2461.8,725.0 2468.7,720.7 2468.7,727.9 2461.8,732.2" fill="#c8f53c" fill-opacity="1.0"/>
<polygon points="2461.8,732.2 2468.7,727.9 2468.7,735.1 2461.8,739.5" fill="#ffff66" fill-opacity="1.0"/>
<polygon points="2461.8,739.5 2468.7,735.1 2468.7,742.3 2461.8,746.7" fill="#c8f53c" fill-opacity="1.0"/>
<polygon points="2461.8,746.7 2468.7,742.3 2468.7,749.6 2461.8,753.9" fill="#99cc00" fill-opacity="1.0"/>
<polygon points="2461.8,753.9 2468.7,749.5 2468.7,756.8 2461.8,761.1" fill="#99cc00" fill-opacity="1.0"/>
<polygon points="2461.8,761.1 2468.7,756.8 2468.7,764.0 2461.8,768.3" fill="#99cc00" fill-opacity="1.0"/>
<polygon points="2461.8,768.3 2468.7,764.0 2468.7,771.2 2461.8,775.6" fill="#99cc00" fill-opacity="1.0"/>
<polygon points="2461.8,775.6 2468.7,771.2 2468.7,778.4 2461.8,782.8" fill="#99cc00" fill-opacity="1.0"/>
<polygon points="2461.8,782.8 2468.7,778.4 2468.7,785.6 2461.8,790.0" fill="#99cc00" fill-opacity="1.0"/>
<polygon points="2461.8,790.0 2468.7,785.6 2468.7,792.9 2461.8,797.2" fill="#99cc00" fill-opacity="1.0"/>
<polygon points="2468.7,655.7 2475.7,651.3 2475.7,658.6 2468.7,662.9" fill="#c8f53c" fill-opacity="1.0"/>
<polygon points="2468.7,662.9 2475.7,658.6 2475.7,665.8 2468.7,670.1" fill="#99cc00" fill-opacity="1.0"/>
<polygon points="2468.7,670.1 2475.7,665.8 2475.7,673.0 2468.7,677.4" fill="#c8f53c" fill-opacity="1.0"/>
<polygon points="2468.7,677.4 2475.7,673.0 2475.7,680.2 2468.7,684.6" fill="#c8f53c" fill-opacity="1.0"/>
<polygon points="2468.7,684.6 2475.7,680.2 2475.7,687.4 2468.7,691.8" fill="#c8f53c" fill-opacity="1.0"/>
<polygon points="2468.7,691.8 2475.7,687.4 2475.7,694.7 2468.7,699.0" fill="#c8f53c" fill-opacity="1.0"/>
<polygon points="2468.7,699.0 2475.7,694.7 2475.7,701.9 2468.7,706.2" fill="#99cc00" fill-opacity="1.0"/>
<polygon points="2468.7,706.2 2475.7,701.9 2475.7,709.1 2468.7,713.5" fill="#ffff66" fill-opacity="1.0"/>
<polygon points="2468.7,713.5 2475.7,709.1 2475.7,716.3 2468.7,720.7" fill="#ffff66" fill-opacity="1.0"/>
<polygon points="2468.7,720.7 2475.7,716.3 2475.7,723.5 2468.7,727.9" fill="#ffff66" fill-opacity="1.0"/>
<polygon points="2468.7,727.9 2475.7,723.5 2475.7,730.8 2468.7,735.1" fill="#ffff66" fill-opacity="1.0"/>
<polygon points="2468.7,735.1 2475.7,730.8 2475.7,738.0 2468.7,742.3" fill="#ffff66" fill-opacity="1.0"/>
<polygon points="2468.7,742.3 2475.7,738.0 2475.7,745.2 2468.7,749.6" fill="#c8f53c" fill-opacity="1.0"/>
<polygon points="2468.7,749.5 2475.7,745.2 2475.7,752.4 2468.7,756.8" fill="#99cc00" fill-opacity="1.0"/>
<polygon points="2468.7,756.8 2475.7,752.4 2475.7,759.6 2468.7,764.0" fill="#99cc00" fill-opacity="1.0"/>
<polygon points="2468.7,764.0 2475.7,759.6 2475.7,766.9 2468.7,771.2" fill="#99cc00" fill-opacity="1.0"/>
<polygon points="2468.7,771.2 2475.7,766.9 2475.7,774.1 2468.7,778.4" fill="#99cc00" fill-opacity="1.0"/>
<polygon points="2468.7,778.4 2475.7,774.1 2475.7,781.3 2468.7,785.7" fill="#99cc00" fill-opacity="1.0"/>
<polygon points="2475.7,644.1 2482.6,639.8 2482.6,647.0 2475.7,651.3" fill="#c8f53c" fill-opacity="1.0"/>
<polygon points="2475.7,651.3 2482.6,647.0 2482.6,654.2 2475.7,658.6" fill="#99cc00" fill-opacity="1.0"/>
<polygon points="2475.7,658.6 2482.6,654.2 2482.6,661.4 2475.7,665.8" fill="#c8f53c" fill-opacity="1.0"/>
<polygon points="2475.7,665.8 2482.6,661.4 2482.6,668.7 2475.7,673.0" fill="#c8f53c" fill-opacity="1.0"/>
<polygon points="2475.7,673.0 2482.6,668.7 2482.6,675.9 2475.7,680.2" fill="#c8f53c" fill-opacity="1.0"/>
<polygon points="2475.7,680.2 2482.6,675.9 2482.6,683.1 2475.7,687.4" fill="#c8f53c" fill-opacity="1.0"/>
<polygon points="2475.7,687.4 2482.6,683.1 2482.6,690.3 2475.7,694.7" fill="#99cc00" fill-opacity="1.0"/>
<polygon points="2475.7,694.7 2482.6,690.3 2482.6,697.5 2475.7,701.9" fill="#ffff66" fill-opacity="1.0"/>
<polygon points="2475.7,701.9 2482.6,697.5 2482.6,704.8 2475.7,709.1" fill="#c8f53c" fill-opacity="1.0"/>
<polygon points="2475.7,709.1 2482.6,704.8 2482.6,712.0 2475.7,716.3" fill="#ffff66" fill-opacity="1.0"/>
<polygon points="2475.7,716.3 2482.6,712.0 2482.6,719.2 2475.7,723.5" fill="#c8f53c" fill-opacity="1.0"/>
<polygon points="2475.7,723.5 2482.6,719.2 2482.6,726.4 2475.7,730.8" fill="#ffff66" fill-opacity="1.0"/>
<polygon points="2475.7,730.8 2482.6,726.4 2482.6,733.6 2475.7,738.0" fill="#c8f53c" fill-opacity="1.0"/>
<polygon points="2475.7,738.0 2482.6,733.6 2482.6,740.9 2475.7,745.2" fill="#c8f53c" fill-opacity="1.0"/>
<polygon points="2475.7,745.2 2482.6,740.9 2482.6,748.1 2475.7,752.4" fill="#c8f53c" fill-opacity="1.0"/>
<polygon points="2475.7,752.4 2482.6,748.1 2482.6,755.3 2475.7,759.6" fill="#c8f53c" fill-opacity="1.0"/>
<polygon points="2475.7,759.6 2482.6,755.3 2482.6,762.5 2475.7,766.9" fill="#99cc00" fill-opacity="1.0"/>
<polygon points="2475.7,766.9 2482.6,762.5 2482.6,769.7 2475.7,774.1" fill="#99cc00" fill-opacity="1.0"/>
<polygon points="2475.7,774.1 2482.6,769.7 2482.6,777.0 2475.7,781.3" fill="#99cc00" fill-opacity="1.0"/>
<polygon points="2482.6,668.7 2489.6,664.3 2489.6,671.5 2482.6,675.9" fill="#c8f53c" fill-opacity="1.0"/>
<polygon points="2482.6,675.9 2489.6,671.5 2489.6,678.7 2482.6,683.1" fill="#ffff66" fill-opacity="1.0"/>
<polygon points="2482.6,683.1 2489.6,678.7 2489.6,686.0 2482.6,690.3" fill="#ffff66" fill-opacity="1.0"/>
<polygon points="2482.6,690.3 2489.6,686.0 2489.6,693.2 2482.6,697.5" fill="#ffff66" fill-opacity="1.0"/>
<polygon points="2482.6,697.5 2489.6,693.2 2489.6,700.4 2482.6,704.8" fill="#ffff66" fill-opacity="1.0"/>
<polygon points="2482.6,704.8 2489.6,700.4 2489.6,707.6 2482.6,712.0" fill="#ffff66" fill-opacity="1.0"/>
<polygon points="2482.6,712.0 2489.6,707.6 2489.6,714.8 2482.6,719.2" fill="#99cc00" fill-opacity="1.0"/>
<polygon points="2482.6,719.2 2489.6,714.8 2489.6,722.1 2482.6,726.4" fill="#c8f53c" fill-opacity="1.0"/>
<polygon points="2482.6,726.4 2489.6,722.1 2489.6,729.3 2482.6,733.6" fill="#c8f53c" fill-opacity="1.0"/>
<polygon points="2482.6,733.6 2489.6,729.3 2489.6,736.5 2482.6,740.9" fill="#c8f53c" fill-opacity="1.0"/>
<polygon points="2482.6,740.9 2489.6,736.5 2489.6,743.7 2482.6,748.1" fill="#c8f53c" fill-opacity="1.0"/>
<polygon points="2482.6,748.1 2489.6,743.7 2489.6,750.9 2482.6,755.3" fill="#99cc00" fill-opacity="1.0"/>
<polygon points="2482.6,755.3 2489.6,750.9 2489.6,758.2 2482.6,762.5" fill="#c8f53c" fill-opacity="1.0"/>
<polygon points="2482.6,762.5 2489.6,758.2 2489.6,765.4 2482.6,769.7" fill="#c8f53c" fill-opacity="1.0"/>
<polygon points="2489.6,664.3 2496.6,660.0 2496.6,667.2 2489.6,671.5" fill="#99cc00" fill-opacity="1.0"/>
<polygon points="2489.6,671.5 2496.6,667.2 2496.6,674.4 2489.6,678.7" fill="#ffff66" fill-opacity="1.0"/>
<polygon points="2489.6,678.7 2496.6,674.4 2496.6,681.6 2489.6,686.0" fill="#ffff66" fill-opacity="1.0"/>
<polygon points="2489.6,686.0 2496.6,681.6 2496.6,688.8 2489.6,693.2" fill="#ffff66" fill-opacity="1.0"/>
<polygon points="2489.6,693.2 2496.6,688.8 2496.6,696.1 2489.6,700.4" fill="#ffff66" fill-opacity="1.0"/>
<polygon points="2489.6,700.4 2496.6,696.1 2496.6,703.3 2489.6,707.6" fill="#ffff66" fill-opacity="1.0"/>
<polygon points="2489.6,707.6 2496.6,703.3 2496.6,710.5 2489.6,714.8" fill="#c8f53c" fill-opacity="1.0"/>
<polygon points="2489.6,714.8 2496.6,710.5 2496.6,717.7 2489.6,722.1" fill="#c8f53c" fill-opacity="1.0"/>
<polygon points="2489.6,722.1 2496.6,717.7 2496.6,724.9 2489.6,729.3" fill="#c8f53c" fill-opacity="1.0"/>
<polygon points="2489.6,729.3 2496.6,724.9 2496.6,732.2 2489.6,736.5" fill="#c8f53c" fill-opacity="1.0"/>
<polygon points="2489.6,736.5 2496.6,732.1 2496.6,739.4 2489.6,743.7" fill="#99cc00" fill-opacity="1.0"/>
<polygon points="2489.6,743.7 2496.6,739.4 2496.6,746.6 2489.6,750.9" fill="#c8f53c" fill-opacity="1.0"/>
<polygon points="2489.6,750.9 2496.6,746.6 2496.6,753.8 2489.6,758.2" fill="#c8f53c" fill-opacity="1.0"/>
<polygon points="2496.6,674.4 2503.5,670.0 2503.5,677.3 2496.6,681.6" fill="#ffff66" fill-opacity="1.0"/>
<polygon points="2496.6,681.6 2503.5,677.3 2503.5,684.5 2496.6,688.8" fill="#ffff66" fill-opacity="1.0"/>
<polygon points="2496.6,688.8 2503.5,684.5 2503.5,691.7 2496.6,696.1" fill="#ffff66" fill-opacity="1.0"/>
<polygon points="2496.6,696.1 2503.5,691.7 2503.5,698.9 2496.6,703.3" fill="#ffff66" fill-opacity="1.0"/>
<polygon points="2496.6,703.3 2503.5,698.9 2503.5,706.1 2496.6,710.5" fill="#c8f53c" fill-opacity="1.0"/>
<polygon points="2496.6,710.5 2503.5,706.1 2503.5,713.4 2496.6,717.7" fill="#c8f53c" fill-opacity="1.0"/>
<polygon points="2496.6,717.7 2503.5,713.4 2503.5,720.6 2496.6,724.9" fill="#c8f53c" fill-opacity="1.0"/>
<polygon points="2496.6,724.9 2503.5,720.6 2503.5,727.8 2496.6,732.2" fill="#99cc00" fill-opacity="1.0"/>
<polygon points="2496.6,732.1 2503.5,727.8 2503.5,735.0 2496.6,739.4" fill="#c8f53c" fill-opacity="1.0"/>
<polygon points="2496.6,739.4 2503.5,735.0 2503.5,742.2 2496.6,746.6" fill="#c8f53c" fill-opacity="1.0"/>
<polygon points="2503.5,677.3 2510.5,672.9 2510.5,680.1 2503.5,684.5" fill="#ffff66" fill-opacity="1.0"/>
<polygon points="2503.5,684.5 2510.5,680.1 2510.5,687.4 2503.5,691.7" fill="#ffff66" fill-opacity="1.0"/>
<polygon points="2503.5,691.7 2510.5,687.4 2510.5,694.6 2503.5,698.9" fill="#ffff66" fill-opacity="1.0"/>
<polygon points="2503.5,698.9 2510.5,694.6 2510.5,701.8 2503.5,706.1" fill="#c8f53c" fill-opacity="1.0"/>
<path d="M2420.0 671.7V837.8M2427.0 667.4V833.4M2433.9 663.0V829.1M2440.9 658.7V824.7M2447.8 654.3V820.4M2454.8 650.0V816.0M2461.8 645.6V811.7M2468.7 641.2V807.3M2475.7 636.9V803.0M2482.6 632.6V798.6M2489.6 628.2V794.3M2496.6 623.9V789.9M2503.5 619.5V785.6M2510.5 615.2V781.2M2517.4 610.8V776.9M2524.4 606.5V772.5M2531.4 602.1V768.2M2420.0 671.7L2531.4 602.1M2420.0 678.9L2531.4 609.3M2420.0 686.1L2531.4 616.5M2420.0 693.4L2531.4 623.8M2420.0 700.6L2531.4 631.0M2420.0 707.8L2531.4 638.2M2420.0 715.0L2531.4 645.4M2420.0 722.2L2531.4 652.6M2420.0 729.5L2531.4 659.9M2420.0 736.7L2531.4 667.1M2420.0 743.9L2531.4 674.3M2420.0 751.1L2531.4 681.5M2420.0 758.3L2531.4 688.7M2420.0 765.6L2531.4 696.0M2420.0 772.8L2531.4 703.2M2420.0 780.0L2531.4 710.4M2420.0 787.2L2531.4 717.6M2420.0 794.4L2531.4 724.8M2420.0 801.7L2531.4 732.1M2420.0 808.9L2531.4 739.3M2420.0 816.1L2531.4 746.5M2420.0 823.3L2531.4 753.7M2420.0 830.5L2531.4 760.9M2420.0 837.8L2531.4 768.2" fill="none" stroke="#c9c9c9" stroke-width="0.9" />
<polygon points="2731.3,671.7 2842.7,602.1 2842.7,768.2 2731.3,837.8" fill="#fff" fill-opacity="0.72"/>
<polygon points="2759.1,690.4 2766.1,686.1 2766.1,693.3 2759.1,697.6" fill="#ff99c8" fill-opacity="0.95"/>
<polygon points="2759.1,697.6 2766.1,693.3 2766.1,700.5 2759.1,704.8" fill="#ff99c8" fill-opacity="0.95"/>
<polygon points="2759.1,704.8 2766.1,700.5 2766.1,707.7 2759.1,712.1" fill="#ff99c8" fill-opacity="0.95"/>
<polygon points="2759.1,712.1 2766.1,707.7 2766.1,714.9 2759.1,719.3" fill="#ff99c8" fill-opacity="0.95"/>
<polygon points="2759.1,719.3 2766.1,714.9 2766.1,722.2 2759.1,726.5" fill="#ff99c8" fill-opacity="0.95"/>
<polygon points="2759.1,726.5 2766.1,722.2 2766.1,729.4 2759.1,733.7" fill="#ff99c8" fill-opacity="0.95"/>
<polygon points="2759.1,733.7 2766.1,729.4 2766.1,736.6 2759.1,740.9" fill="#ff99c8" fill-opacity="0.95"/>
<polygon points="2759.1,740.9 2766.1,736.6 2766.1,743.8 2759.1,748.2" fill="#ff99c8" fill-opacity="0.95"/>
<polygon points="2759.1,748.2 2766.1,743.8 2766.1,751.0 2759.1,755.4" fill="#ff99c8" fill-opacity="0.95"/>
<polygon points="2766.1,700.5 2773.1,696.1 2773.1,703.4 2766.1,707.7" fill="#ff99c8" fill-opacity="0.95"/>
<polygon points="2766.1,707.7 2773.1,703.4 2773.1,710.6 2766.1,714.9" fill="#ff99c8" fill-opacity="0.95"/>
<polygon points="2766.1,736.6 2773.1,732.2 2773.1,739.5 2766.1,743.8" fill="#ff99c8" fill-opacity="0.95"/>
<polygon points="2766.1,743.8 2773.1,739.5 2773.1,746.7 2766.1,751.0" fill="#ff99c8" fill-opacity="0.95"/>
<polygon points="2766.1,751.0 2773.1,746.7 2773.1,753.9 2766.1,758.3" fill="#ff99c8" fill-opacity="0.95"/>
<polygon points="2766.1,758.2 2773.1,753.9 2773.1,761.1 2766.1,765.5" fill="#ff99c8" fill-opacity="0.95"/>
<polygon points="2773.1,681.7 2780.0,677.4 2780.0,684.6 2773.1,688.9" fill="#ff99c8" fill-opacity="0.95"/>
<polygon points="2773.1,688.9 2780.0,684.6 2780.0,691.8 2773.1,696.1" fill="#ff99c8" fill-opacity="0.95"/>
<polygon points="2773.1,696.1 2780.0,691.8 2780.0,699.0 2773.1,703.4" fill="#ff99c8" fill-opacity="0.95"/>
<polygon points="2773.1,746.7 2780.0,742.3 2780.0,749.6 2773.1,753.9" fill="#ff99c8" fill-opacity="0.95"/>
<polygon points="2773.1,753.9 2780.0,749.5 2780.0,756.8 2773.1,761.1" fill="#ff99c8" fill-opacity="0.95"/>
<path d="M2731.3 671.7V837.8M2738.3 667.4V833.4M2745.2 663.0V829.1M2752.2 658.7V824.7M2759.1 654.3V820.4M2766.1 650.0V816.0M2773.1 645.6V811.7M2780.0 641.2V807.3M2787.0 636.9V803.0M2793.9 632.6V798.6M2800.9 628.2V794.3M2807.9 623.9V789.9M2814.8 619.5V785.6M2821.8 615.2V781.2M2828.7 610.8V776.9M2835.7 606.5V772.5M2842.7 602.1V768.2M2731.3 671.7L2842.7 602.1M2731.3 678.9L2842.7 609.3M2731.3 686.1L2842.7 616.5M2731.3 693.4L2842.7 623.8M2731.3 700.6L2842.7 631.0M2731.3 707.8L2842.7 638.2M2731.3 715.0L2842.7 645.4M2731.3 722.2L2842.7 652.6M2731.3 729.5L2842.7 659.9M2731.3 736.7L2842.7 667.1M2731.3 743.9L2842.7 674.3M2731.3 751.1L2842.7 681.5M2731.3 758.3L2842.7 688.7M2731.3 765.6L2842.7 696.0M2731.3 772.8L2842.7 703.2M2731.3 780.0L2842.7 710.4M2731.3 787.2L2842.7 717.6M2731.3 794.4L2842.7 724.8M2731.3 801.7L2842.7 732.1M2731.3 808.9L2842.7 739.3M2731.3 816.1L2842.7 746.5M2731.3 823.3L2842.7 753.7M2731.3 830.5L2842.7 760.9M2731.3 837.8L2842.7 768.2" fill="none" stroke="#c9c9c9" stroke-width="0.9" />
<polygon points="2780.5,671.7 2891.9,602.1 2891.9,768.2 2780.5,837.8" fill="#fff" fill-opacity="0.72"/>
<polygon points="2808.3,719.3 2815.3,714.9 2815.3,722.2 2808.3,726.5" fill="#ffdcb0" fill-opacity="0.95"/>
<polygon points="2808.3,726.5 2815.3,722.2 2815.3,729.4 2808.3,733.7" fill="#ffdcb0" fill-opacity="0.95"/>
<polygon points="2808.3,733.7 2815.3,729.4 2815.3,736.6 2808.3,740.9" fill="#ffdcb0" fill-opacity="0.95"/>
<polygon points="2808.3,740.9 2815.3,736.6 2815.3,743.8 2808.3,748.2" fill="#ffdcb0" fill-opacity="0.95"/>
<polygon points="2808.3,748.2 2815.3,743.8 2815.3,751.0 2808.3,755.4" fill="#ffdcb0" fill-opacity="0.95"/>
<polygon points="2808.3,755.4 2815.3,751.0 2815.3,758.3 2808.3,762.6" fill="#ffdcb0" fill-opacity="0.95"/>
<polygon points="2808.3,762.6 2815.3,758.2 2815.3,765.5 2808.3,769.8" fill="#ffdcb0" fill-opacity="0.95"/>
<polygon points="2815.3,700.5 2822.3,696.1 2822.3,703.4 2815.3,707.7" fill="#ffdcb0" fill-opacity="0.95"/>
<polygon points="2815.3,707.7 2822.3,703.4 2822.3,710.6 2815.3,714.9" fill="#ffdcb0" fill-opacity="0.95"/>
<polygon points="2815.3,736.6 2822.3,732.2 2822.3,739.5 2815.3,743.8" fill="#ffdcb0" fill-opacity="0.95"/>
<polygon points="2815.3,743.8 2822.3,739.5 2822.3,746.7 2815.3,751.0" fill="#ffdcb0" fill-opacity="0.95"/>
<polygon points="2815.3,751.0 2822.3,746.7 2822.3,753.9 2815.3,758.3" fill="#ffdcb0" fill-opacity="0.95"/>
<polygon points="2815.3,758.2 2822.3,753.9 2822.3,761.1 2815.3,765.5" fill="#ffdcb0" fill-opacity="0.95"/>
<polygon points="2815.3,765.5 2822.3,761.1 2822.3,768.3 2815.3,772.7" fill="#ffdcb0" fill-opacity="0.95"/>
<polygon points="2815.3,772.7 2822.3,768.3 2822.3,775.6 2815.3,779.9" fill="#ffdcb0" fill-opacity="0.95"/>
<polygon points="2822.3,681.7 2829.2,677.4 2829.2,684.6 2822.3,688.9" fill="#ffdcb0" fill-opacity="0.95"/>
<polygon points="2822.3,688.9 2829.2,684.6 2829.2,691.8 2822.3,696.1" fill="#ffdcb0" fill-opacity="0.95"/>
<polygon points="2822.3,696.1 2829.2,691.8 2829.2,699.0 2822.3,703.4" fill="#ffdcb0" fill-opacity="0.95"/>
<polygon points="2822.3,703.4 2829.2,699.0 2829.2,706.2 2822.3,710.6" fill="#ffdcb0" fill-opacity="0.95"/>
<polygon points="2822.3,753.9 2829.2,749.5 2829.2,756.8 2822.3,761.1" fill="#ffdcb0" fill-opacity="0.95"/>
<polygon points="2822.3,761.1 2829.2,756.8 2829.2,764.0 2822.3,768.3" fill="#ffdcb0" fill-opacity="0.95"/>
<polygon points="2822.3,768.3 2829.2,764.0 2829.2,771.2 2822.3,775.6" fill="#ffdcb0" fill-opacity="0.95"/>
<path d="M2780.5 671.7V837.8M2787.5 667.4V833.4M2794.4 663.0V829.1M2801.4 658.7V824.7M2808.3 654.3V820.4M2815.3 650.0V816.0M2822.3 645.6V811.7M2829.2 641.2V807.3M2836.2 636.9V803.0M2843.1 632.6V798.6M2850.1 628.2V794.3M2857.1 623.9V789.9M2864.0 619.5V785.6M2871.0 615.2V781.2M2877.9 610.8V776.9M2884.9 606.5V772.5M2891.9 602.1V768.2M2780.5 671.7L2891.9 602.1M2780.5 678.9L2891.9 609.3M2780.5 686.1L2891.9 616.5M2780.5 693.4L2891.9 623.8M2780.5 700.6L2891.9 631.0M2780.5 707.8L2891.9 638.2M2780.5 715.0L2891.9 645.4M2780.5 722.2L2891.9 652.6M2780.5 729.5L2891.9 659.9M2780.5 736.7L2891.9 667.1M2780.5 743.9L2891.9 674.3M2780.5 751.1L2891.9 681.5M2780.5 758.3L2891.9 688.7M2780.5 765.6L2891.9 696.0M2780.5 772.8L2891.9 703.2M2780.5 780.0L2891.9 710.4M2780.5 787.2L2891.9 717.6M2780.5 794.4L2891.9 724.8M2780.5 801.7L2891.9 732.1M2780.5 808.9L2891.9 739.3M2780.5 816.1L2891.9 746.5M2780.5 823.3L2891.9 753.7M2780.5 830.5L2891.9 760.9M2780.5 837.8L2891.9 768.2" fill="none" stroke="#c9c9c9" stroke-width="0.9" />
<polygon points="2826.0,671.7 2937.4,602.1 2937.4,768.2 2826.0,837.8" fill="#fff" fill-opacity="0.72"/>
<polygon points="2853.8,719.3 2860.8,714.9 2860.8,722.2 2853.8,726.5" fill="#ffff55" fill-opacity="0.95"/>
<polygon points="2853.8,726.5 2860.8,722.2 2860.8,729.4 2853.8,733.7" fill="#ffff55" fill-opacity="0.95"/>
<polygon points="2853.8,733.7 2860.8,729.4 2860.8,736.6 2853.8,740.9" fill="#ccf72e" fill-opacity="0.95"/>
<polygon points="2853.8,740.9 2860.8,736.6 2860.8,743.8 2853.8,748.2" fill="#ccf72e" fill-opacity="0.95"/>
<polygon points="2853.8,748.2 2860.8,743.8 2860.8,751.0 2853.8,755.4" fill="#ffff55" fill-opacity="0.95"/>
<polygon points="2860.8,686.1 2867.8,681.7 2867.8,688.9 2860.8,693.3" fill="#ccf72e" fill-opacity="0.95"/>
<polygon points="2860.8,693.3 2867.8,688.9 2867.8,696.1 2860.8,700.5" fill="#ccf72e" fill-opacity="0.95"/>
<polygon points="2860.8,700.5 2867.8,696.1 2867.8,703.4 2860.8,707.7" fill="#ccf72e" fill-opacity="0.95"/>
<polygon points="2860.8,707.7 2867.8,703.4 2867.8,710.6 2860.8,714.9" fill="#ccf72e" fill-opacity="0.95"/>
<polygon points="2860.8,714.9 2867.8,710.6 2867.8,717.8 2860.8,722.2" fill="#ffff55" fill-opacity="0.95"/>
<polygon points="2860.8,722.2 2867.8,717.8 2867.8,725.0 2860.8,729.4" fill="#ffff55" fill-opacity="0.95"/>
<polygon points="2860.8,729.4 2867.8,725.0 2867.8,732.2 2860.8,736.6" fill="#ffff55" fill-opacity="0.95"/>
<polygon points="2860.8,736.6 2867.8,732.2 2867.8,739.5 2860.8,743.8" fill="#ffff55" fill-opacity="0.95"/>
<polygon points="2860.8,751.0 2867.8,746.7 2867.8,753.9 2860.8,758.3" fill="#ccf72e" fill-opacity="0.95"/>
<polygon points="2860.8,758.2 2867.8,753.9 2867.8,761.1 2860.8,765.5" fill="#ccf72e" fill-opacity="0.95"/>
<polygon points="2860.8,765.5 2867.8,761.1 2867.8,768.3 2860.8,772.7" fill="#ffff55" fill-opacity="0.95"/>
<polygon points="2860.8,772.7 2867.8,768.3 2867.8,775.6 2860.8,779.9" fill="#ffff55" fill-opacity="0.95"/>
<polygon points="2867.8,681.7 2874.7,677.4 2874.7,684.6 2867.8,688.9" fill="#ffff55" fill-opacity="0.95"/>
<polygon points="2867.8,688.9 2874.7,684.6 2874.7,691.8 2867.8,696.1" fill="#ffff55" fill-opacity="0.95"/>
<polygon points="2874.7,677.4 2881.7,673.0 2881.7,680.2 2874.7,684.6" fill="#ffff55" fill-opacity="0.95"/>
<polygon points="2874.7,684.6 2881.7,680.2 2881.7,687.4 2874.7,691.8" fill="#ffff55" fill-opacity="0.95"/>
<polygon points="2881.7,673.0 2888.6,668.7 2888.6,675.9 2881.7,680.2" fill="#ffff55" fill-opacity="0.95"/>
<polygon points="2881.7,680.2 2888.6,675.9 2888.6,683.1 2881.7,687.4" fill="#ffff55" fill-opacity="0.95"/>
<polygon points="2881.7,687.4 2888.6,683.1 2888.6,690.3 2881.7,694.7" fill="#ffff55" fill-opacity="0.95"/>
<polygon points="2881.7,694.7 2888.6,690.3 2888.6,697.5 2881.7,701.9" fill="#ffff55" fill-opacity="0.95"/>
<polygon points="2881.7,738.0 2888.6,733.6 2888.6,740.9 2881.7,745.2" fill="#ffff55" fill-opacity="0.95"/>
<polygon points="2881.7,745.2 2888.6,740.9 2888.6,748.1 2881.7,752.4" fill="#ffff55" fill-opacity="0.95"/>
<polygon points="2881.7,752.4 2888.6,748.1 2888.6,755.3 2881.7,759.6" fill="#ffff55" fill-opacity="0.95"/>
<polygon points="2881.7,759.6 2888.6,755.3 2888.6,762.5 2881.7,766.9" fill="#ffff55" fill-opacity="0.95"/>
<polygon points="2881.7,766.9 2888.6,762.5 2888.6,769.7 2881.7,774.1" fill="#ffff55" fill-opacity="0.95"/>
<polygon points="2881.7,774.1 2888.6,769.7 2888.6,777.0 2881.7,781.3" fill="#ffff55" fill-opacity="0.95"/>
<polygon points="2888.6,683.1 2895.6,678.7 2895.6,686.0 2888.6,690.3" fill="#ffff55" fill-opacity="0.95"/>
<polygon points="2888.6,690.3 2895.6,686.0 2895.6,693.2 2888.6,697.5" fill="#ffff55" fill-opacity="0.95"/>
<polygon points="2888.6,697.5 2895.6,693.2 2895.6,700.4 2888.6,704.8" fill="#ccf72e" fill-opacity="0.95"/>
<polygon points="2888.6,704.8 2895.6,700.4 2895.6,707.6 2888.6,712.0" fill="#ccf72e" fill-opacity="0.95"/>
<polygon points="2888.6,712.0 2895.6,707.6 2895.6,714.8 2888.6,719.2" fill="#ccf72e" fill-opacity="0.95"/>
<polygon points="2888.6,719.2 2895.6,714.8 2895.6,722.1 2888.6,726.4" fill="#ccf72e" fill-opacity="0.95"/>
<polygon points="2888.6,726.4 2895.6,722.1 2895.6,729.3 2888.6,733.6" fill="#ccf72e" fill-opacity="0.95"/>
<polygon points="2888.6,733.6 2895.6,729.3 2895.6,736.5 2888.6,740.9" fill="#ffff55" fill-opacity="0.95"/>
<polygon points="2895.6,678.7 2902.6,674.4 2902.6,681.6 2895.6,686.0" fill="#ffff55" fill-opacity="0.95"/>
<polygon points="2895.6,686.0 2902.6,681.6 2902.6,688.8 2895.6,693.2" fill="#ffff55" fill-opacity="0.95"/>
<polygon points="2895.6,693.2 2902.6,688.8 2902.6,696.1 2895.6,700.4" fill="#ffff55" fill-opacity="0.95"/>
<polygon points="2895.6,700.4 2902.6,696.1 2902.6,703.3 2895.6,707.6" fill="#ffff55" fill-opacity="0.95"/>
<polygon points="2895.6,707.6 2902.6,703.3 2902.6,710.5 2895.6,714.8" fill="#ffff55" fill-opacity="0.95"/>
<polygon points="2895.6,714.8 2902.6,710.5 2902.6,717.7 2895.6,722.1" fill="#ffff55" fill-opacity="0.95"/>
<polygon points="2895.6,722.1 2902.6,717.7 2902.6,724.9 2895.6,729.3" fill="#ffff55" fill-opacity="0.95"/>
<polygon points="2895.6,729.3 2902.6,724.9 2902.6,732.2 2895.6,736.5" fill="#ffff55" fill-opacity="0.95"/>
<polygon points="2895.6,736.5 2902.6,732.1 2902.6,739.4 2895.6,743.7" fill="#ffff55" fill-opacity="0.95"/>
<polygon points="2895.6,743.7 2902.6,739.4 2902.6,746.6 2895.6,750.9" fill="#ffff55" fill-opacity="0.95"/>
<polygon points="2895.6,750.9 2902.6,746.6 2902.6,753.8 2895.6,758.2" fill="#ffff55" fill-opacity="0.95"/>
<polygon points="2902.6,696.1 2909.5,691.7 2909.5,698.9 2902.6,703.3" fill="#ffff55" fill-opacity="0.95"/>
<polygon points="2902.6,703.3 2909.5,698.9 2909.5,706.1 2902.6,710.5" fill="#ffff55" fill-opacity="0.95"/>
<polygon points="2902.6,710.5 2909.5,706.1 2909.5,713.4 2902.6,717.7" fill="#ffff55" fill-opacity="0.95"/>
<polygon points="2902.6,717.7 2909.5,713.4 2909.5,720.6 2902.6,724.9" fill="#ffff55" fill-opacity="0.95"/>
<polygon points="2909.5,691.7 2916.5,687.4 2916.5,694.6 2909.5,698.9" fill="#ccf72e" fill-opacity="0.95"/>
<polygon points="2909.5,698.9 2916.5,694.6 2916.5,701.8 2909.5,706.1" fill="#ccf72e" fill-opacity="0.95"/>
<polygon points="2909.5,706.1 2916.5,701.8 2916.5,709.0 2909.5,713.4" fill="#ccf72e" fill-opacity="0.95"/>
<polygon points="2909.5,713.4 2916.5,709.0 2916.5,716.2 2909.5,720.6" fill="#ccf72e" fill-opacity="0.95"/>
<path d="M2826.0 671.7V837.8M2833.0 667.4V833.4M2839.9 663.0V829.1M2846.9 658.7V824.7M2853.8 654.3V820.4M2860.8 650.0V816.0M2867.8 645.6V811.7M2874.7 641.2V807.3M2881.7 636.9V803.0M2888.6 632.6V798.6M2895.6 628.2V794.3M2902.6 623.9V789.9M2909.5 619.5V785.6M2916.5 615.2V781.2M2923.4 610.8V776.9M2930.4 606.5V772.5M2937.4 602.1V768.2M2826.0 671.7L2937.4 602.1M2826.0 678.9L2937.4 609.3M2826.0 686.1L2937.4 616.5M2826.0 693.4L2937.4 623.8M2826.0 700.6L2937.4 631.0M2826.0 707.8L2937.4 638.2M2826.0 715.0L2937.4 645.4M2826.0 722.2L2937.4 652.6M2826.0 729.5L2937.4 659.9M2826.0 736.7L2937.4 667.1M2826.0 743.9L2937.4 674.3M2826.0 751.1L2937.4 681.5M2826.0 758.3L2937.4 688.7M2826.0 765.6L2937.4 696.0M2826.0 772.8L2937.4 703.2M2826.0 780.0L2937.4 710.4M2826.0 787.2L2937.4 717.6M2826.0 794.4L2937.4 724.8M2826.0 801.7L2937.4 732.1M2826.0 808.9L2937.4 739.3M2826.0 816.1L2937.4 746.5M2826.0 823.3L2937.4 753.7M2826.0 830.5L2937.4 760.9M2826.0 837.8L2937.4 768.2" fill="none" stroke="#c9c9c9" stroke-width="0.9" />
<line x1="2626.4" y1="456.5" x2="2626.4" y2="571.5" stroke="#7f7f7f" stroke-width="2.3" stroke-dasharray="7.5,3"/>
<line x1="2626.4" y1="660.0" x2="2626.4" y2="1105.5" stroke="#7f7f7f" stroke-width="2.3" stroke-dasharray="7.5,3"/>
<text x="2259.3" y="480.2" font-size="22.0" textLength="37.0" lengthAdjust="spacingAndGlyphs">Iter</text>
<text x="2301.5" y="480.2" font-size="22.0" font-weight="bold">i</text>
<text x="2313.0" y="480.2" font-size="22.0" textLength="258.0" lengthAdjust="spacingAndGlyphs">: output of previous layer</text>
<text x="2577.0" y="480.2" font-size="24.0" font-family="Liberation Serif" font-style="italic">I</text>
<text x="2585.2" y="487.4" font-size="17.3" font-family="Liberation Serif" font-style="italic">t</text>
<text x="2586.9" y="469.4" font-size="17.3" font-family="Liberation Serif" font-style="italic">i</text>
<text x="2647.6" y="480.8" font-size="22.0" textLength="37.0" lengthAdjust="spacingAndGlyphs">Iter</text>
<text x="2690.0" y="480.8" font-size="22.0" font-weight="bold" textLength="33.0" lengthAdjust="spacingAndGlyphs">i+1</text>
<text x="2730.0" y="480.8" font-size="22.0" textLength="258.0" lengthAdjust="spacingAndGlyphs">: output of previous layer</text>
<text x="2995.0" y="480.8" font-size="24.0" font-family="Liberation Serif" font-style="italic">I</text>
<text x="3003.2" y="488.0" font-size="17.3" font-family="Liberation Serif" font-style="italic">t</text>
<text x="3004.9" y="470.0" font-size="17.3" font-family="Liberation Serif" font-style="italic">i</text><text x="3010.8" y="470.0" font-size="17.3" font-family="Liberation Serif">+1</text>
<text x="2270.0" y="512.3" font-size="30.0" font-family="Liberation Serif" font-style="italic">I</text>
<text x="2280.3" y="521.3" font-size="21.6" font-family="Liberation Serif" font-style="italic">t</text>
<text x="2282.4" y="498.8" font-size="21.6" font-family="Liberation Serif" font-style="italic">i</text><text x="2289.7" y="498.8" font-size="21.6" font-family="Liberation Serif">−1</text>
<text x="2437.0" y="510.2" font-size="30.0" font-family="Liberation Serif" font-style="italic">I</text>
<text x="2447.3" y="519.2" font-size="21.6" font-family="Liberation Serif" font-style="italic">t</text>
<text x="2449.4" y="496.7" font-size="21.6" font-family="Liberation Serif" font-style="italic">i</text>
<text x="2692.7" y="513.3" font-size="30.0" font-family="Liberation Serif" font-style="italic">I</text>
<text x="2703.0" y="522.3" font-size="21.6" font-family="Liberation Serif" font-style="italic">t</text>
<text x="2705.1" y="499.8" font-size="21.6" font-family="Liberation Serif" font-style="italic">i</text>
<text x="2854.3" y="513.3" font-size="30.0" font-family="Liberation Serif" font-style="italic">I</text>
<text x="2864.6" y="522.3" font-size="21.6" font-family="Liberation Serif" font-style="italic">t</text>
<text x="2866.7" y="499.8" font-size="21.6" font-family="Liberation Serif" font-style="italic">i</text><text x="2874.0" y="499.8" font-size="21.6" font-family="Liberation Serif">+1</text>
<line x1="2293.0" y1="530.5" x2="2443.7" y2="556.5" stroke="#000" stroke-width="2" /><polygon points="2451.6,557.9 2441.0,560.3 2442.5,552.1" fill="#000"/>
<line x1="2446.3" y1="528.4" x2="2450.1" y2="548.6" stroke="#000" stroke-width="2" /><polygon points="2451.6,556.5 2445.6,547.5 2453.9,545.9" fill="#000"/>
<line x1="2710.6" y1="528.5" x2="2871.9" y2="554.3" stroke="#000" stroke-width="2" /><polygon points="2879.8,555.6 2869.3,558.2 2870.6,549.9" fill="#000"/>
<line x1="2878.2" y1="531.2" x2="2879.3" y2="547.6" stroke="#000" stroke-width="2" /><polygon points="2879.8,555.6 2875.0,545.9 2883.3,545.3" fill="#000"/>
<text x="2260.9" y="590.0" font-size="25.0" textLength="31.0" lengthAdjust="spacingAndGlyphs">(a)</text>
<text x="2380.6" y="590.0" font-size="22.0" font-family="Liberation Serif" fill="#3fa9e0">Δ</text>
<text x="2394.7" y="590.0" font-size="22.0" font-family="Liberation Serif" font-style="italic" fill="#3fa9e0">I</text>
<text x="2402.3" y="596.6" font-size="15.8" font-family="Liberation Serif" font-style="italic" fill="#3fa9e0">t</text>
<text x="2403.8" y="580.1" font-size="15.8" font-family="Liberation Serif" font-style="italic" fill="#3fa9e0">i</text>
<text x="2417.0" y="590.0" font-size="22.0" font-family="Liberation Serif">≈</text>
<text x="2440.0" y="590.0" font-size="22.0" font-family="Liberation Serif" font-style="italic">I</text>
<text x="2447.5" y="596.6" font-size="15.8" font-family="Liberation Serif" font-style="italic">t</text>
<text x="2449.1" y="580.1" font-size="15.8" font-family="Liberation Serif" font-style="italic">i</text>
<text x="2464.0" y="590.0" font-size="22.0" >-</text>
<text x="2477.0" y="590.0" font-size="22.0" font-family="Liberation Serif" font-style="italic">I</text>
<text x="2484.5" y="596.6" font-size="15.8" font-family="Liberation Serif" font-style="italic">t</text>
<text x="2486.1" y="580.1" font-size="15.8" font-family="Liberation Serif" font-style="italic">i</text><text x="2491.4" y="580.1" font-size="15.8" font-family="Liberation Serif">−1</text>
<text x="2797.4" y="589.3" font-size="22.0" font-family="Liberation Serif" fill="#3fa9e0">Δ</text>
<text x="2811.5" y="589.3" font-size="22.0" font-family="Liberation Serif" font-style="italic" fill="#3fa9e0">I</text>
<text x="2819.1" y="595.9" font-size="15.8" font-family="Liberation Serif" font-style="italic" fill="#3fa9e0">t</text>
<text x="2820.6" y="579.4" font-size="15.8" font-family="Liberation Serif" font-style="italic" fill="#3fa9e0">i</text><text x="2826.0" y="579.4" font-size="15.8" font-family="Liberation Serif" fill="#3fa9e0">+1</text>
<text x="2855.0" y="589.3" font-size="22.0" font-family="Liberation Serif">≈</text>
<text x="2877.0" y="589.3" font-size="22.0" font-family="Liberation Serif" font-style="italic">I</text>
<text x="2884.5" y="595.9" font-size="15.8" font-family="Liberation Serif" font-style="italic">t</text>
<text x="2886.1" y="579.4" font-size="15.8" font-family="Liberation Serif" font-style="italic">i</text><text x="2891.4" y="579.4" font-size="15.8" font-family="Liberation Serif">+1</text>
<text x="2919.0" y="589.3" font-size="22.0" >-</text>
<text x="2931.0" y="589.3" font-size="22.0" font-family="Liberation Serif" font-style="italic">I</text>
<text x="2938.5" y="595.9" font-size="15.8" font-family="Liberation Serif" font-style="italic">t</text>
<text x="2940.1" y="579.4" font-size="15.8" font-family="Liberation Serif" font-style="italic">i</text>
<text x="2544.0" y="606.6" font-size="16.5" font-family="Liberation Serif" fill="#3fa9e0">Δ</text><text x="2555.0" y="606.6" font-size="16.5" font-family="Liberation Serif" font-style="italic" fill="#3fa9e0">I</text>
<text x="2567.0" y="606.6" font-size="16.5" textLength="170.5" lengthAdjust="spacingAndGlyphs">gets sparser during</text>
<text x="2544.0" y="630.7" font-size="16.5" textLength="182.0" lengthAdjust="spacingAndGlyphs">fixed-point iterations</text>
<path d="M2542.4 672.3 C2575 632 2670 628 2712 668" fill="none" stroke="#156082" stroke-width="2.2" />
<polygon points="2721,676.5 2704,671 2713.5,661" fill="#156082"/>
<text x="2260.9" y="749.4" font-size="41.0" fill="#3fa9e0" textLength="24.0" lengthAdjust="spacingAndGlyphs">K</text>
<path d="M2304.1 728.9L2304.1 744.9M2297.2 732.9L2311.0 740.9M2311.0 732.9L2297.2 740.9" fill="none" stroke="#3fa9e0" stroke-width="2.4" stroke-linecap="round"/>
<text x="2663.5" y="746.0" font-size="41.0" fill="#3fa9e0" textLength="24.0" lengthAdjust="spacingAndGlyphs">K</text>
<path d="M2706.7 725.5L2706.7 741.5M2699.8 729.5L2713.6 737.5M2713.6 729.5L2699.8 737.5" fill="none" stroke="#3fa9e0" stroke-width="2.4" stroke-linecap="round"/>
<path d="M2416.3 854.5H2432.3M2424.3 846.5V862.5" fill="none" stroke="#000" stroke-width="2.8" />
<path d="M2420.7 898V912.7M2427.9 898V912.7" fill="none" stroke="#000" stroke-width="2.6" />
<path d="M2827.4 854.5H2843.4M2835.4 846.5V862.5" fill="none" stroke="#000" stroke-width="2.8" />
<path d="M2831.8 898V912.7M2839.0 898V912.7" fill="none" stroke="#000" stroke-width="2.6" />
<text x="2305.0" y="884.5" font-size="23.0" fill="#ee7f4a" textLength="87.0" lengthAdjust="spacingAndGlyphs">cached:</text>
<text x="2399.8" y="884.5" font-size="23.0" fill="#ee7f4a" textLength="13.5" lengthAdjust="spacingAndGlyphs">K</text>
<path d="M2424.2 873.6L2424.2 884.6M2419.4 876.4L2429.0 881.9M2429.0 876.4L2419.4 881.9" fill="none" stroke="#ee7f4a" stroke-width="1.7" stroke-linecap="round"/>
<text x="2437.0" y="884.5" font-size="23.0" font-family="Liberation Serif" font-style="italic" fill="#ee7f4a">I</text>
<text x="2444.9" y="891.4" font-size="16.6" font-family="Liberation Serif" font-style="italic" fill="#ee7f4a">t</text>
<text x="2446.5" y="874.1" font-size="16.6" font-family="Liberation Serif" font-style="italic" fill="#ee7f4a">i</text><text x="2452.1" y="874.1" font-size="16.6" font-family="Liberation Serif" fill="#ee7f4a">−1</text>
<text x="2716.0" y="885.5" font-size="23.0" fill="#ee7f4a" textLength="87.0" lengthAdjust="spacingAndGlyphs">cached:</text>
<text x="2810.8" y="885.5" font-size="23.0" fill="#ee7f4a" textLength="13.5" lengthAdjust="spacingAndGlyphs">K</text>
<path d="M2835.2 874.6L2835.2 885.6M2830.4 877.4L2840.0 882.9M2840.0 877.4L2830.4 882.9" fill="none" stroke="#ee7f4a" stroke-width="1.7" stroke-linecap="round"/>
<text x="2848.0" y="885.5" font-size="23.0" font-family="Liberation Serif" font-style="italic" fill="#ee7f4a">I</text>
<text x="2855.9" y="892.4" font-size="16.6" font-family="Liberation Serif" font-style="italic" fill="#ee7f4a">t</text>
<text x="2857.5" y="875.1" font-size="16.6" font-family="Liberation Serif" font-style="italic" fill="#ee7f4a">i</text>
<text x="2399.8" y="939.5" font-size="22.0" textLength="13.0" lengthAdjust="spacingAndGlyphs">K</text>
<path d="M2423.7 928.9L2423.7 939.9M2418.9 931.6L2428.5 937.1M2428.5 931.6L2418.9 937.1" fill="none" stroke="#000" stroke-width="1.7" stroke-linecap="round"/>
<text x="2437.0" y="939.5" font-size="23.0" font-family="Liberation Serif" font-style="italic">I</text>
<text x="2444.9" y="946.4" font-size="16.6" font-family="Liberation Serif" font-style="italic">t</text>
<text x="2446.5" y="929.1" font-size="16.6" font-family="Liberation Serif" font-style="italic">i</text>
<text x="2811.0" y="939.2" font-size="22.0" textLength="13.0" lengthAdjust="spacingAndGlyphs">K</text>
<path d="M2834.7 928.6L2834.7 939.6M2829.9 931.4L2839.5 936.9M2839.5 931.4L2829.9 936.9" fill="none" stroke="#000" stroke-width="1.7" stroke-linecap="round"/>
<text x="2848.0" y="939.2" font-size="23.0" font-family="Liberation Serif" font-style="italic">I</text>
<text x="2855.9" y="946.1" font-size="16.6" font-family="Liberation Serif" font-style="italic">t</text>
<text x="2857.5" y="928.9" font-size="16.6" font-family="Liberation Serif" font-style="italic">i</text><text x="2863.1" y="928.9" font-size="16.6" font-family="Liberation Serif">+1</text>
<path d="M2489.7 907.5H2482.5Q2479.5 907.5 2479.5 910.5V951.5Q2479.5 954.5 2482.5 954.5H2489.7M2472.5 931.0H2479.5" fill="none" stroke="#000" stroke-width="2.6" />
<path d="M2917.8 907.0H2910.5Q2907.5 907.0 2907.5 910.0V951.0Q2907.5 954.0 2910.5 954.0H2917.8M2900.5 930.5H2907.5" fill="none" stroke="#000" stroke-width="2.6" />
<text x="2498.0" y="922.8" font-size="21.5" textLength="76.0" lengthAdjust="spacingAndGlyphs">update</text>
<text x="2498.0" y="952.8" font-size="21.5" textLength="65.5" lengthAdjust="spacingAndGlyphs">cache</text>
<text x="2924.3" y="921.8" font-size="21.5" textLength="76.5" lengthAdjust="spacingAndGlyphs">update</text>
<text x="2924.3" y="951.7" font-size="21.5" textLength="66.5" lengthAdjust="spacingAndGlyphs">cache</text>
<path d="M2360.0 993.6V982.4Q2360.0 976.4 2365.0 976.4H2421.6Q2425.6 976.4 2425.6 960Q2425.6 976.4 2429.6 976.4H2550.7Q2555.7 976.4 2555.7 982.4V993.6" fill="none" stroke="#000" stroke-width="2.0" />
<path d="M2776.8 993.6V982.4Q2776.8 976.4 2781.8 976.4H2835.2Q2839.2 976.4 2839.2 960Q2839.2 976.4 2843.2 976.4H2985.0Q2990.0 976.4 2990.0 982.4V993.6" fill="none" stroke="#000" stroke-width="2.0" />
<text x="2362.5" y="1017.5" font-size="23.5" fill="#3fa9e0" textLength="73.0" lengthAdjust="spacingAndGlyphs">sparse</text>
<text x="2477.7" y="1017.5" font-size="23.5" fill="#ee7f4a" textLength="79.0" lengthAdjust="spacingAndGlyphs">cached</text>
<text x="2783.3" y="1016.8" font-size="23.5" fill="#3fa9e0" textLength="73.5" lengthAdjust="spacingAndGlyphs">sparse</text>
<text x="2897.2" y="1016.8" font-size="23.5" fill="#ee7f4a" textLength="80.0" lengthAdjust="spacingAndGlyphs">cached</text>
<text x="2274.4" y="1045.3" font-size="24.0" font-family="Liberation Serif" font-style="italic">O</text>
<text x="2292.0" y="1052.5" font-size="17.3" font-family="Liberation Serif" font-style="italic">t</text>
<text x="2293.7" y="1034.5" font-size="17.3" font-family="Liberation Serif" font-style="italic">i</text>
<text x="2305.5" y="1045.3" font-size="24.0" font-family="Liberation Serif" textLength="17.5" lengthAdjust="spacingAndGlyphs">≈</text>
<text x="2332.8" y="1045.3" font-size="24.0" font-family="Liberation Serif" font-style="italic">σ</text>
<text x="2347.5" y="1048.3" font-size="34.8" font-family="Liberation Serif">(</text>
<text x="2359.6" y="1045.3" font-size="22.0" fill="#3fa9e0" textLength="13.0" lengthAdjust="spacingAndGlyphs">K</text>
<text x="2373.5" y="1051.3" font-size="16.0" font-family="Liberation Serif" font-style="italic" fill="#3fa9e0">z</text>
<path d="M2396.4 1034.7L2396.4 1045.7M2391.6 1037.5L2401.2 1043.0M2401.2 1037.5L2391.6 1043.0" fill="none" stroke="#3fa9e0" stroke-width="1.7" stroke-linecap="round"/>
<text x="2408.4" y="1045.3" font-size="24.0" font-family="Liberation Serif" fill="#3fa9e0">Δ</text>
<text x="2423.8" y="1045.3" font-size="24.0" font-family="Liberation Serif" font-style="italic" fill="#3fa9e0">I</text>
<text x="2432.1" y="1052.5" font-size="17.3" font-family="Liberation Serif" font-style="italic" fill="#3fa9e0">t</text>
<text x="2433.7" y="1034.5" font-size="17.3" font-family="Liberation Serif" font-style="italic" fill="#3fa9e0">i</text>
<text x="2448.5" y="1045.3" font-size="24.0" font-family="Liberation Serif" textLength="15.5" lengthAdjust="spacingAndGlyphs">+</text>
<text x="2473.8" y="1045.3" font-size="22.0" fill="#ee7f4a" textLength="13.0" lengthAdjust="spacingAndGlyphs">K</text>
<text x="2487.7" y="1051.3" font-size="16.0" font-family="Liberation Serif" font-style="italic" fill="#ee7f4a">z</text>
<path d="M2510.0 1034.9L2510.0 1045.5M2505.4 1037.5L2514.6 1042.9M2514.6 1037.5L2505.4 1042.9" fill="none" stroke="#ee7f4a" stroke-width="1.7" stroke-linecap="round"/>
<text x="2523.2" y="1045.3" font-size="24.0" font-family="Liberation Serif" font-style="italic" fill="#ee7f4a">I</text>
<text x="2531.4" y="1052.5" font-size="17.3" font-family="Liberation Serif" font-style="italic" fill="#ee7f4a">t</text>
<text x="2533.1" y="1034.5" font-size="17.3" font-family="Liberation Serif" font-style="italic" fill="#ee7f4a">i</text><text x="2539.0" y="1034.5" font-size="17.3" font-family="Liberation Serif" fill="#ee7f4a">−1</text>
<text x="2565.0" y="1048.3" font-size="34.8" font-family="Liberation Serif">)</text>
<text x="2671.0" y="1044.6" font-size="24.0" font-family="Liberation Serif" font-style="italic">O</text>
<text x="2688.6" y="1051.8" font-size="17.3" font-family="Liberation Serif" font-style="italic">t</text>
<text x="2690.3" y="1033.8" font-size="17.3" font-family="Liberation Serif" font-style="italic">i</text><text x="2696.1" y="1033.8" font-size="17.3" font-family="Liberation Serif">+1</text>
<text x="2726.5" y="1044.6" font-size="24.0" font-family="Liberation Serif" textLength="17.5" lengthAdjust="spacingAndGlyphs">≈</text>
<text x="2754.0" y="1044.6" font-size="24.0" font-family="Liberation Serif" font-style="italic">σ</text>
<text x="2769.0" y="1047.6" font-size="34.8" font-family="Liberation Serif">(</text>
<text x="2781.0" y="1044.6" font-size="22.0" fill="#3fa9e0" textLength="13.0" lengthAdjust="spacingAndGlyphs">K</text>
<text x="2795.0" y="1050.6" font-size="16.0" font-family="Liberation Serif" font-style="italic" fill="#3fa9e0">z</text>
<path d="M2817.2 1034.0L2817.2 1045.0M2812.4 1036.8L2822.0 1042.2M2822.0 1036.8L2812.4 1042.2" fill="none" stroke="#3fa9e0" stroke-width="1.7" stroke-linecap="round"/>
<text x="2830.0" y="1044.6" font-size="24.0" font-family="Liberation Serif" fill="#3fa9e0">Δ</text>
<text x="2845.4" y="1044.6" font-size="24.0" font-family="Liberation Serif" font-style="italic" fill="#3fa9e0">I</text>
<text x="2853.7" y="1051.8" font-size="17.3" font-family="Liberation Serif" font-style="italic" fill="#3fa9e0">t</text>
<text x="2855.3" y="1033.8" font-size="17.3" font-family="Liberation Serif" font-style="italic" fill="#3fa9e0">i</text><text x="2861.2" y="1033.8" font-size="17.3" font-family="Liberation Serif" fill="#3fa9e0">+1</text>
<text x="2895.0" y="1044.6" font-size="24.0" font-family="Liberation Serif" textLength="15.5" lengthAdjust="spacingAndGlyphs">+</text>
<text x="2919.0" y="1044.6" font-size="22.0" fill="#ee7f4a" textLength="13.0" lengthAdjust="spacingAndGlyphs">K</text>
<text x="2933.0" y="1050.6" font-size="16.0" font-family="Liberation Serif" font-style="italic" fill="#ee7f4a">z</text>
<path d="M2955.4 1034.2L2955.4 1044.8M2950.8 1036.8L2960.0 1042.2M2960.0 1036.8L2950.8 1042.2" fill="none" stroke="#ee7f4a" stroke-width="1.7" stroke-linecap="round"/>
<text x="2966.7" y="1044.6" font-size="24.0" font-family="Liberation Serif" font-style="italic" fill="#ee7f4a">I</text>
<text x="2974.9" y="1051.8" font-size="17.3" font-family="Liberation Serif" font-style="italic" fill="#ee7f4a">t</text>
<text x="2976.6" y="1033.8" font-size="17.3" font-family="Liberation Serif" font-style="italic" fill="#ee7f4a">i</text>
<text x="2987.5" y="1047.6" font-size="34.8" font-family="Liberation Serif">)</text>
<path d="M2426.2 1054.3h3.8v13h5.8l-7.7 14.4l-7.7 -14.4h5.8z" fill="#156082"/>
<path d="M2836.1 1054.3h3.8v13h5.8l-7.7 14.4l-7.7 -14.4h5.8z" fill="#156082"/>
<text x="2270.6" y="1100.2" font-size="22.0" textLength="37.0" lengthAdjust="spacingAndGlyphs">Iter</text>
<text x="2313.0" y="1100.2" font-size="22.0" font-weight="bold">i</text>
<text x="2319.5" y="1100.2" font-size="22.0" textLength="255.5" lengthAdjust="spacingAndGlyphs">: input for the next layer</text>
<text x="2581.6" y="1100.2" font-size="23.0" font-family="Liberation Serif" font-style="italic">O</text>
<text x="2598.4" y="1107.1" font-size="16.6" font-family="Liberation Serif" font-style="italic">t</text>
<text x="2600.1" y="1089.9" font-size="16.6" font-family="Liberation Serif" font-style="italic">i</text>
<text x="2671.0" y="1098.2" font-size="22.0" textLength="37.0" lengthAdjust="spacingAndGlyphs">Iter</text>
<text x="2713.5" y="1098.2" font-size="22.0" font-weight="bold" textLength="33.0" lengthAdjust="spacingAndGlyphs">i+1</text>
<text x="2747.0" y="1098.2" font-size="22.0" textLength="255.5" lengthAdjust="spacingAndGlyphs">: input for the next layer</text>
<text x="3008.0" y="1098.2" font-size="23.0" font-family="Liberation Serif" font-style="italic">O</text>
<text x="3024.8" y="1105.1" font-size="16.6" font-family="Liberation Serif" font-style="italic">t</text>
<text x="3026.5" y="1087.9" font-size="16.6" font-family="Liberation Serif" font-style="italic">i</text><text x="3032.0" y="1087.9" font-size="16.6" font-family="Liberation Serif">+1</text>
<defs><linearGradient id="cg" x1="0" y1="0" x2="1" y2="0"><stop offset="0" stop-color="#3a1a0e"/><stop offset="0.45" stop-color="#8a4424"/><stop offset="1" stop-color="#ee8a52"/></linearGradient></defs>
<path d="M2586.3 930.5 C2640 965 2710 962 2753 905" fill="none" stroke="url(#cg)" stroke-width="2.3" />
<polygon points="2762,894 2759,913.5 2745.5,903.5" fill="#ee8a52"/>
<path d="M3086 468.4 C3070 474 3072 500 3072 530 V655 C3072 676 3068 684 3056.6 688.8 C3068 693.5 3072 702 3072 722 V1050 C3072 1078 3072 1090 3086 1095" fill="none" stroke="#156082" stroke-width="3.2" />
<text x="2977.5" y="694.0" font-size="21.0" fill="#3fa9e0" textLength="12.5" lengthAdjust="spacingAndGlyphs">K</text>
<path d="M2999.8 684.2L2999.8 692.8M2996.1 686.4L3003.5 690.6M3003.5 686.4L2996.1 690.6" fill="none" stroke="#3fa9e0" stroke-width="1.5" stroke-linecap="round"/>
<text x="3012.0" y="694.0" font-size="21.0" font-family="Liberation Serif" fill="#3fa9e0">Δ</text>
<text x="3033.0" y="694.0" font-size="22.0" font-family="Liberation Serif" font-style="italic" fill="#3fa9e0">I</text>
<text x="3114.0" y="476.8" font-size="23.0" textLength="209.0" lengthAdjust="spacingAndGlyphs">sparse convolution</text>
<text x="3251.2" y="551.3" font-size="23.0" textLength="129.5" lengthAdjust="spacingAndGlyphs">convolution</text>
<text x="3251.2" y="581.4" font-size="23.0" textLength="66.5" lengthAdjust="spacingAndGlyphs">kernel</text>
<text x="3325.2" y="581.4" font-size="23.0" fill="#3fa9e0" textLength="13.0" lengthAdjust="spacingAndGlyphs">K</text>
<defs><radialGradient id="gf" cx="0.42" cy="0.55" r="0.62"><stop offset="0.55" stop-color="#fff" stop-opacity="0"/><stop offset="1" stop-color="#fff" stop-opacity="0.85"/></radialGradient></defs>
<polygon points="3156.9,760.8 3168.4,754.8 3178.1,760.8 3166.7,766.7" fill="#ff9ec4"/>
<polygon points="3158.6,748.9 3170.1,743.0 3179.8,748.9 3168.4,754.8" fill="#ff9ec4"/>
<polygon points="3187.9,766.7 3199.4,760.8 3209.2,766.7 3197.7,772.7" fill="#ff9ec4"/>
<polygon points="3209.2,766.7 3220.6,760.8 3230.4,766.7 3218.9,772.7" fill="#ff9ec4"/>
<polygon points="3263.1,760.8 3274.6,754.8 3284.4,760.8 3272.9,766.7" fill="#ff9ec4"/>
<polygon points="3233.8,743.0 3245.3,737.0 3255.1,743.0 3243.6,748.9" fill="#ff9ec4"/>
<polygon points="3227.5,713.2 3239.0,707.3 3248.7,713.2 3237.2,719.2" fill="#ff9ec4"/>
<polygon points="3286.1,748.9 3297.6,743.0 3307.3,748.9 3295.9,754.8" fill="#ff9ec4"/>
<polygon points="3258.5,719.2 3270.0,713.2 3279.7,719.2 3268.3,725.1" fill="#ff9ec4"/>
<polygon points="3287.8,737.0 3299.3,731.1 3309.1,737.0 3297.6,743.0" fill="#ff9ec4"/>
<polygon points="3171.8,731.1 3183.3,725.1 3193.0,731.1 3181.6,737.0" fill="#ff9ec4"/>
<polygon points="3230.4,766.7 3241.9,760.8 3251.7,766.7 3240.2,772.7" fill="#ff9ec4"/>
<polygon points="3148.8,743.0 3160.3,737.0 3170.1,743.0 3158.6,748.9" fill="#ff9ec4"/>
<polygon points="3178.1,760.8 3189.6,754.8 3199.4,760.8 3187.9,766.7" fill="#ff9ec4"/>
<polygon points="3147.1,754.8 3158.6,748.9 3168.4,754.8 3156.9,760.8" fill="#ff9ec4"/>
<polygon points="3194.7,719.2 3206.2,713.2 3216.0,719.2 3204.5,725.1" fill="#ff9ec4"/>
<polygon points="3278.0,731.1 3289.5,725.1 3299.3,731.1 3287.8,737.0" fill="#ff9ec4"/>
<polygon points="3247.0,725.1 3258.5,719.2 3268.3,725.1 3256.8,731.1" fill="#ff9ec4"/>
<polygon points="3276.3,743.0 3287.8,737.0 3297.6,743.0 3286.1,748.9" fill="#ff9ec4"/>
<polygon points="3162.0,725.1 3173.5,719.2 3183.3,725.1 3171.8,731.1" fill="#ff9ec4"/>
<polygon points="3251.7,766.7 3263.1,760.8 3272.9,766.7 3261.4,772.7" fill="#ff9ec4"/>
<polygon points="3197.7,772.7 3209.2,766.7 3218.9,772.7 3207.4,778.6" fill="#ff9ec4"/>
<polygon points="3166.7,766.7 3178.1,760.8 3187.9,766.7 3176.4,772.7" fill="#ff9ec4"/>
<polygon points="3160.3,737.0 3171.8,731.1 3181.6,737.0 3170.1,743.0" fill="#ff9ec4"/>
<polygon points="3168.4,754.8 3179.8,748.9 3189.6,754.8 3178.1,760.8" fill="#ff9ec4"/>
<polygon points="3216.0,719.2 3227.5,713.2 3237.2,719.2 3225.8,725.1" fill="#ff9ec4"/>
<polygon points="3218.9,772.7 3230.4,766.7 3240.2,772.7 3228.7,778.6" fill="#ff9ec4"/>
<polygon points="3274.6,754.8 3286.1,748.9 3295.9,754.8 3284.4,760.8" fill="#ff9ec4"/>
<polygon points="3237.2,719.2 3248.7,713.2 3258.5,719.2 3247.0,725.1" fill="#ff9ec4"/>
<polygon points="3297.6,743.0 3309.1,737.0 3318.8,743.0 3307.3,748.9" fill="#ff9ec4"/>
<polygon points="3268.3,725.1 3279.7,719.2 3289.5,725.1 3278.0,731.1" fill="#ff9ec4"/>
<polygon points="3183.3,725.1 3194.7,719.2 3204.5,725.1 3193.0,731.1" fill="#ff9ec4"/>
<polygon points="3212.6,743.0 3224.1,737.0 3233.8,743.0 3222.3,748.9" fill="#ff9ec4"/>
<polygon points="3240.2,772.7 3251.7,766.7 3261.4,772.7 3249.9,778.6" fill="#ff9ec4"/>
<path d="M3083.4 754.8L3200.6 826.2M3094.8 748.9L3212.1 820.2M3106.3 743.0L3223.6 814.3M3117.8 737.0L3235.1 808.3M3129.3 731.1L3246.5 802.4M3140.8 725.1L3258.0 796.5M3152.2 719.2L3269.5 790.5M3163.7 713.2L3281.0 784.6M3175.2 707.3L3292.4 778.6M3186.7 701.4L3303.9 772.7M3198.2 695.4L3315.4 766.7M3209.6 689.5L3326.9 760.8M3221.1 683.5L3338.4 754.8M3232.6 677.6L3349.8 748.9M3244.1 671.6L3361.3 743.0M3255.6 665.7L3372.8 737.0M3267.0 659.7L3384.3 731.1M3083.4 754.8L3267.0 659.7M3093.1 760.8L3276.8 665.7M3102.9 766.7L3286.6 671.6M3112.7 772.7L3296.4 677.6M3122.4 778.6L3306.1 683.5M3132.2 784.6L3315.9 689.5M3142.0 790.5L3325.7 695.4M3151.8 796.5L3335.4 701.4M3161.5 802.4L3345.2 707.3M3171.3 808.3L3355.0 713.2M3181.1 814.3L3364.7 719.2M3190.8 820.2L3374.5 725.1M3200.6 826.2L3384.3 731.1" fill="none" stroke="#cfcfcf" stroke-width="0.8" />
<polygon points="3080.4,754.8 3267.0,656.7 3387.3,731.1 3200.6,829.2" fill="url(#gf)"/>
<line x1="3151.0" y1="578.8" x2="3083.4" y2="754.8" stroke="#000" stroke-width="1.3" stroke-dasharray="5,3"/>
<line x1="3187.4" y1="598.0" x2="3112.7" y2="772.7" stroke="#000" stroke-width="1.3" stroke-dasharray="5,3"/>
<line x1="3179.0" y1="593.4" x2="3117.8" y2="737.0" stroke="#000" stroke-width="1.3" stroke-dasharray="5,3"/>
<line x1="3239.0" y1="569.9" x2="3145.9" y2="753.6" stroke="#000" stroke-width="1.3" stroke-dasharray="5,3"/>
<line x1="3151.0" y1="578.8" x2="3213.5" y2="714.0" stroke="#000" stroke-width="1.5" />
<line x1="3187.4" y1="598.0" x2="3242.8" y2="730.6" stroke="#000" stroke-width="1.5" />
<line x1="3213.5" y1="583.2" x2="3246.6" y2="696.2" stroke="#000" stroke-width="1.5" />
<line x1="3239.0" y1="569.9" x2="3274.7" y2="711.5" stroke="#000" stroke-width="1.5" />
<polygon points="3185.8,559.6 3203.3,550.0 3215.4,556.4 3198.0,566.0" fill="#4a1a7a" stroke="#222" stroke-width="0.8"/>
<polygon points="3198.0,566.0 3215.4,556.4 3227.6,562.8 3210.2,572.4" fill="#d2e2fa" stroke="#222" stroke-width="0.8"/>
<polygon points="3210.2,572.4 3227.6,562.8 3239.7,569.1 3222.3,578.7" fill="#a4dce8" stroke="#222" stroke-width="0.8"/>
<polygon points="3168.4,569.2 3185.8,559.6 3198.0,566.0 3180.6,575.6" fill="#ecc48e" stroke="#222" stroke-width="0.8"/>
<polygon points="3180.6,575.6 3198.0,566.0 3210.2,572.4 3192.7,582.0" fill="#c4c6c8" stroke="#222" stroke-width="0.8"/>
<polygon points="3192.7,582.0 3210.2,572.4 3222.3,578.7 3204.9,588.4" fill="#7695dc" stroke="#222" stroke-width="0.8"/>
<polygon points="3151.0,578.8 3168.4,569.2 3180.6,575.6 3163.1,585.2" fill="#1f5a32" stroke="#222" stroke-width="0.8"/>
<polygon points="3163.1,585.2 3180.6,575.6 3192.7,582.0 3175.3,591.6" fill="#ecc896" stroke="#222" stroke-width="0.8"/>
<polygon points="3175.3,591.6 3192.7,582.0 3204.9,588.4 3187.4,598.0" fill="#4a3223" stroke="#222" stroke-width="0.8"/>
<polygon points="3083.4,754.8 3117.8,737.0 3145.9,753.6 3112.7,772.7" fill="none" stroke="#0e2f44" stroke-width="3" stroke-linejoin="miter"/>
<polygon points="3213.5,714.0 3246.6,696.2 3274.7,711.5 3242.8,730.6" fill="none" stroke="#0e2f44" stroke-width="3" stroke-linejoin="miter"/>
<text x="3107.3" y="858.7" font-size="23.0" textLength="73.0" lengthAdjust="spacingAndGlyphs">sparse</text>
<text x="3090.1" y="889.7" font-size="23.0" textLength="107.5" lengthAdjust="spacingAndGlyphs">activation</text>
<text x="3276.8" y="858.7" font-size="23.0" textLength="57.5" lengthAdjust="spacingAndGlyphs">conv.</text>
<text x="3276.8" y="889.7" font-size="23.0" textLength="66.5" lengthAdjust="spacingAndGlyphs">kernel</text>
<rect x="3106.0" y="905.6" width="53.6" height="59.3" fill="#fff" /><rect x="3106.0" y="925.4" width="17.9" height="19.8" fill="#ff9cc0" /><rect x="3106.0" y="945.1" width="17.9" height="19.8" fill="#ff9cc0" /><path d="M3106.0 905.6V964.9M3106.0 905.6H3159.6M3123.9 905.6V964.9M3106.0 925.4H3159.6M3141.7 905.6V964.9M3106.0 945.1H3159.6M3159.6 905.6V964.9M3106.0 964.9H3159.6" fill="none" stroke="#9a9a9a" stroke-width="1.3" />
<rect x="3106.0" y="994.5" width="53.6" height="59.3" fill="#fff" /><path d="M3106.0 994.5V1053.8M3106.0 994.5H3159.6M3123.9 994.5V1053.8M3106.0 1014.3H3159.6M3141.7 994.5V1053.8M3106.0 1034.0H3159.6M3159.6 994.5V1053.8M3106.0 1053.8H3159.6" fill="none" stroke="#9a9a9a" stroke-width="1.3" />
<path d="M3159.6 905.6H3279.5M3159.6 964.3H3279.5M3159.6 905.6V964.3" fill="none" stroke="#000" stroke-width="1.5" />
<line x1="3159.6" y1="994.1" x2="3279.5" y2="905.6" stroke="#333" stroke-width="1.2" stroke-dasharray="4.5,2.2"/>
<line x1="3160.5" y1="1053.8" x2="3279.1" y2="963.9" stroke="#333" stroke-width="1.2" stroke-dasharray="4.5,2.2"/>
<rect x="3279.5" y="903.3" width="18.0" height="20.1" fill="#1f5a32" stroke="#000" stroke-width="1.4" />
<rect x="3297.5" y="903.3" width="18.0" height="20.1" fill="#ecc48e" stroke="#000" stroke-width="1.4" />
<rect x="3315.6" y="903.3" width="18.0" height="20.1" fill="#4a1a7a" stroke="#000" stroke-width="1.4" />
<rect x="3279.5" y="923.4" width="18.0" height="20.1" fill="#ecc896" stroke="#000" stroke-width="1.4" />
<rect x="3297.5" y="923.4" width="18.0" height="20.1" fill="#c4c6c8" stroke="#000" stroke-width="1.4" />
<rect x="3315.6" y="923.4" width="18.0" height="20.1" fill="#d2e2fa" stroke="#000" stroke-width="1.4" />
<rect x="3279.5" y="943.4" width="18.0" height="20.1" fill="#4a3223" stroke="#000" stroke-width="1.4" />
<rect x="3297.5" y="943.4" width="18.0" height="20.1" fill="#7695dc" stroke="#000" stroke-width="1.4" />
<rect x="3315.6" y="943.4" width="18.0" height="20.1" fill="#a4dce8" stroke="#000" stroke-width="1.4" />
<text x="3168.6" y="928.5" font-size="18.0" textLength="55.5" lengthAdjust="spacingAndGlyphs">partial</text>
<text x="3167.5" y="952.4" font-size="18.0" textLength="58.0" lengthAdjust="spacingAndGlyphs">sparse</text>
<g transform="translate(3181,995) rotate(-36)"><text x="0.0" y="0.0" font-size="18.0" textLength="37.0" lengthAdjust="spacingAndGlyphs">fully</text></g>
<g transform="translate(3192,1023) rotate(-36)"><text x="0.0" y="0.0" font-size="18.0" textLength="57.0" lengthAdjust="spacingAndGlyphs">sparse</text></g>
<text x="3110.8" y="1091.1" font-size="25.0" textLength="30.0" lengthAdjust="spacingAndGlyphs">(b)</text>
<!-- p_table -->
<rect x="2193.5" y="1341.5" width="1192.0" height="99.5" fill="#4472c4" />
<rect x="2193.5" y="1441.0" width="1192.0" height="3.5" fill="#fff" />
<rect x="2193.5" y="1443.5" width="1192.0" height="60.0" fill="#cfd5ea" />
<rect x="2193.5" y="1503.5" width="1192.0" height="60.0" fill="#e9ebf5" />
<rect x="2193.5" y="1563.5" width="1192.0" height="68.0" fill="#cfd5ea" />
<rect x="2193.5" y="1631.5" width="1192.0" height="68.0" fill="#e9ebf5" />
<rect x="2193.5" y="1699.5" width="1192.0" height="68.0" fill="#cfd5ea" />
<line x1="2193.5" y1="1503.5" x2="3385.5" y2="1503.5" stroke="#fff" stroke-width="2" />
<line x1="2193.5" y1="1563.5" x2="3385.5" y2="1563.5" stroke="#fff" stroke-width="2" />
<line x1="2193.5" y1="1631.5" x2="3385.5" y2="1631.5" stroke="#fff" stroke-width="2" />
<line x1="2193.5" y1="1699.5" x2="3385.5" y2="1699.5" stroke="#fff" stroke-width="2" />
<line x1="2193.5" y1="1442.7" x2="3385.5" y2="1442.7" stroke="#fff" stroke-width="4.5" />
<line x1="2391.5" y1="1341.5" x2="2391.5" y2="1767.5" stroke="#fff" stroke-width="2" />
<line x1="2590.5" y1="1341.5" x2="2590.5" y2="1767.5" stroke="#fff" stroke-width="2" />
<line x1="2789.0" y1="1441.0" x2="2789.0" y2="1767.5" stroke="#fff" stroke-width="2" />
<line x1="2983.0" y1="1341.5" x2="2983.0" y2="1767.5" stroke="#fff" stroke-width="2" />
<line x1="3187.5" y1="1341.5" x2="3187.5" y2="1767.5" stroke="#fff" stroke-width="2" />
<text x="2292.5" y="1377.0" font-size="30.0" font-weight="bold" fill="#fff" text-anchor="middle" textLength="113.0" lengthAdjust="spacingAndGlyphs">Method</text>
<text x="2492.0" y="1377.0" font-size="30.0" font-weight="bold" fill="#fff" text-anchor="middle" textLength="176.0" lengthAdjust="spacingAndGlyphs">Threshold τ</text>
<text x="2789.5" y="1377.0" font-size="30.0" font-weight="bold" fill="#fff" text-anchor="middle" textLength="212.0" lengthAdjust="spacingAndGlyphs">Sintel (train) ↓</text>
<text x="2688.0" y="1415.5" font-size="30.0" font-weight="bold" fill="#fff" text-anchor="middle" textLength="87.0" lengthAdjust="spacingAndGlyphs">Clean</text>
<text x="2884.0" y="1415.5" font-size="30.0" font-weight="bold" fill="#fff" text-anchor="middle" textLength="74.0" lengthAdjust="spacingAndGlyphs">Final</text>
<text x="3109.0" y="1377.0" font-size="30.0" font-weight="bold" fill="#fff" text-anchor="middle" textLength="125.0" lengthAdjust="spacingAndGlyphs">Sparsity</text>
<text x="3017.5" y="1377.0" font-size="27.0" font-family="Liberation Serif" fill="#fff">Δ</text>
<text x="3287.0" y="1377.0" font-size="30.0" font-weight="bold" fill="#fff" text-anchor="middle" textLength="101.0" lengthAdjust="spacingAndGlyphs">FLOPs</text>
<text x="3287.0" y="1415.5" font-size="30.0" font-weight="bold" fill="#fff" text-anchor="middle" textLength="117.0" lengthAdjust="spacingAndGlyphs">per pair</text>
<text x="2292.5" y="1477.5" font-size="29.0" text-anchor="middle" textLength="127.0" lengthAdjust="spacingAndGlyphs">RAFT [3]</text>
<text x="2491.0" y="1477.5" font-size="29.0" text-anchor="middle">-</text>
<text x="2690.0" y="1477.5" font-size="29.0" text-anchor="middle" textLength="62.1" lengthAdjust="spacingAndGlyphs">1.43</text>
<text x="2885.5" y="1477.5" font-size="29.0" text-anchor="middle" textLength="62.1" lengthAdjust="spacingAndGlyphs">2.51</text>
<text x="3085.0" y="1477.5" font-size="29.0" text-anchor="middle">-</text>
<text x="3287.0" y="1477.5" font-size="29.0" text-anchor="middle">-</text>
<text x="2292.5" y="1538.0" font-size="29.0" text-anchor="middle" textLength="113.5" lengthAdjust="spacingAndGlyphs">DEQ [1]</text>
<text x="2491.0" y="1538.0" font-size="29.0" text-anchor="middle">-</text>
<text x="2690.0" y="1538.0" font-size="29.0" text-anchor="middle" textLength="62.1" lengthAdjust="spacingAndGlyphs">1.27</text>
<text x="2885.5" y="1538.0" font-size="29.0" text-anchor="middle" textLength="62.1" lengthAdjust="spacingAndGlyphs">2.51</text>
<text x="3085.0" y="1538.0" font-size="29.0" text-anchor="middle">-</text>
<text x="3287.0" y="1538.0" font-size="29.0" text-anchor="middle" textLength="78.0" lengthAdjust="spacingAndGlyphs">520G</text>
<text x="2292.5" y="1598.5" font-size="29.0" text-anchor="middle" textLength="143.6" lengthAdjust="spacingAndGlyphs">DeltaDEQ</text>
<text x="2491.0" y="1598.5" font-size="29.0" text-anchor="middle" textLength="44.3" lengthAdjust="spacingAndGlyphs">0.0</text>
<text x="2690.0" y="1598.5" font-size="29.0" text-anchor="middle" textLength="62.1" lengthAdjust="spacingAndGlyphs">1.22</text>
<text x="2885.5" y="1598.5" font-size="29.0" text-anchor="middle" textLength="62.1" lengthAdjust="spacingAndGlyphs">2.55</text>
<text x="3085.0" y="1598.5" font-size="29.0" text-anchor="middle" textLength="62.1" lengthAdjust="spacingAndGlyphs">0.53</text>
<text x="3287.0" y="1598.5" font-size="29.0" text-anchor="middle" textLength="78.0" lengthAdjust="spacingAndGlyphs">255G</text>
<text x="2292.5" y="1666.0" font-size="29.0" font-weight="bold" text-anchor="middle" textLength="147.1" lengthAdjust="spacingAndGlyphs">DeltaDEQ</text>
<text x="2491.0" y="1666.0" font-size="29.0" text-anchor="middle" textLength="79.8" lengthAdjust="spacingAndGlyphs">0.005</text>
<text x="2690.0" y="1666.0" font-size="29.0" text-anchor="middle" textLength="62.1" lengthAdjust="spacingAndGlyphs">1.31</text>
<text x="2885.5" y="1666.0" font-size="29.0" text-anchor="middle" textLength="62.1" lengthAdjust="spacingAndGlyphs">2.63</text>
<text x="3085.0" y="1666.0" font-size="29.0" text-anchor="middle" textLength="62.1" lengthAdjust="spacingAndGlyphs">0.74</text>
<text x="3287.0" y="1666.0" font-size="29.0" font-weight="bold" text-anchor="middle" textLength="78.0" lengthAdjust="spacingAndGlyphs">141G</text>
<text x="2292.5" y="1734.0" font-size="29.0" text-anchor="middle" textLength="143.6" lengthAdjust="spacingAndGlyphs">DeltaDEQ</text>
<text x="2491.0" y="1734.0" font-size="29.0" text-anchor="middle" textLength="62.1" lengthAdjust="spacingAndGlyphs">0.01</text>
<text x="2690.0" y="1734.0" font-size="29.0" text-anchor="middle" textLength="62.1" lengthAdjust="spacingAndGlyphs">2.04</text>
<text x="2885.5" y="1734.0" font-size="29.0" text-anchor="middle" textLength="62.1" lengthAdjust="spacingAndGlyphs">3.31</text>
<text x="3085.0" y="1734.0" font-size="29.0" text-anchor="middle" textLength="62.1" lengthAdjust="spacingAndGlyphs">0.83</text>
<text x="3287.0" y="1734.0" font-size="29.0" text-anchor="middle" textLength="78.0" lengthAdjust="spacingAndGlyphs">147G</text>
</svg>
</body></html>
